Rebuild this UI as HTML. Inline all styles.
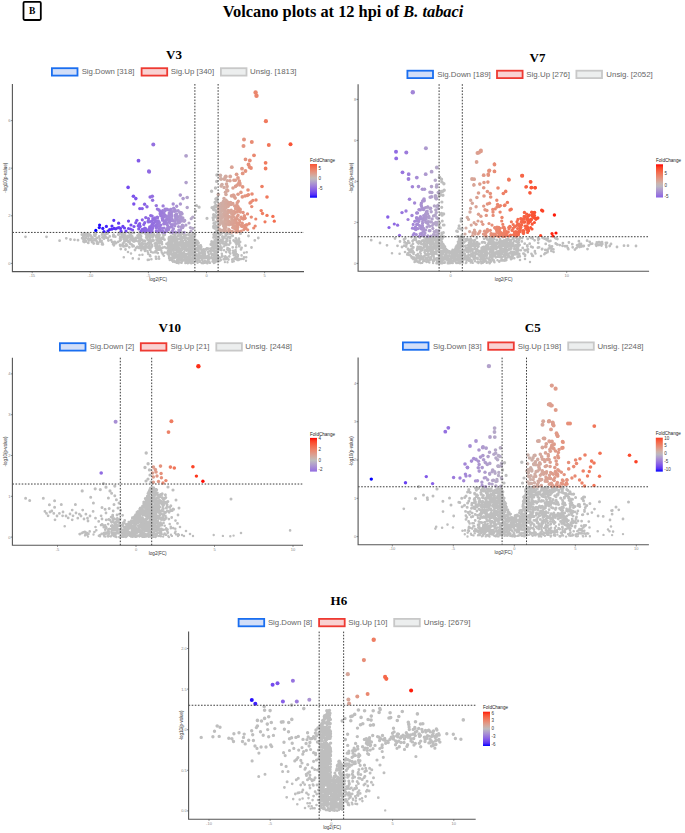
<!DOCTYPE html>
<html><head><meta charset="utf-8"><style>html,body{margin:0;padding:0;background:#fff;}svg{display:block;}.ss{font-family:'Liberation Sans',sans-serif;}.sf{font-family:'Liberation Serif',serif;}</style></head>
<body>
<svg width="685" height="833" viewBox="0 0 685 833">
<rect width="685" height="833" fill="#fff"/>
<rect x="23.5" y="1.9" width="17.3" height="18.1" rx="1.2" fill="none" stroke="#000" stroke-width="1.8"/>
<text x="32.2" y="13.8" class="sf" font-weight="bold" font-size="9.5" text-anchor="middle">B</text>
<text x="343" y="16.5" class="sf" font-weight="bold" font-size="16.4" text-anchor="middle">Volcano plots at 12 hpi of <tspan font-style="italic">B. tabaci</tspan></text>
<text x="174" y="58.6" class="sf" font-weight="bold" font-size="13" text-anchor="middle">V3</text>
<rect x="51.9" y="68.2" width="25.6" height="7.4" fill="#d2def8" stroke="#1a6ef0" stroke-width="1.8"/>
<text x="81.7" y="74.3" class="ss" font-size="8" fill="#666" textLength="52.7" lengthAdjust="spacingAndGlyphs">Sig.Down [318]</text>
<rect x="141.6" y="68.2" width="25.6" height="7.4" fill="#f9d2d2" stroke="#ee3a32" stroke-width="1.8"/>
<text x="170.7" y="74.3" class="ss" font-size="8" fill="#666" textLength="43.5" lengthAdjust="spacingAndGlyphs">Sig.Up [340]</text>
<rect x="220.9" y="68.2" width="25.6" height="7.4" fill="#eceeee" stroke="#c8c8c8" stroke-width="1.8"/>
<text x="250.1" y="74.3" class="ss" font-size="8" fill="#666" textLength="46.4" lengthAdjust="spacingAndGlyphs">Unsig. [1813]</text>
<path d="M25.5 236.8h0M46.5 236.8h0M59.6 240.7h0M66.3 238.3h0M70.5 239.5h0M74.5 239.8h0M78.0 240.2h0M83.0 239.0h0M83.5 236.3h0M86.0 241.5h0M88.5 238.5h0M91.0 236.0h0M92.0 242.0h0M95.0 239.5h0M97.0 243.5h0M102.4 237.4h0M84.2 239.4h0M83.4 238.4h0M98.1 243.7h0M103.9 237.9h0M114.6 236.4h0M93.7 243.5h0M88.9 240.4h0M106.3 237.5h0M107.9 238.3h0M93.9 240.4h0M99.2 236.5h0M112.2 241.9h0M91.3 240.3h0M102.0 244.3h0M109.7 236.4h0M97.9 242.7h0M87.8 239.1h0M83.5 241.5h0M111.1 240.2h0M115.3 236.7h0M108.4 240.5h0M104.0 238.7h0M113.9 245.3h0M100.0 241.5h0M84.3 242.0h0M113.2 236.3h0M96.7 241.5h0M82.9 238.7h0M86.9 235.8h0M85.1 238.6h0M102.9 244.4h0M113.1 244.2h0M92.6 238.1h0M90.9 239.0h0M104.4 236.0h0M82.2 238.2h0M96.0 240.1h0M118.2 241.8h0M101.6 240.8h0M116.2 243.0h0M115.2 243.3h0M96.9 237.9h0M85.9 241.1h0M85.9 237.4h0M91.6 237.2h0M99.7 239.0h0M95.0 236.1h0M114.8 241.9h0M91.9 237.5h0M88.3 242.9h0M102.2 243.0h0M114.4 243.4h0M113.1 242.5h0M90.6 239.5h0M121.1 237.1h0M130.4 243.9h0M158.3 239.9h0M158.2 238.5h0M128.8 236.2h0M127.9 235.9h0M145.0 247.4h0M153.6 240.4h0M146.1 245.7h0M123.4 243.4h0M156.4 245.4h0M150.0 240.4h0M127.1 245.5h0M133.3 245.7h0M158.9 239.0h0M136.1 248.1h0M156.2 245.8h0M125.8 246.1h0M159.2 243.3h0M134.0 241.6h0M158.8 243.2h0M141.1 247.9h0M137.4 246.9h0M153.0 236.0h0M130.1 237.3h0M129.6 242.2h0M130.4 239.4h0M134.2 240.1h0M143.3 247.4h0M136.8 247.6h0M140.1 241.3h0M120.2 245.7h0M126.9 240.3h0M149.0 241.7h0M133.0 241.1h0M142.2 245.4h0M124.2 241.7h0M129.9 237.1h0M150.9 240.9h0M142.5 245.0h0M156.5 239.8h0M144.5 240.8h0M140.5 243.9h0M138.1 241.3h0M139.1 248.0h0M148.0 247.0h0M157.7 236.8h0M142.4 248.1h0M124.9 239.8h0M122.9 236.5h0M122.9 243.5h0M151.4 247.3h0M126.2 244.3h0M135.9 240.5h0M159.6 246.2h0M126.5 239.6h0M140.6 238.1h0M127.8 237.8h0M142.2 239.8h0M120.7 238.0h0M145.0 241.0h0M124.2 236.9h0M121.6 245.4h0M136.9 247.5h0M152.8 236.8h0M142.8 244.1h0M147.5 239.5h0M145.4 245.7h0M138.2 238.1h0M142.1 247.8h0M141.1 236.4h0M122.0 235.8h0M132.5 237.5h0M150.4 237.3h0M149.3 241.6h0M127.6 240.3h0M152.8 239.6h0M139.8 246.3h0M135.7 240.9h0M133.7 246.2h0M148.3 243.0h0M136.2 238.2h0M122.8 244.7h0M123.4 246.4h0M154.8 243.6h0M131.3 236.5h0M131.7 240.1h0M126.3 239.9h0M158.9 241.5h0M132.4 238.4h0M120.0 238.8h0M139.0 240.8h0M128.0 240.8h0M120.2 236.9h0M123.6 239.1h0M132.2 236.3h0M143.4 241.2h0M150.0 243.3h0M148.6 247.0h0M135.6 237.9h0M149.0 243.1h0M155.7 242.9h0M149.4 245.9h0M125.6 241.1h0M140.2 246.3h0M152.2 246.1h0M143.4 247.2h0M147.3 243.9h0M125.3 238.5h0M124.2 246.3h0M142.3 242.9h0M145.0 243.7h0M151.9 244.8h0M140.1 241.3h0M149.5 236.7h0M123.0 236.9h0M149.2 235.9h0M139.8 238.8h0M139.2 243.8h0M150.7 242.7h0M125.9 236.7h0M149.7 237.5h0M122.4 236.9h0M146.9 243.9h0M147.0 237.3h0M140.7 240.2h0M155.7 235.8h0M159.1 247.9h0M120.7 240.1h0M138.0 236.9h0M128.4 242.1h0M125.7 241.1h0M152.8 240.9h0M155.5 244.1h0M129.3 247.3h0M120.1 240.6h0M138.0 237.5h0M125.6 238.2h0M132.6 246.4h0M120.1 244.9h0M157.1 244.3h0M156.1 237.3h0M134.9 239.0h0M160.0 242.2h0M134.4 239.6h0M124.1 246.3h0M130.0 236.9h0M155.4 245.9h0M145.2 247.6h0M157.6 241.6h0M149.3 239.9h0M150.1 243.1h0M138.9 238.2h0M131.9 244.7h0M159.1 236.8h0M146.2 237.5h0M120.8 249.0h0M125.5 249.5h0M135.0 250.0h0M143.3 248.4h0M149.9 249.3h0M149.0 248.1h0M146.8 247.4h0M144.8 249.9h0M159.4 247.9h0M157.3 249.2h0M145.4 249.7h0M157.5 246.3h0M159.4 249.7h0M142.2 248.3h0M185.4 245.7h0M171.5 244.4h0M171.0 239.8h0M178.5 243.7h0M184.2 238.3h0M176.1 249.7h0M174.3 244.3h0M176.3 238.6h0M179.3 244.5h0M174.1 238.9h0M177.1 248.7h0M186.4 243.0h0M181.6 243.2h0M194.2 245.9h0M190.1 243.9h0M181.4 242.8h0M174.0 248.6h0M172.0 248.0h0M171.8 239.3h0M169.6 248.0h0M193.2 246.4h0M188.2 238.8h0M185.9 247.6h0M178.1 246.4h0M172.6 238.1h0M175.6 246.9h0M193.8 241.1h0M194.0 243.3h0M190.2 249.0h0M169.3 250.0h0M173.2 247.3h0M192.2 238.8h0M188.7 239.0h0M168.9 239.6h0M192.8 244.5h0M177.2 244.9h0M176.5 245.0h0M193.5 238.6h0M178.4 244.4h0M193.1 242.6h0M184.4 246.3h0M176.6 247.2h0M189.1 240.0h0M174.7 239.6h0M175.2 240.1h0M187.2 249.4h0M174.3 248.6h0M185.9 241.1h0M190.7 245.5h0M183.3 247.5h0M187.9 243.1h0M174.7 244.2h0M183.6 246.3h0M181.7 243.9h0M194.8 240.6h0M169.1 245.5h0M171.2 242.8h0M193.1 247.5h0M191.4 249.4h0M193.5 240.7h0M173.9 247.4h0M171.8 243.2h0M185.6 243.2h0M168.3 246.3h0M186.3 242.7h0M176.4 243.2h0M169.7 240.6h0M185.3 240.3h0M179.1 245.2h0M177.6 248.6h0M177.8 243.0h0M187.7 243.2h0M180.4 242.1h0M171.9 245.2h0M173.3 241.2h0M181.0 239.4h0M193.0 247.9h0M190.3 242.1h0M189.2 243.6h0M190.4 242.6h0M173.9 248.2h0M182.0 247.7h0M171.3 244.3h0M188.5 239.0h0M190.6 241.0h0M184.9 245.8h0M180.1 249.1h0M181.2 244.0h0M180.4 242.6h0M180.8 240.7h0M171.5 248.9h0M170.5 249.2h0M181.8 239.0h0M185.2 240.1h0M181.8 239.4h0M181.6 247.6h0M193.7 241.5h0M192.7 242.2h0M169.8 246.9h0M188.4 242.0h0M192.2 245.0h0M190.0 241.6h0M173.6 244.7h0M181.7 246.1h0M169.0 242.6h0M185.2 247.1h0M185.0 248.0h0M189.5 244.7h0M179.9 242.5h0M188.1 239.2h0M190.1 244.4h0M176.4 238.0h0M168.9 241.8h0M184.6 249.0h0M171.6 243.8h0M185.6 238.6h0M168.1 247.0h0M170.9 247.1h0M183.9 243.2h0M174.6 241.8h0M178.9 244.7h0M183.2 246.9h0M185.4 249.3h0M179.0 244.0h0M193.4 241.6h0M190.0 242.4h0M176.4 245.6h0M188.1 249.8h0M188.0 249.5h0M174.1 240.7h0M174.3 239.0h0M187.2 244.8h0M183.0 249.1h0M194.1 243.5h0M191.8 238.4h0M175.0 244.0h0M188.1 246.3h0M191.8 246.3h0M183.4 245.8h0M171.9 238.7h0M177.3 241.6h0M168.8 239.1h0M170.9 243.2h0M171.0 238.9h0M185.1 245.3h0M170.7 240.5h0M188.4 243.2h0M176.6 248.8h0M168.6 244.5h0M177.9 246.1h0M168.8 248.5h0M182.5 243.5h0M191.3 240.3h0M190.1 242.3h0M168.0 243.1h0M175.7 243.5h0M185.0 247.0h0M178.8 248.0h0M192.0 240.2h0M192.0 238.6h0M173.6 244.7h0M174.3 249.7h0M177.4 246.3h0M172.6 249.1h0M171.4 249.7h0M191.9 244.0h0M173.2 245.7h0M172.2 242.0h0M174.7 246.3h0M182.1 242.1h0M176.9 242.8h0M170.7 247.8h0M187.8 249.0h0M170.9 243.2h0M178.5 238.9h0M185.1 249.8h0M192.5 248.9h0M179.4 243.8h0M185.3 249.5h0M170.6 248.7h0M185.0 244.4h0M179.4 249.6h0M184.8 248.4h0M189.0 247.9h0M177.6 239.4h0M175.4 248.2h0M168.4 248.6h0M177.5 244.7h0M178.6 243.4h0M180.6 245.5h0M182.8 241.2h0M190.5 247.0h0M191.0 244.8h0M178.2 244.4h0M179.5 242.7h0M175.6 244.2h0M185.8 247.2h0M185.1 238.4h0M185.7 244.4h0M170.7 241.6h0M177.4 241.9h0M183.0 244.7h0M174.3 241.5h0M181.3 239.5h0M180.6 241.7h0M178.1 248.6h0M193.9 239.9h0M192.2 238.9h0M177.9 250.1h0M173.7 249.1h0M190.3 245.4h0M190.3 248.3h0M181.6 244.9h0M176.9 246.1h0M169.3 245.6h0M168.2 242.8h0M166.4 248.1h0M161.1 248.5h0M162.5 247.7h0M162.3 237.9h0M162.0 244.2h0M161.8 241.9h0M160.1 239.1h0M155.4 243.3h0M155.7 243.5h0M151.0 247.0h0M164.6 247.2h0M166.5 243.9h0M150.3 242.4h0M167.7 244.6h0M161.6 237.9h0M150.1 249.9h0M162.9 238.7h0M163.2 237.3h0M150.3 249.1h0M156.6 247.2h0M157.9 249.8h0M156.5 248.9h0M161.3 243.2h0M160.2 240.0h0M156.0 247.9h0M160.8 240.4h0M156.8 250.0h0M164.5 239.7h0M150.0 239.2h0M157.6 247.5h0M190.0 237.8h0M169.1 237.5h0M189.9 237.7h0M191.0 237.3h0M186.5 238.0h0M182.9 237.3h0M173.4 237.0h0M184.4 236.6h0M174.9 237.0h0M170.4 237.3h0M183.6 237.9h0M180.9 236.0h0M172.9 236.7h0M177.8 235.9h0M170.9 236.3h0M168.9 238.4h0M193.6 237.1h0M190.1 238.3h0M183.0 237.7h0M180.4 238.2h0M171.2 238.3h0M174.9 235.9h0M185.3 238.2h0M194.1 238.5h0M197.4 242.5h0M198.2 246.3h0M213.9 247.3h0M211.4 249.6h0M214.3 242.8h0M198.9 247.7h0M197.2 241.4h0M211.7 241.6h0M213.6 243.0h0M214.1 248.8h0M199.3 245.9h0M216.0 239.2h0M211.9 245.1h0M213.6 242.9h0M215.9 247.2h0M215.1 240.7h0M195.1 248.6h0M216.9 247.8h0M206.8 248.9h0M217.3 239.4h0M208.3 248.7h0M214.3 248.7h0M212.9 243.0h0M196.2 248.5h0M200.7 245.5h0M216.9 241.4h0M217.0 248.4h0M201.2 246.9h0M197.0 249.4h0M205.6 249.4h0M200.1 248.3h0M195.3 243.4h0M214.8 239.9h0M215.0 246.1h0M196.4 244.5h0M198.6 242.9h0M213.9 248.5h0M212.5 247.2h0M216.0 236.4h0M211.6 241.6h0M204.0 249.7h0M216.2 242.5h0M217.1 238.8h0M206.9 248.5h0M210.8 244.5h0M210.6 248.7h0M197.3 244.1h0M204.2 249.8h0M217.2 247.5h0M217.9 243.1h0M215.4 245.5h0M195.1 241.9h0M206.5 249.6h0M212.7 242.5h0M211.5 243.4h0M213.8 241.9h0M217.3 241.5h0M197.1 240.8h0M214.2 236.4h0M213.5 237.4h0M215.1 236.3h0M206.8 249.3h0M197.5 249.9h0M214.5 243.4h0M195.9 242.1h0M196.1 240.1h0M211.0 244.7h0M216.8 245.6h0M216.3 236.4h0M201.0 249.4h0M196.4 243.6h0M216.5 243.4h0M198.3 249.9h0M197.6 241.4h0M196.4 241.2h0M217.5 249.9h0M197.5 247.6h0M214.3 241.7h0M214.0 242.4h0M203.5 249.5h0M213.1 245.6h0M215.8 237.6h0M216.9 247.4h0M226.8 240.4h0M220.5 246.3h0M220.4 249.6h0M223.0 237.0h0M229.4 249.1h0M222.5 237.2h0M226.8 244.6h0M224.2 237.4h0M229.0 244.7h0M219.0 242.7h0M220.2 243.7h0M223.0 243.4h0M218.6 237.0h0M226.7 240.9h0M221.6 248.0h0M222.7 241.2h0M227.6 248.2h0M226.3 243.3h0M225.2 245.0h0M218.8 242.9h0M224.3 243.8h0M221.2 239.8h0M222.5 236.7h0M223.9 246.3h0M225.4 241.8h0M221.9 242.0h0M227.4 249.5h0M230.2 243.0h0M219.0 238.0h0M218.9 247.5h0M229.7 241.0h0M220.1 240.8h0M227.2 239.2h0M223.2 238.7h0M226.4 238.6h0M222.4 236.7h0M220.4 249.1h0M226.4 245.0h0M237.5 242.8h0M232.7 247.3h0M236.4 240.5h0M241.0 249.4h0M230.2 237.1h0M239.4 245.3h0M236.4 242.6h0M238.4 240.5h0M238.9 242.0h0M234.3 241.1h0M238.8 243.5h0M228.4 236.9h0M235.8 238.3h0M230.1 238.1h0M238.9 240.0h0M236.9 243.0h0M239.2 246.3h0M235.6 242.6h0M236.2 247.3h0M235.7 241.3h0M236.5 244.6h0M241.6 247.8h0M233.6 240.4h0M240.1 242.0h0M238.9 238.7h0M254.8 240.4h0M245.5 245.7h0M251.5 247.5h0M258.3 238.0h0M248.5 236.0h0" stroke="#bebebe" stroke-width="2.8" stroke-linecap="round" fill="none"/>
<path d="M94.3 234.5h0M106.7 233.5h0M84.7 233.7h0M86.7 235.5h0M119.1 233.1h0M87.5 234.1h0M102.8 233.3h0M84.3 235.3h0M119.2 234.1h0M88.4 234.1h0M118.4 234.5h0M88.7 235.6h0M107.7 233.2h0M84.4 233.4h0M89.9 234.7h0M94.9 233.2h0M82.0 234.5h0M105.3 234.5h0M95.8 234.2h0M85.3 233.9h0M113.5 234.7h0M102.1 234.5h0M102.6 232.9h0M94.5 235.5h0M95.5 232.9h0M149.0 235.3h0M125.1 235.0h0M125.2 232.7h0M140.9 232.8h0M137.6 235.5h0M153.6 234.8h0M146.4 234.9h0M148.9 232.8h0M130.8 234.6h0M123.6 233.4h0M130.7 234.6h0M124.4 235.2h0M140.0 235.4h0M133.9 232.8h0M130.0 232.8h0M157.4 234.3h0M122.2 234.6h0M130.2 235.2h0M121.7 232.9h0M159.4 235.0h0M129.2 233.0h0M139.6 232.6h0M146.4 233.6h0M145.7 233.8h0M142.7 232.7h0M138.7 234.5h0M158.1 234.7h0M139.4 232.9h0M153.6 234.5h0M131.0 233.3h0M140.4 235.6h0M148.8 233.3h0M131.4 233.3h0M157.1 234.6h0M163.7 235.1h0M153.3 233.4h0M150.7 235.5h0M157.4 235.1h0M152.7 232.9h0M152.3 233.0h0M163.1 234.6h0M162.9 232.8h0M164.7 234.5h0M158.8 234.0h0M183.4 234.1h0M177.4 233.0h0M193.2 233.9h0M180.6 233.7h0M189.4 235.3h0M188.8 233.9h0M191.9 235.6h0M173.1 233.7h0M178.9 235.6h0M172.0 232.8h0M194.9 234.7h0M189.3 233.4h0M184.1 234.6h0M182.0 232.6h0M191.4 235.4h0M183.3 234.1h0M189.0 235.1h0M174.9 232.7h0M173.4 233.6h0M170.3 232.8h0M192.6 232.9h0M184.1 234.9h0M186.1 234.9h0M180.1 233.5h0M174.0 232.7h0M174.9 234.6h0M214.3 234.0h0M215.6 234.3h0M217.5 233.0h0M215.3 233.6h0M215.0 232.6h0M213.7 234.4h0M214.7 228.3h0M213.4 220.1h0M213.6 227.5h0M215.2 227.5h0M215.8 222.1h0M218.0 222.3h0M213.5 226.3h0M217.4 218.7h0M217.6 227.8h0M213.8 223.2h0M214.7 223.9h0M216.4 226.1h0M216.7 230.6h0M227.4 233.8h0M225.8 235.6h0M219.5 233.1h0M225.7 233.8h0M222.3 233.1h0M220.2 234.5h0M221.3 233.2h0M225.8 235.0h0M232.6 235.7h0M230.3 233.8h0M240.5 233.5h0" stroke="#bebebe" stroke-width="3.0" stroke-linecap="round" fill="none"/>
<path d="M123.8 257.3h0M131.0 253.5h0M132.8 258.4h0M139.5 255.0h0M138.8 258.9h0M142.4 254.8h0M148.9 259.7h0M153.0 252.5h0M155.5 251.6h0M155.8 256.8h0M156.0 258.8h0M128.0 252.0h0M145.0 251.0h0M150.0 256.0h0M151.1 251.9h0M151.4 259.3h0M155.0 252.2h0M148.3 253.9h0M147.5 251.1h0M141.2 250.2h0M150.1 255.4h0M148.0 252.7h0M159.1 258.7h0M157.9 253.1h0M147.8 259.9h0M156.5 258.8h0M150.4 256.2h0M158.8 256.8h0M185.5 257.4h0M180.3 252.0h0M169.1 257.9h0M185.2 255.7h0M182.2 252.8h0M193.9 254.4h0M191.9 250.1h0M193.9 255.9h0M181.5 255.1h0M189.5 256.8h0M174.0 257.3h0M192.3 260.4h0M177.6 258.9h0M179.1 258.6h0M193.9 253.7h0M175.1 256.2h0M192.7 254.1h0M174.3 250.1h0M179.6 250.5h0M189.7 256.8h0M190.2 257.6h0M173.3 257.1h0M168.9 252.0h0M170.6 250.7h0M184.7 255.1h0M188.2 259.5h0M172.1 260.5h0M189.8 254.6h0M180.8 258.8h0M194.3 252.8h0M175.0 257.8h0M184.1 253.7h0M174.9 253.2h0M189.5 251.9h0M178.7 252.0h0M172.4 255.7h0M176.4 252.4h0M179.4 258.8h0M179.0 260.4h0M168.4 252.0h0M170.4 253.8h0M178.0 250.8h0M170.9 250.5h0M192.4 253.8h0M178.9 259.5h0M169.1 252.3h0M184.2 252.0h0M179.3 252.8h0M179.5 254.7h0M168.6 253.7h0M188.6 257.8h0M187.8 257.8h0M187.8 258.7h0M172.6 257.9h0M171.1 251.5h0M191.6 252.1h0M183.7 260.4h0M194.7 252.7h0M177.7 257.4h0M183.8 254.9h0M174.1 252.8h0M184.8 250.1h0M170.6 254.2h0M191.5 257.9h0M168.3 254.4h0M193.3 256.6h0M169.2 251.5h0M169.6 257.8h0M168.3 252.0h0M173.4 253.4h0M181.7 254.3h0M189.1 256.2h0M177.1 257.0h0M186.8 259.5h0M189.3 251.3h0M175.2 254.3h0M185.0 255.6h0M180.7 259.3h0M186.8 259.8h0M179.8 256.4h0M173.7 253.8h0M186.7 254.1h0M186.8 256.7h0M169.8 253.0h0M177.8 258.8h0M169.8 260.0h0M190.9 258.6h0M185.1 259.0h0M175.6 256.2h0M194.0 250.8h0M191.0 253.7h0M179.8 257.6h0M177.4 255.9h0M168.1 250.5h0M181.3 258.2h0M173.0 250.6h0M177.4 259.1h0M186.9 250.7h0M171.0 254.2h0M170.2 258.0h0M186.8 258.0h0M192.3 250.7h0M178.2 260.5h0M182.4 257.2h0M188.3 254.4h0M172.2 259.4h0M185.9 256.8h0M188.9 252.7h0M187.0 259.4h0M194.3 256.5h0M194.6 258.2h0M173.3 254.2h0M178.8 258.1h0M186.7 250.7h0M171.8 253.3h0M178.9 256.8h0M183.5 257.0h0M187.5 260.4h0M188.9 255.8h0M191.0 255.3h0M176.5 254.0h0M189.1 256.1h0M172.9 254.6h0M169.0 251.8h0M172.3 257.9h0M193.4 251.2h0M170.7 252.6h0M182.6 256.2h0M181.8 254.2h0M190.4 251.3h0M173.7 255.4h0M178.6 257.4h0M179.4 255.7h0M174.1 256.8h0M193.4 251.4h0M173.9 258.4h0M171.5 257.7h0M189.9 254.1h0M180.7 252.3h0M177.5 254.2h0M190.1 258.7h0M176.1 250.2h0M179.6 254.2h0M193.1 259.7h0M169.5 259.0h0M192.5 257.9h0M171.8 259.1h0M174.3 257.7h0M192.4 258.1h0M184.4 257.8h0M189.3 259.3h0M173.3 255.6h0M182.3 256.8h0M179.8 260.4h0M181.3 250.7h0M182.6 259.9h0M180.6 252.3h0M186.0 259.4h0M185.2 254.2h0M168.8 253.5h0M181.8 250.3h0M187.4 253.9h0M177.1 259.9h0M182.2 257.6h0M179.4 252.1h0M185.7 258.1h0M176.1 252.9h0M185.1 257.9h0M169.1 256.4h0M191.9 251.9h0M192.9 253.5h0M161.8 252.6h0M163.9 255.8h0M164.8 252.6h0M162.8 254.3h0M161.3 250.6h0M155.6 251.1h0M156.9 252.5h0M167.0 252.5h0M162.7 253.6h0M167.6 253.7h0M215.8 260.5h0M213.1 254.4h0M208.6 255.9h0M214.9 260.0h0M214.4 251.9h0M198.3 259.4h0M202.3 260.4h0M196.3 260.2h0M199.1 256.3h0M209.1 254.4h0M213.7 250.5h0M214.4 259.2h0M199.3 258.2h0M203.5 250.9h0M197.8 254.6h0M213.8 259.2h0M202.4 254.5h0M203.8 255.7h0M196.4 259.5h0M200.8 257.8h0M195.4 251.0h0M215.0 254.7h0M208.6 259.1h0M198.4 250.2h0M213.7 258.7h0M217.3 256.5h0M216.5 252.1h0M213.6 259.8h0M202.0 252.5h0M197.8 250.9h0M214.3 251.3h0M208.1 252.6h0M199.6 254.5h0M203.8 250.6h0M201.8 256.4h0M205.1 255.2h0M217.1 255.3h0M203.1 253.4h0M209.2 258.8h0M212.0 255.5h0M213.1 254.4h0M212.6 250.6h0M213.0 259.5h0M213.1 258.8h0M198.3 250.3h0M214.4 258.4h0M216.2 256.4h0M203.2 250.9h0M208.2 259.7h0M205.1 251.8h0M207.2 257.7h0M217.5 258.0h0M215.6 253.8h0M209.5 251.1h0M204.5 256.8h0M202.1 253.8h0M214.4 250.6h0M201.1 252.5h0M207.0 257.9h0M209.1 257.4h0M197.3 260.4h0M196.3 260.0h0M205.1 251.7h0M216.4 258.9h0M202.2 260.3h0M202.1 259.5h0M206.1 257.0h0M197.8 258.0h0M198.6 254.3h0M205.2 258.3h0M203.1 254.8h0M215.7 250.7h0M201.2 256.3h0M203.9 252.8h0M199.1 258.8h0M202.4 253.0h0M197.9 254.6h0M215.9 256.4h0M215.3 259.1h0M195.7 253.5h0M204.5 252.9h0M211.9 254.5h0M214.3 250.1h0M205.0 253.6h0M214.2 256.5h0M214.6 251.3h0M197.6 257.0h0M212.2 258.1h0M216.4 253.9h0M212.0 258.1h0M196.2 254.1h0M211.2 257.4h0M217.3 252.2h0M211.3 253.2h0M201.9 259.8h0M202.7 257.7h0M207.6 256.0h0M198.9 253.1h0M212.6 258.2h0M199.5 254.2h0M217.8 255.7h0M196.9 254.7h0M216.1 252.4h0M195.6 256.4h0M199.3 252.2h0M198.9 256.7h0M214.1 255.4h0M203.5 258.2h0M208.0 251.9h0M213.9 254.3h0M214.3 258.9h0M201.5 252.9h0M210.3 258.0h0M217.3 260.6h0M217.1 251.7h0M210.6 251.3h0M201.8 250.1h0M225.1 257.3h0M228.9 250.5h0M219.4 257.2h0M221.8 253.7h0M227.0 257.5h0M224.5 259.5h0M220.4 257.8h0M229.3 251.4h0M220.8 260.1h0M224.1 250.3h0M218.1 250.4h0M221.4 250.1h0M225.3 256.3h0M229.3 256.4h0M226.2 252.1h0M228.3 259.5h0M230.2 253.6h0M222.0 256.1h0M218.1 259.4h0M230.0 250.5h0M222.6 256.4h0M223.6 259.3h0M225.8 259.2h0M228.5 259.6h0M229.4 252.3h0M222.2 255.7h0M236.6 254.0h0M235.5 250.1h0M235.8 252.1h0M238.0 255.1h0M234.7 252.0h0M232.5 259.2h0M233.7 255.1h0M233.0 252.8h0M238.4 258.5h0M233.0 250.7h0M238.6 259.9h0M244.1 252.7h0M235.5 250.8h0M234.5 258.4h0M244.0 257.4h0M239.8 259.2h0M234.6 253.8h0M241.3 259.0h0M235.4 259.0h0M237.8 256.3h0M232.2 259.7h0M234.4 255.1h0M237.4 259.9h0M243.5 258.9h0M235.8 256.6h0M237.1 258.8h0M246.7 252.2h0M246.2 257.3h0M241.6 255.4h0" stroke="#bebebe" stroke-width="2.6" stroke-linecap="round" fill="none"/>
<path d="M174.3 261.4h0M186.0 261.5h0M176.0 262.2h0M186.0 262.1h0M187.8 263.3h0M173.0 261.8h0M178.1 261.4h0M188.2 260.8h0M193.8 262.2h0M176.8 262.9h0M191.9 263.1h0M178.7 263.2h0M190.7 261.2h0M176.3 262.2h0M191.3 263.3h0M185.3 261.1h0M182.1 261.5h0M189.7 262.6h0M193.5 262.8h0M187.6 260.8h0M191.1 263.3h0M181.3 262.3h0M189.3 261.6h0M181.6 261.4h0M186.4 260.7h0M185.3 263.0h0M181.8 260.7h0M174.7 260.9h0M188.1 262.0h0M174.5 261.1h0M186.0 262.9h0M190.1 260.6h0M192.7 262.0h0M188.6 262.8h0M175.0 262.0h0M186.2 261.6h0M181.2 262.8h0M179.1 262.1h0M172.5 260.6h0M186.0 260.7h0M186.4 261.7h0M176.9 262.9h0M181.7 262.8h0M209.9 262.9h0M212.4 261.5h0M195.8 261.2h0M200.1 261.4h0M197.2 261.2h0M197.6 262.7h0M203.4 263.1h0M218.0 261.1h0M214.0 261.5h0M204.1 261.6h0M205.0 262.8h0M213.5 260.7h0M217.0 261.4h0M207.5 261.1h0M201.6 263.0h0M206.5 262.2h0M204.8 260.6h0M207.4 263.3h0M203.1 261.8h0M213.9 263.1h0M203.1 263.2h0M207.2 263.3h0M208.4 262.2h0M208.9 262.2h0M206.4 261.8h0M203.7 262.1h0M199.8 261.9h0M197.7 260.7h0M199.8 260.8h0M209.4 261.4h0M214.5 261.1h0M215.8 261.7h0M205.2 262.5h0M214.9 262.6h0M219.5 261.1h0M224.9 262.1h0M227.5 262.3h0M233.8 261.3h0M232.3 261.8h0M246.0 260.8h0" stroke="#bebebe" stroke-width="2.4" stroke-linecap="round" fill="none"/>
<path d="M216.2 206.9h0M216.4 212.3h0M214.9 217.2h0M215.1 215.3h0M215.8 210.5h0M217.4 216.0h0M215.7 205.2h0M215.4 216.2h0M214.1 216.9h0M213.6 214.7h0M216.8 200.2h0M215.0 202.3h0M217.8 216.6h0M216.9 201.0h0M214.2 209.6h0M213.1 217.7h0M214.1 206.9h0M216.5 211.5h0M217.4 216.5h0M213.6 209.6h0M207.0 218.3h0M212.0 207.6h0M215.0 217.0h0M199.1 207.2h0M195.5 211.0h0M196.5 205.5h0" stroke="#bebebe" stroke-width="3.2" stroke-linecap="round" fill="none"/>
<path d="M215.9 198.9h0M216.9 198.1h0M211.6 191.3h0M216.7 181.4h0M215.5 188.0h0" stroke="#bebebe" stroke-width="3.4" stroke-linecap="round" fill="none"/>
<path d="M217.0 175.0h0" stroke="#bebebe" stroke-width="3.6" stroke-linecap="round" fill="none"/>
<path d="M153.3 144.5h0" stroke="#9470e0" stroke-width="4.0" stroke-linecap="round" fill="none"/>
<path d="M138.5 160.7h0" stroke="#825ae8" stroke-width="3.8" stroke-linecap="round" fill="none"/>
<path d="M148.9 171.2h0" stroke="#8f69e2" stroke-width="3.8" stroke-linecap="round" fill="none"/>
<path d="M186.1 155.8h0" stroke="#b1a0cc" stroke-width="3.8" stroke-linecap="round" fill="none"/>
<path d="M186.1 182.6h0" stroke="#b1a0cc" stroke-width="3.6" stroke-linecap="round" fill="none"/>
<path d="M149.2 171.8h0" stroke="#906ae2" stroke-width="3.8" stroke-linecap="round" fill="none"/>
<path d="M95.8 230.4h0" stroke="#0000ff" stroke-width="3.2" stroke-linecap="round" fill="none"/>
<path d="M99.6 225.1h0" stroke="#230dfd" stroke-width="3.2" stroke-linecap="round" fill="none"/>
<path d="M99.3 227.6h0" stroke="#200cfe" stroke-width="3.2" stroke-linecap="round" fill="none"/>
<path d="M102.8 228.4h0" stroke="#3418fc" stroke-width="3.2" stroke-linecap="round" fill="none"/>
<path d="M106.4 226.4h0" stroke="#4221fa" stroke-width="3.2" stroke-linecap="round" fill="none"/>
<path d="M109.6 229.6h0" stroke="#4c28f8" stroke-width="3.2" stroke-linecap="round" fill="none"/>
<path d="M113.8 220.3h0M114.1 228.4h0" stroke="#5731f6" stroke-width="3.2" stroke-linecap="round" fill="none"/>
<path d="M111.7 229.2h0" stroke="#512df7" stroke-width="3.2" stroke-linecap="round" fill="none"/>
<path d="M115.7 228.8h0" stroke="#5b34f5" stroke-width="3.2" stroke-linecap="round" fill="none"/>
<path d="M117.5 228.0h0" stroke="#5f37f4" stroke-width="3.2" stroke-linecap="round" fill="none"/>
<path d="M119.0 227.6h0" stroke="#623af3" stroke-width="3.2" stroke-linecap="round" fill="none"/>
<path d="M120.5 228.4h0" stroke="#653df2" stroke-width="3.2" stroke-linecap="round" fill="none"/>
<path d="M118.6 223.2h0" stroke="#6139f3" stroke-width="3.2" stroke-linecap="round" fill="none"/>
<path d="M122.9 226.4h0" stroke="#6a41f1" stroke-width="3.2" stroke-linecap="round" fill="none"/>
<path d="M124.5 228.0h0" stroke="#6d43f0" stroke-width="3.2" stroke-linecap="round" fill="none"/>
<path d="M128.5 221.1h0M128.5 228.5h0" stroke="#734aee" stroke-width="3.2" stroke-linecap="round" fill="none"/>
<path d="M130.5 229.0h0" stroke="#774ded" stroke-width="3.2" stroke-linecap="round" fill="none"/>
<path d="M132.6 230.0h0" stroke="#7a50ec" stroke-width="3.2" stroke-linecap="round" fill="none"/>
<path d="M135.8 222.7h0" stroke="#7e55ea" stroke-width="3.2" stroke-linecap="round" fill="none"/>
<path d="M136.9 220.3h0" stroke="#8057e9" stroke-width="3.2" stroke-linecap="round" fill="none"/>
<path d="M138.2 226.0h0" stroke="#8259e8" stroke-width="3.2" stroke-linecap="round" fill="none"/>
<path d="M139.0 224.5h0" stroke="#835ae8" stroke-width="3.2" stroke-linecap="round" fill="none"/>
<path d="M126.0 231.0h0" stroke="#6f46ef" stroke-width="3.2" stroke-linecap="round" fill="none"/>
<path d="M121.0 231.2h0" stroke="#663ef2" stroke-width="3.2" stroke-linecap="round" fill="none"/>
<path d="M108.0 231.0h0" stroke="#4725f9" stroke-width="3.2" stroke-linecap="round" fill="none"/>
<path d="M104.0 231.5h0" stroke="#391bfb" stroke-width="3.2" stroke-linecap="round" fill="none"/>
<path d="M112.0 226.0h0" stroke="#522df7" stroke-width="3.2" stroke-linecap="round" fill="none"/>
<path d="M134.0 226.5h0" stroke="#7c53eb" stroke-width="3.2" stroke-linecap="round" fill="none"/>
<path d="M131.0 225.0h0" stroke="#774eed" stroke-width="3.2" stroke-linecap="round" fill="none"/>
<path d="M128.1 187.4h0" stroke="#7349ee" stroke-width="3.6" stroke-linecap="round" fill="none"/>
<path d="M133.4 196.2h0" stroke="#7b52eb" stroke-width="3.6" stroke-linecap="round" fill="none"/>
<path d="M135.8 198.6h0" stroke="#7e55ea" stroke-width="3.6" stroke-linecap="round" fill="none"/>
<path d="M133.8 204.0h0" stroke="#7c52eb" stroke-width="3.4" stroke-linecap="round" fill="none"/>
<path d="M139.8 208.6h0" stroke="#845ce8" stroke-width="3.4" stroke-linecap="round" fill="none"/>
<path d="M142.2 208.6h0" stroke="#875fe6" stroke-width="3.4" stroke-linecap="round" fill="none"/>
<path d="M144.6 204.3h0" stroke="#8a63e5" stroke-width="3.4" stroke-linecap="round" fill="none"/>
<path d="M147.0 206.7h0" stroke="#8d67e3" stroke-width="3.4" stroke-linecap="round" fill="none"/>
<path d="M150.2 197.0h0" stroke="#916be2" stroke-width="3.6" stroke-linecap="round" fill="none"/>
<path d="M152.3 196.2h0" stroke="#936ee0" stroke-width="3.6" stroke-linecap="round" fill="none"/>
<path d="M152.6 200.3h0" stroke="#936fe0" stroke-width="3.4" stroke-linecap="round" fill="none"/>
<path d="M156.3 205.6h0" stroke="#9774de" stroke-width="3.4" stroke-linecap="round" fill="none"/>
<path d="M163.1 205.9h0M163.1 216.5h0M162.7 210.6h0" stroke="#9e7eda" stroke-width="3.4" stroke-linecap="round" fill="none"/>
<path d="M157.4 209.1h0" stroke="#9876dd" stroke-width="3.4" stroke-linecap="round" fill="none"/>
<path d="M159.0 209.9h0" stroke="#9a78dd" stroke-width="3.4" stroke-linecap="round" fill="none"/>
<path d="M171.1 209.4h0M170.9 215.2h0M170.7 210.9h0M170.7 209.4h0" stroke="#a58ad5" stroke-width="3.4" stroke-linecap="round" fill="none"/>
<path d="M173.2 204.0h0" stroke="#a78dd4" stroke-width="3.4" stroke-linecap="round" fill="none"/>
<path d="M176.7 206.2h0M176.4 217.0h0M176.6 214.0h0M176.4 214.5h0" stroke="#aa92d2" stroke-width="3.4" stroke-linecap="round" fill="none"/>
<path d="M180.3 195.1h0" stroke="#ad98cf" stroke-width="3.6" stroke-linecap="round" fill="none"/>
<path d="M183.1 198.6h0" stroke="#af9cce" stroke-width="3.6" stroke-linecap="round" fill="none"/>
<path d="M187.2 197.5h0" stroke="#b2a2cb" stroke-width="3.6" stroke-linecap="round" fill="none"/>
<path d="M180.4 204.0h0" stroke="#ad98cf" stroke-width="3.4" stroke-linecap="round" fill="none"/>
<path d="M187.2 207.5h0" stroke="#b2a2cb" stroke-width="3.4" stroke-linecap="round" fill="none"/>
<path d="M181.9 213.9h0" stroke="#ae9ace" stroke-width="3.4" stroke-linecap="round" fill="none"/>
<path d="M182.8 217.9h0" stroke="#af9bce" stroke-width="3.4" stroke-linecap="round" fill="none"/>
<path d="M191.2 218.7h0" stroke="#b5a8c8" stroke-width="3.2" stroke-linecap="round" fill="none"/>
<path d="M192.8 217.1h0" stroke="#b6aac7" stroke-width="3.4" stroke-linecap="round" fill="none"/>
<path d="M190.4 227.6h0" stroke="#b4a6c9" stroke-width="3.2" stroke-linecap="round" fill="none"/>
<path d="M192.8 228.4h0" stroke="#b6aac7" stroke-width="3.2" stroke-linecap="round" fill="none"/>
<path d="M182.8 227.6h0M182.7 225.6h0" stroke="#af9bce" stroke-width="3.2" stroke-linecap="round" fill="none"/>
<path d="M189.0 223.0h0" stroke="#b3a4ca" stroke-width="3.2" stroke-linecap="round" fill="none"/>
<path d="M191.0 231.0h0" stroke="#b5a7c9" stroke-width="3.2" stroke-linecap="round" fill="none"/>
<path d="M154.5 219.4h0M154.4 218.9h0" stroke="#9572df" stroke-width="3.2" stroke-linecap="round" fill="none"/>
<path d="M155.0 217.9h0" stroke="#9673df" stroke-width="3.4" stroke-linecap="round" fill="none"/>
<path d="M156.6 224.4h0M156.6 227.0h0" stroke="#9875de" stroke-width="3.2" stroke-linecap="round" fill="none"/>
<path d="M155.5 225.8h0" stroke="#9673df" stroke-width="3.2" stroke-linecap="round" fill="none"/>
<path d="M168.5 209.9h0" stroke="#a386d7" stroke-width="3.4" stroke-linecap="round" fill="none"/>
<path d="M163.1 219.6h0M162.7 231.0h0" stroke="#9e7eda" stroke-width="3.2" stroke-linecap="round" fill="none"/>
<path d="M158.0 231.6h0M158.3 222.6h0M158.3 220.9h0" stroke="#9977dd" stroke-width="3.2" stroke-linecap="round" fill="none"/>
<path d="M160.1 211.5h0M160.2 213.7h0" stroke="#9b7adc" stroke-width="3.4" stroke-linecap="round" fill="none"/>
<path d="M165.1 221.1h0M164.6 232.3h0M165.1 223.5h0" stroke="#a081d9" stroke-width="3.2" stroke-linecap="round" fill="none"/>
<path d="M175.5 223.6h0" stroke="#a991d3" stroke-width="3.2" stroke-linecap="round" fill="none"/>
<path d="M170.1 220.9h0" stroke="#a489d6" stroke-width="3.2" stroke-linecap="round" fill="none"/>
<path d="M175.5 232.0h0" stroke="#a991d2" stroke-width="3.2" stroke-linecap="round" fill="none"/>
<path d="M182.3 225.2h0M182.3 219.2h0" stroke="#ae9bce" stroke-width="3.2" stroke-linecap="round" fill="none"/>
<path d="M164.8 215.1h0M165.1 209.2h0" stroke="#a081d9" stroke-width="3.4" stroke-linecap="round" fill="none"/>
<path d="M165.5 231.7h0M165.5 221.8h0M165.3 223.7h0" stroke="#a082d9" stroke-width="3.2" stroke-linecap="round" fill="none"/>
<path d="M164.3 216.8h0" stroke="#9f80d9" stroke-width="3.4" stroke-linecap="round" fill="none"/>
<path d="M165.2 210.6h0" stroke="#a082d9" stroke-width="3.4" stroke-linecap="round" fill="none"/>
<path d="M172.5 230.5h0" stroke="#a78cd4" stroke-width="3.2" stroke-linecap="round" fill="none"/>
<path d="M159.4 222.5h0M159.2 225.9h0M159.1 222.2h0" stroke="#9a79dc" stroke-width="3.2" stroke-linecap="round" fill="none"/>
<path d="M163.9 213.1h0" stroke="#9f80da" stroke-width="3.4" stroke-linecap="round" fill="none"/>
<path d="M181.2 226.9h0M181.3 227.0h0" stroke="#ae99cf" stroke-width="3.2" stroke-linecap="round" fill="none"/>
<path d="M175.7 215.2h0M175.7 218.4h0" stroke="#a991d2" stroke-width="3.4" stroke-linecap="round" fill="none"/>
<path d="M173.9 220.9h0" stroke="#a88ed3" stroke-width="3.2" stroke-linecap="round" fill="none"/>
<path d="M161.7 231.7h0" stroke="#9d7cdb" stroke-width="3.2" stroke-linecap="round" fill="none"/>
<path d="M181.6 220.0h0M181.8 221.1h0" stroke="#ae9acf" stroke-width="3.2" stroke-linecap="round" fill="none"/>
<path d="M171.9 232.3h0" stroke="#a68bd5" stroke-width="3.2" stroke-linecap="round" fill="none"/>
<path d="M158.7 223.0h0M158.9 229.1h0M158.5 226.1h0" stroke="#9a78dd" stroke-width="3.2" stroke-linecap="round" fill="none"/>
<path d="M177.5 216.6h0M178.1 210.8h0M178.0 216.6h0" stroke="#ab94d1" stroke-width="3.4" stroke-linecap="round" fill="none"/>
<path d="M169.5 222.6h0M169.3 219.1h0M169.4 220.4h0M169.5 219.6h0" stroke="#a488d6" stroke-width="3.2" stroke-linecap="round" fill="none"/>
<path d="M175.1 215.2h0M175.2 216.3h0M175.4 210.9h0M175.1 209.9h0M175.1 210.8h0" stroke="#a990d3" stroke-width="3.4" stroke-linecap="round" fill="none"/>
<path d="M173.3 220.8h0M172.9 224.6h0" stroke="#a78dd4" stroke-width="3.2" stroke-linecap="round" fill="none"/>
<path d="M159.8 230.1h0M160.1 227.2h0M160.0 229.7h0" stroke="#9b7adc" stroke-width="3.2" stroke-linecap="round" fill="none"/>
<path d="M167.5 225.3h0M167.7 227.3h0M167.5 229.6h0M167.7 219.6h0" stroke="#a285d7" stroke-width="3.2" stroke-linecap="round" fill="none"/>
<path d="M184.3 220.4h0M184.8 220.4h0" stroke="#b09ecd" stroke-width="3.2" stroke-linecap="round" fill="none"/>
<path d="M180.1 213.1h0M180.0 215.9h0M180.1 215.7h0" stroke="#ad97d0" stroke-width="3.4" stroke-linecap="round" fill="none"/>
<path d="M156.4 227.9h0" stroke="#9775de" stroke-width="3.2" stroke-linecap="round" fill="none"/>
<path d="M167.0 223.3h0M167.1 218.7h0M167.2 219.4h0M166.8 230.7h0" stroke="#a284d8" stroke-width="3.2" stroke-linecap="round" fill="none"/>
<path d="M180.6 229.7h0" stroke="#ad98cf" stroke-width="3.2" stroke-linecap="round" fill="none"/>
<path d="M164.1 228.1h0M164.3 221.7h0M164.1 223.3h0" stroke="#9f80d9" stroke-width="3.2" stroke-linecap="round" fill="none"/>
<path d="M179.7 220.2h0M179.7 222.0h0M179.6 219.7h0M179.6 231.9h0" stroke="#ac97d0" stroke-width="3.2" stroke-linecap="round" fill="none"/>
<path d="M166.8 209.2h0" stroke="#a184d8" stroke-width="3.4" stroke-linecap="round" fill="none"/>
<path d="M169.3 213.0h0M169.9 216.5h0M169.7 217.4h0" stroke="#a488d6" stroke-width="3.4" stroke-linecap="round" fill="none"/>
<path d="M163.7 215.6h0" stroke="#9f7fda" stroke-width="3.4" stroke-linecap="round" fill="none"/>
<path d="M157.4 221.5h0M157.4 222.9h0" stroke="#9876dd" stroke-width="3.2" stroke-linecap="round" fill="none"/>
<path d="M162.0 213.1h0M162.3 218.4h0" stroke="#9d7ddb" stroke-width="3.4" stroke-linecap="round" fill="none"/>
<path d="M173.5 228.8h0" stroke="#a78ed4" stroke-width="3.2" stroke-linecap="round" fill="none"/>
<path d="M157.5 217.7h0" stroke="#9976dd" stroke-width="3.4" stroke-linecap="round" fill="none"/>
<path d="M179.3 222.7h0M179.0 231.2h0M178.8 230.1h0" stroke="#ac96d0" stroke-width="3.2" stroke-linecap="round" fill="none"/>
<path d="M166.4 216.3h0" stroke="#a183d8" stroke-width="3.4" stroke-linecap="round" fill="none"/>
<path d="M185.9 225.1h0" stroke="#b1a0cc" stroke-width="3.2" stroke-linecap="round" fill="none"/>
<path d="M163.8 223.9h0" stroke="#9f7fda" stroke-width="3.2" stroke-linecap="round" fill="none"/>
<path d="M183.3 226.2h0" stroke="#af9cce" stroke-width="3.2" stroke-linecap="round" fill="none"/>
<path d="M181.1 217.5h0" stroke="#ad99cf" stroke-width="3.4" stroke-linecap="round" fill="none"/>
<path d="M166.3 219.5h0M166.5 229.3h0" stroke="#a183d8" stroke-width="3.2" stroke-linecap="round" fill="none"/>
<path d="M168.9 227.9h0" stroke="#a387d7" stroke-width="3.2" stroke-linecap="round" fill="none"/>
<path d="M174.8 225.8h0" stroke="#a890d3" stroke-width="3.2" stroke-linecap="round" fill="none"/>
<path d="M175.2 221.1h0M174.9 224.1h0" stroke="#a990d3" stroke-width="3.2" stroke-linecap="round" fill="none"/>
<path d="M178.5 226.6h0" stroke="#ab95d1" stroke-width="3.2" stroke-linecap="round" fill="none"/>
<path d="M152.9 227.8h0M152.8 218.8h0" stroke="#946fe0" stroke-width="3.2" stroke-linecap="round" fill="none"/>
<path d="M177.9 221.3h0M177.8 219.6h0M177.8 223.2h0" stroke="#ab94d1" stroke-width="3.2" stroke-linecap="round" fill="none"/>
<path d="M152.0 224.3h0M152.0 224.6h0M152.1 224.7h0M152.1 231.2h0M152.2 228.6h0M152.0 228.2h0" stroke="#936ee1" stroke-width="3.2" stroke-linecap="round" fill="none"/>
<path d="M176.3 219.3h0" stroke="#aa92d2" stroke-width="3.2" stroke-linecap="round" fill="none"/>
<path d="M162.4 220.2h0M162.3 228.4h0M162.2 231.8h0" stroke="#9d7ddb" stroke-width="3.2" stroke-linecap="round" fill="none"/>
<path d="M150.2 232.1h0" stroke="#916be2" stroke-width="3.2" stroke-linecap="round" fill="none"/>
<path d="M161.6 213.5h0" stroke="#9d7cdb" stroke-width="3.4" stroke-linecap="round" fill="none"/>
<path d="M168.9 217.7h0M168.8 216.3h0" stroke="#a387d7" stroke-width="3.4" stroke-linecap="round" fill="none"/>
<path d="M182.1 227.4h0" stroke="#ae9ace" stroke-width="3.2" stroke-linecap="round" fill="none"/>
<path d="M181.7 213.5h0" stroke="#ae9acf" stroke-width="3.4" stroke-linecap="round" fill="none"/>
<path d="M171.6 216.3h0M171.5 215.1h0M171.4 212.9h0" stroke="#a68bd5" stroke-width="3.4" stroke-linecap="round" fill="none"/>
<path d="M179.7 212.1h0" stroke="#ac97d0" stroke-width="3.4" stroke-linecap="round" fill="none"/>
<path d="M184.0 221.1h0M184.1 221.3h0M184.2 232.3h0" stroke="#b09dcd" stroke-width="3.2" stroke-linecap="round" fill="none"/>
<path d="M160.8 225.0h0" stroke="#9c7bdb" stroke-width="3.2" stroke-linecap="round" fill="none"/>
<path d="M173.7 208.2h0" stroke="#a78ed4" stroke-width="3.4" stroke-linecap="round" fill="none"/>
<path d="M172.1 211.6h0" stroke="#a68cd5" stroke-width="3.4" stroke-linecap="round" fill="none"/>
<path d="M160.9 212.4h0M160.9 212.9h0M160.8 215.8h0" stroke="#9c7bdb" stroke-width="3.4" stroke-linecap="round" fill="none"/>
<path d="M159.5 230.0h0" stroke="#9b79dc" stroke-width="3.2" stroke-linecap="round" fill="none"/>
<path d="M151.5 228.2h0M151.5 226.2h0" stroke="#926de1" stroke-width="3.2" stroke-linecap="round" fill="none"/>
<path d="M153.5 218.8h0M153.6 223.4h0M153.2 225.9h0" stroke="#9470e0" stroke-width="3.2" stroke-linecap="round" fill="none"/>
<path d="M176.9 217.9h0" stroke="#aa93d2" stroke-width="3.4" stroke-linecap="round" fill="none"/>
<path d="M167.9 228.9h0M168.4 220.6h0M168.6 229.6h0M168.1 227.1h0" stroke="#a386d7" stroke-width="3.2" stroke-linecap="round" fill="none"/>
<path d="M172.1 220.7h0M172.2 231.6h0M172.0 218.7h0M172.0 226.9h0" stroke="#a68cd5" stroke-width="3.2" stroke-linecap="round" fill="none"/>
<path d="M181.3 212.8h0" stroke="#ae99cf" stroke-width="3.4" stroke-linecap="round" fill="none"/>
<path d="M170.4 227.0h0" stroke="#a589d6" stroke-width="3.2" stroke-linecap="round" fill="none"/>
<path d="M154.9 221.7h0" stroke="#9672df" stroke-width="3.2" stroke-linecap="round" fill="none"/>
<path d="M174.5 211.2h0" stroke="#a88fd3" stroke-width="3.4" stroke-linecap="round" fill="none"/>
<path d="M156.3 230.9h0M156.1 220.6h0" stroke="#9774de" stroke-width="3.2" stroke-linecap="round" fill="none"/>
<path d="M157.3 217.3h0" stroke="#9876de" stroke-width="3.4" stroke-linecap="round" fill="none"/>
<path d="M150.6 231.0h0" stroke="#916ce1" stroke-width="3.2" stroke-linecap="round" fill="none"/>
<path d="M171.1 224.5h0" stroke="#a58ad5" stroke-width="3.2" stroke-linecap="round" fill="none"/>
<path d="M169.2 214.4h0" stroke="#a487d6" stroke-width="3.4" stroke-linecap="round" fill="none"/>
<path d="M180.0 218.7h0" stroke="#ad97d0" stroke-width="3.2" stroke-linecap="round" fill="none"/>
<path d="M159.1 225.6h0" stroke="#9a78dc" stroke-width="3.2" stroke-linecap="round" fill="none"/>
<path d="M139.6 226.9h0M139.7 223.7h0" stroke="#845be8" stroke-width="3.2" stroke-linecap="round" fill="none"/>
<path d="M150.7 215.6h0" stroke="#916ce1" stroke-width="3.4" stroke-linecap="round" fill="none"/>
<path d="M148.0 221.4h0M148.3 221.9h0" stroke="#8e68e3" stroke-width="3.2" stroke-linecap="round" fill="none"/>
<path d="M142.3 229.3h0M141.8 230.3h0M142.3 219.8h0" stroke="#875fe6" stroke-width="3.2" stroke-linecap="round" fill="none"/>
<path d="M145.8 217.6h0" stroke="#8c65e4" stroke-width="3.4" stroke-linecap="round" fill="none"/>
<path d="M146.4 230.6h0" stroke="#8c66e4" stroke-width="3.2" stroke-linecap="round" fill="none"/>
<path d="M149.7 226.8h0M149.9 221.6h0" stroke="#906be2" stroke-width="3.2" stroke-linecap="round" fill="none"/>
<path d="M144.7 228.2h0M144.7 222.7h0M144.4 231.0h0" stroke="#8a63e5" stroke-width="3.2" stroke-linecap="round" fill="none"/>
<path d="M149.1 229.2h0" stroke="#8f6ae2" stroke-width="3.2" stroke-linecap="round" fill="none"/>
<path d="M143.8 224.5h0M144.0 229.4h0" stroke="#8962e5" stroke-width="3.2" stroke-linecap="round" fill="none"/>
<path d="M152.2 228.4h0" stroke="#936ee0" stroke-width="3.2" stroke-linecap="round" fill="none"/>
<path d="M151.8 221.1h0" stroke="#926ee1" stroke-width="3.2" stroke-linecap="round" fill="none"/>
<path d="M148.5 218.7h0M148.4 230.3h0" stroke="#8f69e3" stroke-width="3.2" stroke-linecap="round" fill="none"/>
<path d="M149.2 228.7h0" stroke="#906ae2" stroke-width="3.2" stroke-linecap="round" fill="none"/>
<path d="M140.1 226.2h0" stroke="#845ce7" stroke-width="3.2" stroke-linecap="round" fill="none"/>
<path d="M138.7 229.0h0" stroke="#825ae8" stroke-width="3.2" stroke-linecap="round" fill="none"/>
<path d="M154.3 220.0h0" stroke="#9571df" stroke-width="3.2" stroke-linecap="round" fill="none"/>
<path d="M152.1 216.1h0" stroke="#936ee1" stroke-width="3.4" stroke-linecap="round" fill="none"/>
<path d="M141.0 231.3h0" stroke="#855de7" stroke-width="3.2" stroke-linecap="round" fill="none"/>
<path d="M145.7 228.7h0" stroke="#8b65e4" stroke-width="3.2" stroke-linecap="round" fill="none"/>
<path d="M152.7 223.0h0" stroke="#936fe0" stroke-width="3.2" stroke-linecap="round" fill="none"/>
<path d="M139.3 225.1h0" stroke="#835be8" stroke-width="3.2" stroke-linecap="round" fill="none"/>
<path d="M145.5 231.6h0" stroke="#8b64e4" stroke-width="3.2" stroke-linecap="round" fill="none"/>
<path d="M255.6 92.4h0" stroke="#ea866d" stroke-width="4.4" stroke-linecap="round" fill="none"/>
<path d="M256.5 95.8h0" stroke="#eb856c" stroke-width="4.4" stroke-linecap="round" fill="none"/>
<path d="M265.9 121.2h0" stroke="#f0795d" stroke-width="4.2" stroke-linecap="round" fill="none"/>
<path d="M244.0 139.4h0" stroke="#e39480" stroke-width="4.0" stroke-linecap="round" fill="none"/>
<path d="M251.8 142.0h0" stroke="#e88b73" stroke-width="4.0" stroke-linecap="round" fill="none"/>
<path d="M243.5 146.1h0" stroke="#e39581" stroke-width="4.0" stroke-linecap="round" fill="none"/>
<path d="M268.8 144.9h0" stroke="#f17558" stroke-width="4.0" stroke-linecap="round" fill="none"/>
<path d="M290.5 144.3h0" stroke="#f95436" stroke-width="4.0" stroke-linecap="round" fill="none"/>
<path d="M254.0 155.3h0" stroke="#e98870" stroke-width="3.8" stroke-linecap="round" fill="none"/>
<path d="M265.6 162.8h0M265.6 168.5h0" stroke="#f07a5d" stroke-width="3.8" stroke-linecap="round" fill="none"/>
<path d="M262.0 186.5h0" stroke="#ee7e63" stroke-width="3.6" stroke-linecap="round" fill="none"/>
<path d="M267.0 197.0h0" stroke="#f0785b" stroke-width="3.6" stroke-linecap="round" fill="none"/>
<path d="M261.2 210.6h0" stroke="#ed7f64" stroke-width="3.4" stroke-linecap="round" fill="none"/>
<path d="M262.5 213.5h0" stroke="#ee7e62" stroke-width="3.4" stroke-linecap="round" fill="none"/>
<path d="M267.0 215.4h0" stroke="#f0785b" stroke-width="3.4" stroke-linecap="round" fill="none"/>
<path d="M272.9 216.4h0" stroke="#f37052" stroke-width="3.4" stroke-linecap="round" fill="none"/>
<path d="M265.0 221.8h0" stroke="#ef7a5e" stroke-width="3.2" stroke-linecap="round" fill="none"/>
<path d="M274.3 221.2h0" stroke="#f36e50" stroke-width="3.2" stroke-linecap="round" fill="none"/>
<path d="M255.8 219.0h0" stroke="#ea866d" stroke-width="3.2" stroke-linecap="round" fill="none"/>
<path d="M253.7 228.0h0" stroke="#e98970" stroke-width="3.2" stroke-linecap="round" fill="none"/>
<path d="M255.2 226.0h0" stroke="#ea876e" stroke-width="3.2" stroke-linecap="round" fill="none"/>
<path d="M245.5 159.3h0M245.5 171.0h0" stroke="#e4937e" stroke-width="3.8" stroke-linecap="round" fill="none"/>
<path d="M249.8 160.5h0" stroke="#e78d77" stroke-width="3.8" stroke-linecap="round" fill="none"/>
<path d="M248.5 164.5h0" stroke="#e68f79" stroke-width="3.8" stroke-linecap="round" fill="none"/>
<path d="M249.5 167.0h0" stroke="#e78e77" stroke-width="3.8" stroke-linecap="round" fill="none"/>
<path d="M251.0 168.0h0" stroke="#e88c75" stroke-width="3.8" stroke-linecap="round" fill="none"/>
<path d="M242.0 168.7h0" stroke="#e29783" stroke-width="3.8" stroke-linecap="round" fill="none"/>
<path d="M242.7 173.4h0" stroke="#e29682" stroke-width="3.8" stroke-linecap="round" fill="none"/>
<path d="M231.8 167.2h0" stroke="#daa294" stroke-width="3.8" stroke-linecap="round" fill="none"/>
<path d="M236.6 174.3h0" stroke="#dd9d8c" stroke-width="3.8" stroke-linecap="round" fill="none"/>
<path d="M238.0 178.0h0" stroke="#df9b8a" stroke-width="3.8" stroke-linecap="round" fill="none"/>
<path d="M220.3 175.4h0" stroke="#cfafa7" stroke-width="3.8" stroke-linecap="round" fill="none"/>
<path d="M225.3 177.3h0" stroke="#d4aa9f" stroke-width="3.8" stroke-linecap="round" fill="none"/>
<path d="M230.0 180.8h0" stroke="#d8a497" stroke-width="3.6" stroke-linecap="round" fill="none"/>
<path d="M222.0 184.5h0" stroke="#d0ada4" stroke-width="3.6" stroke-linecap="round" fill="none"/>
<path d="M226.5 184.0h0" stroke="#d5a89d" stroke-width="3.6" stroke-linecap="round" fill="none"/>
<path d="M248.0 190.0h0" stroke="#e6907a" stroke-width="3.6" stroke-linecap="round" fill="none"/>
<path d="M252.0 194.0h0" stroke="#e88b73" stroke-width="3.6" stroke-linecap="round" fill="none"/>
<path d="M245.0 196.0h0" stroke="#e4937e" stroke-width="3.6" stroke-linecap="round" fill="none"/>
<path d="M250.0 203.0h0" stroke="#e78d76" stroke-width="3.4" stroke-linecap="round" fill="none"/>
<path d="M256.0 200.0h0" stroke="#eb866d" stroke-width="3.4" stroke-linecap="round" fill="none"/>
<path d="M240.0 185.0h0M239.9 183.3h0" stroke="#e09987" stroke-width="3.6" stroke-linecap="round" fill="none"/>
<path d="M233.0 188.0h0M233.0 195.3h0" stroke="#dba192" stroke-width="3.6" stroke-linecap="round" fill="none"/>
<path d="M228.6 221.4h0M228.6 231.6h0M228.5 222.7h0M228.7 220.8h0M228.7 229.2h0M228.8 231.2h0" stroke="#d7a699" stroke-width="3.2" stroke-linecap="round" fill="none"/>
<path d="M229.0 216.9h0M228.5 204.6h0M228.7 216.9h0M228.7 212.1h0" stroke="#d7a699" stroke-width="3.4" stroke-linecap="round" fill="none"/>
<path d="M231.0 224.3h0M230.9 231.8h0M231.4 223.1h0" stroke="#d9a395" stroke-width="3.2" stroke-linecap="round" fill="none"/>
<path d="M239.2 224.3h0" stroke="#df9a88" stroke-width="3.2" stroke-linecap="round" fill="none"/>
<path d="M227.5 204.4h0M227.7 218.4h0M227.4 213.5h0" stroke="#d6a79b" stroke-width="3.4" stroke-linecap="round" fill="none"/>
<path d="M235.1 218.7h0M234.7 226.8h0M234.9 228.7h0" stroke="#dc9f8f" stroke-width="3.2" stroke-linecap="round" fill="none"/>
<path d="M229.4 224.2h0M229.1 231.2h0M229.2 231.3h0M229.2 231.2h0M229.1 224.8h0M229.2 223.2h0" stroke="#d7a598" stroke-width="3.2" stroke-linecap="round" fill="none"/>
<path d="M226.2 224.7h0M226.0 227.4h0M226.0 224.9h0" stroke="#d4a99d" stroke-width="3.2" stroke-linecap="round" fill="none"/>
<path d="M233.8 213.6h0M233.5 216.9h0M233.9 211.4h0" stroke="#dba091" stroke-width="3.4" stroke-linecap="round" fill="none"/>
<path d="M236.9 226.1h0" stroke="#de9d8c" stroke-width="3.2" stroke-linecap="round" fill="none"/>
<path d="M238.1 209.0h0M238.1 215.3h0M238.1 206.8h0" stroke="#df9b8a" stroke-width="3.4" stroke-linecap="round" fill="none"/>
<path d="M228.1 204.5h0M228.2 206.0h0M228.2 210.5h0" stroke="#d6a69a" stroke-width="3.4" stroke-linecap="round" fill="none"/>
<path d="M227.1 201.7h0" stroke="#d5a89c" stroke-width="3.4" stroke-linecap="round" fill="none"/>
<path d="M223.5 210.0h0M223.2 214.2h0M223.3 204.7h0M223.2 215.6h0M223.5 213.6h0M223.3 201.4h0" stroke="#d2aca2" stroke-width="3.4" stroke-linecap="round" fill="none"/>
<path d="M223.8 210.4h0M224.1 208.2h0M223.9 214.8h0M223.7 207.1h0M223.7 202.5h0M223.8 203.9h0" stroke="#d2aba1" stroke-width="3.4" stroke-linecap="round" fill="none"/>
<path d="M221.2 208.4h0M221.2 218.3h0M221.5 215.5h0" stroke="#d0aea5" stroke-width="3.4" stroke-linecap="round" fill="none"/>
<path d="M224.0 229.4h0M223.7 231.0h0" stroke="#d2aba1" stroke-width="3.2" stroke-linecap="round" fill="none"/>
<path d="M227.2 204.9h0" stroke="#d5a89b" stroke-width="3.4" stroke-linecap="round" fill="none"/>
<path d="M231.7 218.1h0M231.7 213.0h0" stroke="#d9a294" stroke-width="3.4" stroke-linecap="round" fill="none"/>
<path d="M239.9 208.9h0" stroke="#e09987" stroke-width="3.4" stroke-linecap="round" fill="none"/>
<path d="M226.4 220.4h0M226.5 220.7h0M226.4 224.9h0" stroke="#d5a89d" stroke-width="3.2" stroke-linecap="round" fill="none"/>
<path d="M242.0 218.4h0" stroke="#e29783" stroke-width="3.4" stroke-linecap="round" fill="none"/>
<path d="M225.1 202.3h0M224.8 214.3h0M225.0 205.5h0M224.9 216.2h0M225.0 203.9h0M224.9 205.4h0" stroke="#d3aa9f" stroke-width="3.4" stroke-linecap="round" fill="none"/>
<path d="M239.9 222.0h0" stroke="#e09987" stroke-width="3.2" stroke-linecap="round" fill="none"/>
<path d="M227.0 220.9h0M227.1 221.5h0" stroke="#d5a89c" stroke-width="3.2" stroke-linecap="round" fill="none"/>
<path d="M236.4 222.4h0M236.4 232.1h0M236.5 222.9h0M236.5 228.7h0" stroke="#dd9d8c" stroke-width="3.2" stroke-linecap="round" fill="none"/>
<path d="M229.5 230.5h0" stroke="#d8a598" stroke-width="3.2" stroke-linecap="round" fill="none"/>
<path d="M228.0 212.7h0M227.9 202.1h0M228.0 206.2h0" stroke="#d6a79a" stroke-width="3.4" stroke-linecap="round" fill="none"/>
<path d="M232.6 227.6h0M232.6 220.1h0" stroke="#daa193" stroke-width="3.2" stroke-linecap="round" fill="none"/>
<path d="M234.8 213.1h0M234.6 205.9h0M235.0 206.2h0" stroke="#dc9f8f" stroke-width="3.4" stroke-linecap="round" fill="none"/>
<path d="M237.5 224.4h0M237.5 230.1h0M237.2 219.0h0M237.3 227.1h0M237.2 227.9h0M237.5 225.9h0M237.3 224.8h0" stroke="#de9c8b" stroke-width="3.2" stroke-linecap="round" fill="none"/>
<path d="M221.9 222.8h0" stroke="#d0ada4" stroke-width="3.2" stroke-linecap="round" fill="none"/>
<path d="M235.8 208.9h0" stroke="#dd9e8d" stroke-width="3.4" stroke-linecap="round" fill="none"/>
<path d="M235.5 226.7h0M235.6 231.7h0" stroke="#dd9e8e" stroke-width="3.2" stroke-linecap="round" fill="none"/>
<path d="M224.3 207.3h0M224.2 202.7h0" stroke="#d3aba0" stroke-width="3.4" stroke-linecap="round" fill="none"/>
<path d="M237.6 231.6h0M237.8 227.5h0" stroke="#de9c8a" stroke-width="3.2" stroke-linecap="round" fill="none"/>
<path d="M218.2 220.4h0" stroke="#ccb1aa" stroke-width="3.2" stroke-linecap="round" fill="none"/>
<path d="M226.0 201.9h0M226.0 208.1h0M226.1 200.3h0M226.0 202.3h0M226.2 201.2h0" stroke="#d4a99d" stroke-width="3.4" stroke-linecap="round" fill="none"/>
<path d="M234.1 226.2h0" stroke="#dba090" stroke-width="3.2" stroke-linecap="round" fill="none"/>
<path d="M224.6 220.4h0M224.6 228.1h0M224.7 219.4h0M224.6 231.1h0" stroke="#d3aaa0" stroke-width="3.2" stroke-linecap="round" fill="none"/>
<path d="M219.0 225.2h0" stroke="#cdb1a9" stroke-width="3.2" stroke-linecap="round" fill="none"/>
<path d="M232.7 213.7h0M232.9 203.4h0" stroke="#daa192" stroke-width="3.4" stroke-linecap="round" fill="none"/>
<path d="M236.3 223.5h0" stroke="#dd9d8d" stroke-width="3.2" stroke-linecap="round" fill="none"/>
<path d="M229.7 216.6h0M229.9 211.1h0" stroke="#d8a597" stroke-width="3.4" stroke-linecap="round" fill="none"/>
<path d="M241.3 231.1h0M241.3 225.6h0" stroke="#e19784" stroke-width="3.2" stroke-linecap="round" fill="none"/>
<path d="M231.9 204.3h0M231.9 216.6h0" stroke="#daa294" stroke-width="3.4" stroke-linecap="round" fill="none"/>
<path d="M237.8 223.0h0" stroke="#de9b8a" stroke-width="3.2" stroke-linecap="round" fill="none"/>
<path d="M226.3 206.3h0" stroke="#d5a99d" stroke-width="3.4" stroke-linecap="round" fill="none"/>
<path d="M233.0 214.2h0M233.1 214.8h0M233.2 211.8h0" stroke="#dba192" stroke-width="3.4" stroke-linecap="round" fill="none"/>
<path d="M225.8 218.2h0M225.7 211.5h0M225.5 207.7h0M225.6 201.8h0M225.6 213.7h0" stroke="#d4a99e" stroke-width="3.4" stroke-linecap="round" fill="none"/>
<path d="M219.4 205.7h0M219.9 207.7h0M219.7 217.7h0M219.6 205.0h0M219.5 216.6h0" stroke="#ceb0a8" stroke-width="3.4" stroke-linecap="round" fill="none"/>
<path d="M244.1 226.1h0" stroke="#e39480" stroke-width="3.2" stroke-linecap="round" fill="none"/>
<path d="M221.1 203.5h0M221.0 211.9h0M221.0 209.8h0M221.1 214.8h0" stroke="#cfaea6" stroke-width="3.4" stroke-linecap="round" fill="none"/>
<path d="M244.4 225.7h0" stroke="#e3947f" stroke-width="3.2" stroke-linecap="round" fill="none"/>
<path d="M218.5 206.9h0M218.7 207.5h0M218.6 209.4h0M218.5 217.3h0" stroke="#cdb1aa" stroke-width="3.4" stroke-linecap="round" fill="none"/>
<path d="M242.1 225.5h0M242.1 226.3h0" stroke="#e29783" stroke-width="3.2" stroke-linecap="round" fill="none"/>
<path d="M219.3 228.8h0M219.6 229.6h0" stroke="#ceb0a8" stroke-width="3.2" stroke-linecap="round" fill="none"/>
<path d="M220.2 210.5h0M220.1 211.7h0M220.2 207.2h0M220.1 212.5h0" stroke="#ceafa7" stroke-width="3.4" stroke-linecap="round" fill="none"/>
<path d="M236.6 206.7h0" stroke="#dd9d8c" stroke-width="3.4" stroke-linecap="round" fill="none"/>
<path d="M221.1 219.2h0" stroke="#cfaea6" stroke-width="3.2" stroke-linecap="round" fill="none"/>
<path d="M220.1 223.5h0M220.1 224.3h0" stroke="#ceafa7" stroke-width="3.2" stroke-linecap="round" fill="none"/>
<path d="M224.7 212.7h0M224.5 207.0h0M224.7 208.6h0" stroke="#d3aaa0" stroke-width="3.4" stroke-linecap="round" fill="none"/>
<path d="M225.0 230.2h0M225.1 221.3h0M224.8 223.8h0M225.1 231.5h0" stroke="#d3aa9f" stroke-width="3.2" stroke-linecap="round" fill="none"/>
<path d="M223.5 226.1h0M223.5 230.1h0" stroke="#d2aca2" stroke-width="3.2" stroke-linecap="round" fill="none"/>
<path d="M243.8 229.7h0" stroke="#e39580" stroke-width="3.2" stroke-linecap="round" fill="none"/>
<path d="M221.6 221.1h0M221.4 222.4h0M221.4 230.3h0M221.2 220.5h0" stroke="#d0aea5" stroke-width="3.2" stroke-linecap="round" fill="none"/>
<path d="M230.5 203.6h0M230.3 202.5h0M230.4 211.0h0" stroke="#d8a496" stroke-width="3.4" stroke-linecap="round" fill="none"/>
<path d="M235.8 221.0h0M235.9 229.2h0" stroke="#dd9e8d" stroke-width="3.2" stroke-linecap="round" fill="none"/>
<path d="M242.3 223.2h0" stroke="#e29683" stroke-width="3.2" stroke-linecap="round" fill="none"/>
<path d="M238.5 208.2h0M238.2 209.8h0M238.3 201.2h0" stroke="#df9b89" stroke-width="3.4" stroke-linecap="round" fill="none"/>
<path d="M241.1 217.2h0" stroke="#e19885" stroke-width="3.4" stroke-linecap="round" fill="none"/>
<path d="M236.2 211.9h0" stroke="#dd9d8d" stroke-width="3.4" stroke-linecap="round" fill="none"/>
<path d="M233.4 221.1h0" stroke="#dba091" stroke-width="3.2" stroke-linecap="round" fill="none"/>
<path d="M220.7 206.9h0" stroke="#cfafa6" stroke-width="3.4" stroke-linecap="round" fill="none"/>
<path d="M225.6 223.2h0M225.9 230.5h0M225.6 224.0h0" stroke="#d4a99e" stroke-width="3.2" stroke-linecap="round" fill="none"/>
<path d="M225.3 208.3h0M225.3 208.3h0" stroke="#d4aa9f" stroke-width="3.4" stroke-linecap="round" fill="none"/>
<path d="M235.2 221.3h0" stroke="#dc9f8e" stroke-width="3.2" stroke-linecap="round" fill="none"/>
<path d="M232.4 231.4h0M232.3 232.1h0" stroke="#daa293" stroke-width="3.2" stroke-linecap="round" fill="none"/>
<path d="M220.8 230.2h0M220.8 221.5h0M220.8 231.2h0" stroke="#cfafa6" stroke-width="3.2" stroke-linecap="round" fill="none"/>
<path d="M236.9 218.5h0M237.3 211.7h0M237.0 216.7h0M237.0 216.6h0M237.2 202.8h0" stroke="#de9c8b" stroke-width="3.4" stroke-linecap="round" fill="none"/>
<path d="M225.3 225.8h0" stroke="#d4aa9f" stroke-width="3.2" stroke-linecap="round" fill="none"/>
<path d="M218.9 214.2h0M218.8 212.1h0" stroke="#cdb1a9" stroke-width="3.4" stroke-linecap="round" fill="none"/>
<path d="M234.4 228.2h0M234.3 223.1h0" stroke="#dc9f90" stroke-width="3.2" stroke-linecap="round" fill="none"/>
<path d="M231.2 210.3h0M231.2 213.2h0" stroke="#d9a395" stroke-width="3.4" stroke-linecap="round" fill="none"/>
<path d="M231.7 224.0h0" stroke="#d9a294" stroke-width="3.2" stroke-linecap="round" fill="none"/>
<path d="M236.9 204.7h0M236.8 205.8h0" stroke="#de9d8c" stroke-width="3.4" stroke-linecap="round" fill="none"/>
<path d="M220.5 207.0h0" stroke="#cfafa7" stroke-width="3.4" stroke-linecap="round" fill="none"/>
<path d="M230.8 204.6h0" stroke="#d9a396" stroke-width="3.4" stroke-linecap="round" fill="none"/>
<path d="M229.7 222.0h0" stroke="#d8a597" stroke-width="3.2" stroke-linecap="round" fill="none"/>
<path d="M224.4 227.0h0" stroke="#d3aba0" stroke-width="3.2" stroke-linecap="round" fill="none"/>
<path d="M235.7 208.4h0" stroke="#dd9e8e" stroke-width="3.4" stroke-linecap="round" fill="none"/>
<path d="M222.4 204.4h0M222.4 210.9h0M222.6 207.3h0" stroke="#d1ada3" stroke-width="3.4" stroke-linecap="round" fill="none"/>
<path d="M246.0 228.2h0M246.1 224.9h0" stroke="#e4927d" stroke-width="3.2" stroke-linecap="round" fill="none"/>
<path d="M233.4 227.5h0M233.4 225.1h0" stroke="#dba191" stroke-width="3.2" stroke-linecap="round" fill="none"/>
<path d="M233.2 221.9h0" stroke="#dba192" stroke-width="3.2" stroke-linecap="round" fill="none"/>
<path d="M239.5 220.2h0" stroke="#e09a87" stroke-width="3.2" stroke-linecap="round" fill="none"/>
<path d="M231.8 222.0h0" stroke="#daa294" stroke-width="3.2" stroke-linecap="round" fill="none"/>
<path d="M230.5 231.0h0" stroke="#d8a496" stroke-width="3.2" stroke-linecap="round" fill="none"/>
<path d="M229.9 231.2h0" stroke="#d8a497" stroke-width="3.2" stroke-linecap="round" fill="none"/>
<path d="M219.1 204.4h0" stroke="#cdb0a9" stroke-width="3.4" stroke-linecap="round" fill="none"/>
<path d="M228.4 222.8h0" stroke="#d6a69a" stroke-width="3.2" stroke-linecap="round" fill="none"/>
<path d="M238.5 231.3h0" stroke="#df9b89" stroke-width="3.2" stroke-linecap="round" fill="none"/>
<path d="M240.2 209.7h0M240.4 212.0h0" stroke="#e09986" stroke-width="3.4" stroke-linecap="round" fill="none"/>
<path d="M243.4 219.1h0" stroke="#e39581" stroke-width="3.2" stroke-linecap="round" fill="none"/>
<path d="M223.1 222.5h0M223.1 224.1h0" stroke="#d1aca2" stroke-width="3.2" stroke-linecap="round" fill="none"/>
<path d="M222.8 203.0h0M222.8 217.2h0" stroke="#d1aca3" stroke-width="3.4" stroke-linecap="round" fill="none"/>
<path d="M239.2 211.1h0" stroke="#df9a88" stroke-width="3.4" stroke-linecap="round" fill="none"/>
<path d="M241.1 226.0h0" stroke="#e19885" stroke-width="3.2" stroke-linecap="round" fill="none"/>
<path d="M222.1 206.2h0" stroke="#d0ada4" stroke-width="3.4" stroke-linecap="round" fill="none"/>
<path d="M227.2 223.4h0" stroke="#d5a79b" stroke-width="3.2" stroke-linecap="round" fill="none"/>
<path d="M245.0 228.4h0" stroke="#e4937e" stroke-width="3.2" stroke-linecap="round" fill="none"/>
<path d="M225.4 221.7h0" stroke="#d4aa9e" stroke-width="3.2" stroke-linecap="round" fill="none"/>
<path d="M227.3 215.5h0" stroke="#d5a79b" stroke-width="3.4" stroke-linecap="round" fill="none"/>
<path d="M231.6 220.1h0" stroke="#d9a394" stroke-width="3.2" stroke-linecap="round" fill="none"/>
<path d="M230.7 202.8h0" stroke="#d9a496" stroke-width="3.4" stroke-linecap="round" fill="none"/>
<path d="M223.0 205.6h0" stroke="#d1aca2" stroke-width="3.4" stroke-linecap="round" fill="none"/>
<path d="M226.4 215.1h0" stroke="#d5a89d" stroke-width="3.4" stroke-linecap="round" fill="none"/>
<path d="M243.0 218.6h0M243.1 212.5h0" stroke="#e29582" stroke-width="3.4" stroke-linecap="round" fill="none"/>
<path d="M242.6 226.5h0" stroke="#e29682" stroke-width="3.2" stroke-linecap="round" fill="none"/>
<path d="M229.0 203.6h0" stroke="#d7a598" stroke-width="3.4" stroke-linecap="round" fill="none"/>
<path d="M245.0 218.3h0" stroke="#e4937e" stroke-width="3.4" stroke-linecap="round" fill="none"/>
<path d="M242.3 196.9h0" stroke="#e29683" stroke-width="3.6" stroke-linecap="round" fill="none"/>
<path d="M238.0 194.3h0" stroke="#df9b8a" stroke-width="3.6" stroke-linecap="round" fill="none"/>
<path d="M248.4 194.8h0" stroke="#e68f79" stroke-width="3.6" stroke-linecap="round" fill="none"/>
<path d="M249.2 223.7h0" stroke="#e68e78" stroke-width="3.2" stroke-linecap="round" fill="none"/>
<path d="M247.0 224.9h0" stroke="#e5917b" stroke-width="3.2" stroke-linecap="round" fill="none"/>
<path d="M226.0 194.5h0" stroke="#d4a99d" stroke-width="3.6" stroke-linecap="round" fill="none"/>
<path d="M227.3 180.8h0" stroke="#d5a79b" stroke-width="3.6" stroke-linecap="round" fill="none"/>
<path d="M230.2 176.5h0" stroke="#d8a497" stroke-width="3.8" stroke-linecap="round" fill="none"/>
<path d="M220.7 178.9h0" stroke="#cfafa6" stroke-width="3.6" stroke-linecap="round" fill="none"/>
<path d="M235.2 198.1h0" stroke="#dc9f8e" stroke-width="3.6" stroke-linecap="round" fill="none"/>
<path d="M247.7 229.8h0" stroke="#e6907a" stroke-width="3.2" stroke-linecap="round" fill="none"/>
<path d="M251.1 202.0h0" stroke="#e88c75" stroke-width="3.4" stroke-linecap="round" fill="none"/>
<path d="M251.3 217.1h0" stroke="#e88c74" stroke-width="3.4" stroke-linecap="round" fill="none"/>
<path d="M239.3 181.1h0" stroke="#e09a88" stroke-width="3.6" stroke-linecap="round" fill="none"/>
<path d="M242.7 186.9h0" stroke="#e29682" stroke-width="3.6" stroke-linecap="round" fill="none"/>
<path d="M231.5 195.9h0" stroke="#d9a394" stroke-width="3.6" stroke-linecap="round" fill="none"/>
<path d="M233.9 180.3h0M234.1 196.8h0" stroke="#dba090" stroke-width="3.6" stroke-linecap="round" fill="none"/>
<path d="M247.2 195.5h0" stroke="#e5917b" stroke-width="3.6" stroke-linecap="round" fill="none"/>
<path d="M225.5 192.3h0" stroke="#d4a99e" stroke-width="3.6" stroke-linecap="round" fill="none"/>
<path d="M251.7 206.6h0" stroke="#e88b74" stroke-width="3.4" stroke-linecap="round" fill="none"/>
<path d="M225.8 176.3h0" stroke="#d4a99e" stroke-width="3.8" stroke-linecap="round" fill="none"/>
<path d="M238.8 183.2h0" stroke="#df9a89" stroke-width="3.6" stroke-linecap="round" fill="none"/>
<path d="M227.7 190.8h0" stroke="#d6a79b" stroke-width="3.6" stroke-linecap="round" fill="none"/>
<path d="M235.4 180.3h0M235.5 186.4h0" stroke="#dd9e8e" stroke-width="3.6" stroke-linecap="round" fill="none"/>
<path d="M218.3 194.5h0" stroke="#ccb1aa" stroke-width="3.6" stroke-linecap="round" fill="none"/>
<path d="M244.6 218.0h0M244.4 215.8h0" stroke="#e3947f" stroke-width="3.4" stroke-linecap="round" fill="none"/>
<path d="M226.8 189.7h0M227.1 186.4h0" stroke="#d5a89c" stroke-width="3.6" stroke-linecap="round" fill="none"/>
<path d="M237.2 185.1h0" stroke="#de9c8b" stroke-width="3.6" stroke-linecap="round" fill="none"/>
<path d="M244.7 218.0h0" stroke="#e3937f" stroke-width="3.4" stroke-linecap="round" fill="none"/>
<path d="M252.9 200.4h0" stroke="#e98a72" stroke-width="3.4" stroke-linecap="round" fill="none"/>
<path d="M221.3 179.0h0M221.2 186.1h0" stroke="#d0aea5" stroke-width="3.6" stroke-linecap="round" fill="none"/>
<path d="M247.5 213.9h0" stroke="#e5907a" stroke-width="3.4" stroke-linecap="round" fill="none"/>
<path d="M224.0 198.5h0M224.1 187.5h0" stroke="#d2aba1" stroke-width="3.6" stroke-linecap="round" fill="none"/>
<path d="M240.9 192.4h0" stroke="#e19885" stroke-width="3.6" stroke-linecap="round" fill="none"/>
<path d="M224.3 179.2h0" stroke="#d3aba0" stroke-width="3.6" stroke-linecap="round" fill="none"/>
<path d="M233.8 195.2h0" stroke="#dba091" stroke-width="3.6" stroke-linecap="round" fill="none"/>
<g stroke="#333" stroke-width="0.95" stroke-dasharray="1.6 1.5">
<line x1="194.88" y1="84" x2="194.88" y2="271.6"/><line x1="218.12" y1="84" x2="218.12" y2="271.6"/>
<line x1="12.4" y1="232.43619999999999" x2="304" y2="232.43619999999999"/>
</g>
<path d="M12.4 84V271.6H304" fill="none" stroke="#555" stroke-width="1.1"/>
<line x1="32.20000000000002" y1="271.6" x2="32.20000000000002" y2="273.20000000000005" stroke="#444" stroke-width="0.6"/>
<text x="32.20000000000002" y="276.90000000000003" class="ss" font-size="4" fill="#888" text-anchor="middle">-15</text>
<line x1="90.30000000000001" y1="271.6" x2="90.30000000000001" y2="273.20000000000005" stroke="#444" stroke-width="0.6"/>
<text x="90.30000000000001" y="276.90000000000003" class="ss" font-size="4" fill="#888" text-anchor="middle">-10</text>
<line x1="148.4" y1="271.6" x2="148.4" y2="273.20000000000005" stroke="#444" stroke-width="0.6"/>
<text x="148.4" y="276.90000000000003" class="ss" font-size="4" fill="#888" text-anchor="middle">-5</text>
<line x1="206.5" y1="271.6" x2="206.5" y2="273.20000000000005" stroke="#444" stroke-width="0.6"/>
<text x="206.5" y="276.90000000000003" class="ss" font-size="4" fill="#888" text-anchor="middle">0</text>
<line x1="264.6" y1="271.6" x2="264.6" y2="273.20000000000005" stroke="#444" stroke-width="0.6"/>
<text x="264.6" y="276.90000000000003" class="ss" font-size="4" fill="#888" text-anchor="middle">5</text>
<line x1="10.8" y1="263.4" x2="12.4" y2="263.4" stroke="#444" stroke-width="0.6"/>
<text x="10.5" y="264.79999999999995" class="ss" font-size="4" fill="#888" text-anchor="end">0</text>
<line x1="10.8" y1="215.79999999999998" x2="12.4" y2="215.79999999999998" stroke="#444" stroke-width="0.6"/>
<text x="10.5" y="217.2" class="ss" font-size="4" fill="#888" text-anchor="end">2</text>
<line x1="10.8" y1="168.2" x2="12.4" y2="168.2" stroke="#444" stroke-width="0.6"/>
<text x="10.5" y="169.6" class="ss" font-size="4" fill="#888" text-anchor="end">4</text>
<line x1="10.8" y1="120.59999999999997" x2="12.4" y2="120.59999999999997" stroke="#444" stroke-width="0.6"/>
<text x="10.5" y="121.99999999999997" class="ss" font-size="4" fill="#888" text-anchor="end">6</text>
<text x="158.2" y="281.20000000000005" class="ss" font-size="4.6" fill="#333" text-anchor="middle">log2(FC)</text>
<text transform="translate(6.800000000000001,177.8) rotate(-90)" class="ss" font-size="4.45" fill="#333" text-anchor="middle">-log10(p-value)</text>
<defs><linearGradient id="gV3" x1="0" y1="0" x2="0" y2="1"><stop offset="0.000" stop-color="#f95334"/><stop offset="0.083" stop-color="#f46c4e"/><stop offset="0.167" stop-color="#ec8268"/><stop offset="0.250" stop-color="#e29682"/><stop offset="0.333" stop-color="#d5a89d"/><stop offset="0.417" stop-color="#c3bab8"/><stop offset="0.500" stop-color="#b7acc7"/><stop offset="0.583" stop-color="#ab94d1"/><stop offset="0.667" stop-color="#9d7cdb"/><stop offset="0.750" stop-color="#8b64e4"/><stop offset="0.833" stop-color="#744bee"/><stop offset="0.917" stop-color="#542ff6"/><stop offset="1.000" stop-color="#0000ff"/></linearGradient></defs>
<rect x="310" y="164" width="7" height="33.7" fill="url(#gV3)"/>
<text x="310" y="162.0" class="ss" font-size="4.6" fill="#222">FoldChange</text>
<text x="318.5" y="170.20000000000002" class="ss" font-size="4.5" fill="#333">5</text>
<text x="318.5" y="180.1" class="ss" font-size="4.5" fill="#333">0</text>
<text x="318.5" y="190.3" class="ss" font-size="4.5" fill="#333">-5</text>
<text x="537.5" y="61.8" class="sf" font-weight="bold" font-size="13" text-anchor="middle">V7</text>
<rect x="407.4" y="70.7" width="25.6" height="7.4" fill="#d2def8" stroke="#1a6ef0" stroke-width="1.8"/>
<text x="437.2" y="76.8" class="ss" font-size="8" fill="#666" textLength="53.6" lengthAdjust="spacingAndGlyphs">Sig.Down [189]</text>
<rect x="497.0" y="70.7" width="25.6" height="7.4" fill="#f9d2d2" stroke="#ee3a32" stroke-width="1.8"/>
<text x="526.3000000000001" y="76.8" class="ss" font-size="8" fill="#666" textLength="43.7" lengthAdjust="spacingAndGlyphs">Sig.Up [276]</text>
<rect x="576.4" y="70.7" width="25.6" height="7.4" fill="#eceeee" stroke="#c8c8c8" stroke-width="1.8"/>
<text x="606.3000000000001" y="76.8" class="ss" font-size="8" fill="#666" textLength="46.5" lengthAdjust="spacingAndGlyphs">Unsig. [2052]</text>
<path d="M371.2 240.2h0M387.0 245.3h0M397.5 245.8h0M400.0 241.5h0M402.0 247.0h0M404.0 239.5h0M406.5 243.5h0M408.0 249.0h0M395.0 238.5h0M380.0 243.0h0M428.2 247.3h0M423.2 247.6h0M432.0 237.7h0M420.8 250.1h0M435.3 246.2h0M431.5 243.9h0M422.9 244.3h0M432.8 241.2h0M404.8 242.1h0M432.2 240.9h0M436.4 248.5h0M405.3 238.5h0M426.1 240.0h0M419.2 247.3h0M429.8 238.6h0M427.8 237.9h0M431.9 247.9h0M425.5 245.4h0M430.5 243.9h0M430.5 240.9h0M431.2 239.7h0M426.9 244.3h0M435.3 237.9h0M435.9 242.8h0M421.3 244.1h0M438.4 240.7h0M437.8 247.2h0M415.0 237.8h0M427.4 246.5h0M429.0 237.0h0M423.9 237.2h0M404.5 242.4h0M430.1 244.1h0M412.9 240.7h0M423.6 247.9h0M432.8 243.4h0M420.7 247.2h0M430.8 242.9h0M433.2 248.9h0M412.6 241.1h0M419.0 241.4h0M426.7 241.1h0M427.4 248.4h0M438.8 245.8h0M427.5 242.9h0M428.1 248.4h0M436.2 239.6h0M408.9 249.8h0M438.2 238.2h0M432.0 240.0h0M419.3 237.1h0M429.1 240.0h0M427.5 237.1h0M424.6 242.9h0M427.2 241.9h0M432.6 249.7h0M411.5 248.9h0M429.7 242.5h0M406.1 246.5h0M429.8 249.9h0M419.4 248.1h0M438.1 241.8h0M433.8 245.8h0M435.2 248.3h0M431.0 246.9h0M435.6 248.6h0M424.8 243.7h0M417.7 247.0h0M425.4 244.8h0M438.5 243.3h0M432.4 244.1h0M438.8 239.4h0M411.4 237.1h0M421.9 250.0h0M423.7 244.5h0M437.4 246.8h0M427.3 248.8h0M433.1 246.9h0M420.5 242.2h0M426.6 240.6h0M423.3 240.5h0M425.6 240.6h0M430.4 246.6h0M435.2 248.6h0M415.9 237.7h0M408.2 241.2h0M431.5 249.0h0M437.5 244.4h0M433.1 243.5h0M417.9 242.9h0M437.4 246.7h0M427.0 247.7h0M432.4 239.5h0M426.2 249.7h0M424.3 242.7h0M421.8 240.9h0M434.3 247.2h0M436.5 242.3h0M429.4 243.0h0M426.7 246.8h0M428.2 241.0h0M434.5 238.3h0M406.9 243.7h0M421.1 243.6h0M429.3 240.0h0M404.3 245.7h0M421.9 248.6h0M429.5 242.4h0M416.9 241.7h0M421.5 248.0h0M417.4 248.5h0M437.9 245.5h0M433.1 247.4h0M413.8 239.9h0M423.6 248.0h0M436.3 239.9h0M429.1 237.5h0M408.4 249.5h0M409.3 242.9h0M418.6 243.6h0M433.4 238.2h0M421.4 241.9h0M432.0 250.1h0M429.2 246.9h0M417.7 248.2h0M431.6 249.5h0M415.8 239.7h0M413.4 247.4h0M419.2 247.0h0M434.2 246.9h0M437.6 243.0h0M435.0 240.3h0M432.4 241.1h0M413.3 247.5h0M436.5 246.8h0M431.2 248.8h0M430.6 245.4h0M438.0 241.6h0M419.8 237.5h0M411.1 245.9h0M425.7 238.7h0M417.1 250.0h0M424.2 247.0h0M431.7 237.8h0M432.0 243.3h0M425.2 245.6h0M436.8 241.3h0M406.2 245.7h0M432.4 243.0h0M423.8 244.3h0M435.1 243.4h0M430.8 245.1h0M432.5 241.2h0M418.3 248.9h0M428.5 240.4h0M411.5 245.6h0M413.0 243.8h0M445.7 248.8h0M458.1 246.9h0M458.3 242.6h0M456.5 249.4h0M444.2 246.9h0M441.5 238.8h0M442.7 246.1h0M445.5 248.8h0M456.6 249.9h0M444.1 249.5h0M439.0 243.8h0M443.6 245.2h0M441.2 243.6h0M461.3 237.3h0M443.6 248.4h0M459.9 237.6h0M458.5 245.2h0M441.7 246.7h0M441.8 241.7h0M459.7 237.9h0M447.2 250.2h0M461.9 242.0h0M459.1 240.3h0M461.3 246.1h0M460.9 240.1h0M460.7 247.1h0M457.7 249.4h0M457.9 245.0h0M458.0 244.3h0M442.1 247.9h0M461.1 237.1h0M462.2 239.8h0M455.2 250.0h0M444.6 249.1h0M441.9 248.0h0M441.8 242.5h0M452.7 250.0h0M442.0 248.2h0M441.1 237.4h0M455.8 247.4h0M460.9 244.5h0M458.5 243.4h0M457.6 249.4h0M459.0 240.0h0M455.7 249.1h0M442.4 238.6h0M441.8 243.0h0M458.0 241.8h0M441.6 247.8h0M443.0 245.1h0M445.1 248.6h0M460.2 241.4h0M444.0 245.8h0M460.0 248.2h0M460.5 243.6h0M459.6 246.5h0M455.3 249.2h0M443.1 245.9h0M441.6 238.2h0M442.8 243.8h0M456.6 246.0h0M461.9 238.1h0M443.4 248.5h0M460.7 243.5h0M441.6 241.6h0M442.0 244.8h0M457.5 247.8h0M442.8 247.6h0M442.0 247.2h0M441.0 245.7h0M459.4 245.5h0M459.5 245.4h0M458.4 249.2h0M457.9 246.0h0M460.4 239.7h0M440.2 237.3h0M456.4 247.5h0M456.1 249.9h0M457.6 246.6h0M461.4 237.2h0M442.5 245.9h0M441.9 239.0h0M445.1 248.8h0M440.8 240.3h0M439.5 244.2h0M458.0 249.9h0M443.1 244.2h0M441.6 237.2h0M458.7 245.9h0M460.2 245.7h0M441.4 246.9h0M461.3 243.7h0M459.4 243.8h0M444.9 246.7h0M457.6 249.1h0M458.8 242.3h0M459.0 237.6h0M442.1 243.7h0M459.5 241.6h0M439.4 248.4h0M461.8 242.5h0M441.5 242.9h0M460.4 239.8h0M443.8 236.7h0M458.2 236.3h0M456.8 236.6h0M481.7 247.9h0M467.9 245.2h0M494.9 247.4h0M516.1 241.5h0M491.7 238.6h0M493.5 249.7h0M507.6 246.7h0M469.6 240.0h0M500.3 240.5h0M490.8 237.2h0M484.4 242.4h0M477.3 243.4h0M486.2 246.5h0M490.7 237.1h0M514.3 249.1h0M469.4 250.2h0M469.1 245.4h0M484.1 238.8h0M472.2 246.1h0M472.9 240.6h0M493.2 241.5h0M470.8 239.0h0M506.2 242.7h0M508.5 244.0h0M493.0 245.1h0M490.2 238.9h0M487.9 246.2h0M492.9 247.3h0M478.5 246.3h0M505.1 250.0h0M462.6 240.5h0M483.6 247.5h0M518.0 248.6h0M510.1 245.8h0M475.1 244.2h0M518.9 240.1h0M508.2 239.0h0M509.3 249.5h0M489.9 243.8h0M490.9 238.3h0M471.0 249.7h0M471.8 243.3h0M493.3 245.2h0M519.1 238.8h0M488.3 243.8h0M514.5 240.7h0M488.3 239.8h0M512.9 243.0h0M467.3 239.0h0M518.4 246.4h0M469.2 239.8h0M469.1 242.7h0M492.1 240.0h0M500.0 239.1h0M483.6 248.5h0M495.9 245.5h0M481.7 248.7h0M471.5 246.6h0M474.8 243.8h0M492.2 244.4h0M516.4 249.9h0M482.7 242.2h0M491.7 249.6h0M506.3 239.3h0M467.4 249.2h0M503.0 237.2h0M472.8 245.8h0M516.3 250.0h0M488.8 244.3h0M503.5 243.0h0M506.8 245.1h0M511.6 244.5h0M486.0 246.5h0M491.0 243.8h0M484.7 248.2h0M472.6 245.9h0M519.6 238.6h0M483.0 247.2h0M492.6 249.6h0M499.8 240.9h0M486.4 247.6h0M487.3 245.4h0M503.2 244.7h0M487.1 239.3h0M470.8 241.9h0M500.5 246.0h0M475.8 243.5h0M487.7 239.4h0M516.9 246.9h0M483.8 246.8h0M476.9 242.5h0M487.5 248.2h0M493.9 244.3h0M510.2 242.5h0M494.3 245.6h0M474.0 241.9h0M508.6 243.1h0M491.0 240.0h0M516.6 247.3h0M510.8 247.0h0M494.2 242.3h0M504.7 241.3h0M463.3 237.6h0M517.6 249.9h0M474.8 247.7h0M495.8 242.8h0M517.1 245.9h0M488.5 247.4h0M513.2 242.9h0M484.9 248.1h0M500.5 250.0h0M517.8 244.6h0M517.6 242.5h0M492.1 238.1h0M491.8 241.6h0M514.5 248.7h0M496.8 240.0h0M465.9 248.0h0M498.0 246.9h0M510.7 241.3h0M517.4 242.3h0M462.7 240.3h0M467.2 249.4h0M504.9 250.0h0M472.1 245.5h0M498.8 243.3h0M470.4 244.9h0M503.5 245.7h0M491.7 243.9h0M477.3 242.4h0M513.9 246.6h0M504.7 244.1h0M513.3 245.0h0M501.0 247.6h0M491.6 242.7h0M518.3 242.4h0M483.7 248.9h0M462.6 244.0h0M502.2 246.0h0M470.1 243.4h0M497.9 247.2h0M486.6 245.3h0M465.9 249.6h0M497.4 247.5h0M478.6 244.3h0M469.6 246.5h0M519.6 245.0h0M476.9 249.5h0M471.2 240.3h0M467.5 240.2h0M499.9 244.9h0M475.7 249.6h0M503.8 242.5h0M469.2 243.8h0M482.7 250.0h0M486.3 246.2h0M506.5 241.6h0M462.7 242.3h0M472.5 249.6h0M500.0 247.9h0M501.9 245.7h0M479.3 244.0h0M493.9 238.4h0M472.7 243.4h0M494.1 239.1h0M470.4 247.1h0M508.4 245.9h0M506.4 242.2h0M489.2 243.8h0M506.7 249.9h0M493.9 247.9h0M485.0 242.8h0M511.1 240.3h0M500.0 246.1h0M495.2 247.7h0M500.8 243.7h0M482.1 242.5h0M475.0 248.1h0M486.5 237.6h0M509.0 240.0h0M467.6 249.6h0M520.0 238.3h0M497.2 243.8h0M492.7 247.0h0M467.5 248.1h0M503.4 242.3h0M463.2 242.1h0M516.6 248.8h0M507.1 240.9h0M501.1 248.6h0M489.3 240.3h0M503.3 248.8h0M494.9 245.2h0M469.9 249.1h0M470.1 248.5h0M497.3 243.0h0M486.6 237.3h0M508.1 250.0h0M511.0 240.1h0M463.0 250.0h0M485.7 250.1h0M512.9 238.1h0M515.9 237.5h0M474.9 240.2h0M505.8 249.5h0M518.7 242.5h0M465.2 249.8h0M505.4 248.4h0M508.6 245.9h0M487.5 248.9h0M478.1 247.0h0M492.7 244.8h0M492.5 243.0h0M510.7 244.1h0M486.1 237.7h0M496.2 249.1h0M476.5 245.9h0M472.3 249.8h0M500.2 249.8h0M516.4 246.3h0M509.9 248.8h0M491.0 246.8h0M469.7 242.9h0M488.0 244.5h0M513.4 238.9h0M468.8 245.2h0M487.2 246.6h0M508.2 245.5h0M498.1 246.7h0M487.0 248.7h0M493.0 247.2h0M492.7 246.4h0M463.2 246.5h0M490.8 249.6h0M507.1 246.9h0M507.2 247.1h0M490.5 249.1h0M505.0 244.9h0M483.2 248.1h0M482.0 247.9h0M491.1 242.8h0M499.2 241.9h0M493.6 245.6h0M505.0 246.5h0M505.5 246.9h0M476.8 238.0h0M472.2 244.6h0M499.2 246.3h0M504.1 240.5h0M502.1 241.2h0M465.5 239.3h0M482.2 248.4h0M474.4 246.4h0M473.1 249.6h0M490.4 242.0h0M501.4 242.8h0M488.7 242.3h0M517.2 239.4h0M505.2 243.9h0M503.9 250.0h0M509.5 243.7h0M509.2 248.8h0M465.5 245.8h0M499.0 242.8h0M470.2 241.6h0M488.6 249.3h0M492.8 243.7h0M465.6 241.0h0M471.9 249.2h0M511.3 248.5h0M511.3 247.0h0M464.1 242.4h0M515.9 245.2h0M468.4 246.6h0M517.0 248.1h0M530.8 237.9h0M556.0 238.5h0M551.5 248.9h0M557.2 244.5h0M527.7 238.9h0M522.7 247.9h0M549.4 245.6h0M527.3 245.5h0M555.7 243.5h0M547.5 249.9h0M546.7 238.9h0M526.7 249.8h0M531.2 246.7h0M548.9 248.4h0M550.0 247.9h0M521.8 241.4h0M546.0 239.3h0M545.7 243.9h0M537.9 247.7h0M544.3 238.6h0M556.1 237.9h0M524.7 250.2h0M547.5 240.3h0M552.0 246.5h0M547.8 238.7h0M534.6 240.3h0M538.2 239.8h0M539.0 239.0h0M549.1 241.3h0M557.4 239.1h0M545.3 249.9h0M528.0 249.5h0M542.0 249.3h0M527.4 246.5h0M553.4 249.4h0M529.7 243.7h0M555.2 238.1h0M539.1 247.3h0M538.2 242.8h0M538.1 238.0h0M550.4 240.9h0M532.7 238.5h0M532.7 247.4h0M550.1 247.1h0M542.7 237.9h0M522.2 238.1h0M559.8 245.1h0M542.2 248.9h0M524.7 243.7h0M527.2 246.2h0M578.1 246.4h0M595.9 244.5h0M587.5 249.1h0M565.0 246.2h0M576.5 248.1h0M597.2 244.0h0M567.9 248.2h0M596.4 245.8h0M572.7 247.3h0M602.0 242.2h0M607.0 242.8h0M609.7 246.0h0M600.7 243.4h0M583.8 246.0h0M601.9 244.0h0M587.1 240.7h0M568.9 242.5h0M562.5 245.8h0M592.2 243.7h0M601.5 245.5h0M568.3 249.2h0M567.0 246.2h0M579.6 247.1h0M599.7 242.3h0M577.1 245.3h0M606.3 247.0h0M590.8 243.9h0M579.8 243.9h0M597.2 244.3h0M602.3 243.9h0M582.3 246.2h0M574.9 249.6h0M599.0 242.1h0M581.0 244.0h0M596.8 242.4h0M578.5 245.0h0M572.3 244.2h0M598.9 245.1h0M562.9 243.2h0M589.7 241.8h0M580.2 245.7h0M578.9 241.2h0M588.8 245.5h0M581.3 246.5h0M605.9 242.8h0M624.0 245.7h0M628.0 245.7h0M636.0 246.0h0M617.0 247.0h0M611.0 244.0h0M606.0 245.0h0" stroke="#bebebe" stroke-width="2.8" stroke-linecap="round" fill="none"/>
<path d="M392.0 253.3h0M399.6 253.7h0M405.0 252.0h0M410.0 255.0h0M414.0 257.5h0M434.3 252.1h0M433.7 256.2h0M431.7 252.6h0M436.5 253.9h0M430.2 259.7h0M438.8 255.6h0M431.7 252.2h0M434.8 252.9h0M436.0 251.8h0M431.5 250.6h0M423.9 256.2h0M438.7 255.2h0M419.5 256.2h0M429.6 254.1h0M421.3 256.1h0M409.1 254.9h0M438.6 251.3h0M412.7 258.5h0M420.6 257.7h0M432.2 255.0h0M427.9 251.6h0M423.4 257.1h0M411.2 250.4h0M433.3 254.7h0M435.6 252.6h0M418.2 255.4h0M412.3 257.0h0M436.3 252.9h0M429.1 250.5h0M421.3 258.4h0M436.7 258.5h0M428.0 255.4h0M416.2 255.4h0M429.4 259.8h0M421.6 250.3h0M431.3 250.7h0M436.4 250.5h0M431.5 254.3h0M426.2 255.3h0M437.7 250.9h0M437.8 258.2h0M435.3 259.4h0M417.0 257.1h0M427.8 253.5h0M424.5 252.2h0M425.1 250.5h0M412.5 252.5h0M431.2 259.2h0M417.6 258.1h0M427.0 251.0h0M415.5 259.3h0M427.9 254.8h0M426.6 255.3h0M410.0 250.5h0M427.8 251.4h0M431.3 252.1h0M437.9 258.7h0M407.7 253.2h0M413.4 259.3h0M433.0 250.7h0M419.4 258.0h0M436.4 258.4h0M430.1 260.1h0M410.9 256.1h0M425.1 253.5h0M410.4 252.2h0M420.6 251.2h0M421.6 259.1h0M430.9 252.0h0M411.6 257.6h0M430.9 258.9h0M420.1 252.2h0M423.5 259.8h0M426.1 259.3h0M427.0 254.4h0M414.0 257.9h0M423.1 258.3h0M419.7 260.1h0M419.4 257.1h0M424.5 255.8h0M424.6 256.0h0M413.9 252.5h0M413.6 254.0h0M426.7 258.4h0M407.4 254.4h0M428.4 256.5h0M420.3 259.2h0M433.2 260.2h0M433.6 254.7h0M409.4 252.0h0M415.5 259.4h0M424.4 250.3h0M432.3 255.4h0M432.4 252.0h0M425.7 258.4h0M427.9 260.6h0M431.8 253.7h0M433.7 257.6h0M417.8 254.0h0M433.3 252.5h0M432.0 252.8h0M432.9 260.6h0M430.6 253.3h0M420.7 253.7h0M415.2 260.1h0M412.7 250.6h0M416.1 258.2h0M434.4 258.8h0M430.8 257.4h0M416.2 260.2h0M407.2 254.6h0M429.0 257.7h0M434.2 253.9h0M421.6 257.3h0M458.6 260.6h0M453.8 256.5h0M460.5 254.4h0M446.2 250.6h0M453.9 260.0h0M439.6 259.4h0M457.6 256.3h0M448.7 252.2h0M451.1 252.4h0M460.9 252.6h0M461.8 251.9h0M457.2 260.5h0M444.5 257.6h0M449.3 251.2h0M440.5 254.6h0M460.4 258.6h0M451.9 254.3h0M456.2 253.5h0M443.2 258.5h0M449.6 255.9h0M447.1 258.3h0M452.9 254.3h0M448.2 251.8h0M454.7 251.1h0M449.4 259.9h0M457.2 256.0h0M456.7 252.1h0M439.2 260.2h0M439.7 251.4h0M448.0 257.3h0M457.3 251.5h0M439.9 257.4h0M454.5 257.2h0M456.1 254.7h0M443.8 251.1h0M452.9 256.2h0M447.1 256.3h0M445.6 256.8h0M455.2 251.8h0M444.8 252.3h0M451.3 257.4h0M460.4 257.9h0M459.6 253.1h0M451.5 259.0h0M442.5 250.9h0M443.1 258.0h0M441.2 253.4h0M444.1 257.2h0M461.5 260.5h0M443.7 251.4h0M458.8 257.4h0M456.5 252.9h0M441.4 257.7h0M459.0 254.9h0M440.9 255.6h0M456.0 253.0h0M449.2 252.7h0M454.5 252.4h0M461.2 259.2h0M450.9 258.2h0M442.1 260.1h0M454.1 252.0h0M459.7 250.5h0M450.3 260.2h0M455.3 256.3h0M451.9 252.7h0M447.0 258.8h0M441.5 256.1h0M456.4 254.1h0M457.2 250.6h0M454.1 254.3h0M456.6 252.1h0M449.5 252.6h0M439.4 260.1h0M440.4 260.6h0M444.9 255.4h0M457.6 259.8h0M457.8 254.6h0M450.0 260.5h0M460.7 253.3h0M441.3 252.5h0M460.6 256.3h0M447.0 252.1h0M446.6 253.0h0M453.5 253.8h0M441.9 251.8h0M448.2 257.1h0M448.2 257.4h0M461.8 250.9h0M454.9 251.3h0M439.1 255.8h0M458.2 251.5h0M447.1 257.9h0M457.4 255.4h0M459.6 254.3h0M451.3 258.7h0M445.0 259.4h0M441.7 254.2h0M447.3 260.5h0M443.6 258.3h0M461.8 254.0h0M442.8 253.6h0M454.3 250.5h0M443.2 260.1h0M444.6 250.6h0M450.1 251.6h0M455.9 260.6h0M453.0 257.6h0M458.8 255.2h0M441.5 255.1h0M442.6 254.4h0M451.8 251.6h0M448.4 258.1h0M460.7 259.8h0M460.5 257.2h0M451.5 257.8h0M448.5 251.2h0M441.4 255.6h0M457.5 258.0h0M442.4 257.1h0M446.5 250.5h0M456.4 260.3h0M447.2 255.3h0M448.4 259.7h0M456.7 251.7h0M459.6 258.1h0M439.9 258.4h0M451.3 251.6h0M442.2 254.8h0M453.9 258.3h0M444.5 257.6h0M442.6 251.0h0M461.4 257.7h0M459.5 255.1h0M449.5 251.9h0M457.8 251.0h0M459.9 255.9h0M450.4 259.4h0M455.6 258.7h0M458.5 251.7h0M455.9 258.8h0M440.3 250.9h0M446.0 254.8h0M452.1 252.8h0M446.0 256.4h0M455.1 255.9h0M449.9 253.3h0M443.3 259.7h0M459.5 259.5h0M461.5 252.6h0M451.6 256.4h0M462.3 251.1h0M445.1 251.8h0M447.4 252.2h0M455.5 254.2h0M440.7 255.4h0M460.6 251.1h0M445.4 250.7h0M461.9 256.3h0M454.6 259.3h0M448.5 251.8h0M451.5 252.2h0M448.6 252.6h0M441.2 255.8h0M457.8 259.7h0M439.1 256.9h0M444.5 252.5h0M440.7 255.3h0M448.4 255.5h0M446.5 258.0h0M456.4 254.7h0M453.3 257.0h0M455.0 253.1h0M449.8 251.5h0M502.8 260.4h0M511.2 256.5h0M485.8 252.0h0M465.1 255.9h0M510.0 253.3h0M470.9 259.8h0M495.6 253.8h0M463.4 259.1h0M501.2 253.6h0M511.9 258.6h0M495.4 254.8h0M499.2 253.8h0M511.5 256.9h0M513.4 254.3h0M474.9 252.6h0M476.2 252.6h0M486.7 251.3h0M493.4 255.9h0M475.1 255.7h0M486.9 255.7h0M463.4 251.8h0M517.9 253.9h0M517.6 251.1h0M466.1 256.7h0M507.5 255.8h0M469.1 260.5h0M512.8 252.1h0M504.0 250.4h0M491.9 252.4h0M492.2 257.7h0M464.3 250.6h0M468.0 252.3h0M481.2 258.9h0M477.5 253.8h0M469.5 257.9h0M497.5 253.5h0M468.7 257.9h0M494.7 253.1h0M497.3 253.2h0M476.8 258.0h0M476.1 251.9h0M519.3 253.9h0M480.4 252.8h0M489.3 253.6h0M477.1 250.5h0M475.2 257.2h0M463.7 259.6h0M501.6 252.5h0M499.2 252.1h0M502.7 252.8h0M510.5 252.9h0M471.8 255.7h0M512.2 254.0h0M466.7 259.9h0M481.1 254.5h0M490.2 254.4h0M490.4 260.0h0M465.1 255.6h0M490.1 254.5h0M472.9 255.4h0M480.2 259.5h0M491.8 255.7h0M484.5 251.6h0M514.7 254.3h0M499.9 253.0h0M477.7 259.0h0M506.0 259.2h0M512.8 255.1h0M493.8 260.2h0M482.9 255.1h0M478.3 250.6h0M517.5 257.1h0M492.7 259.9h0M499.7 254.3h0M503.7 251.5h0M508.8 253.6h0M511.9 257.6h0M493.0 253.6h0M470.7 250.4h0M470.2 260.3h0M486.6 256.9h0M469.9 251.5h0M478.5 254.7h0M494.4 256.0h0M470.6 255.0h0M476.8 258.4h0M487.0 253.0h0M467.4 257.4h0M501.9 250.4h0M512.7 253.3h0M512.5 252.2h0M479.3 252.2h0M490.4 250.8h0M486.6 250.3h0M513.2 252.3h0M500.0 253.2h0M500.4 250.8h0M464.7 259.0h0M472.3 255.2h0M479.3 255.0h0M506.4 252.8h0M501.5 259.2h0M500.1 251.2h0M467.9 259.2h0M505.8 254.9h0M496.7 251.6h0M491.6 251.2h0M486.1 255.2h0M506.2 251.3h0M472.9 256.8h0M490.0 259.7h0M481.7 250.6h0M490.2 255.6h0M480.2 256.7h0M514.8 253.0h0M473.0 255.6h0M489.3 260.0h0M505.2 257.2h0M492.9 254.6h0M513.9 251.9h0M473.6 253.2h0M506.6 252.1h0M467.3 259.4h0M485.7 256.0h0M463.2 253.7h0M489.8 256.8h0M468.8 250.7h0M466.4 259.1h0M508.6 255.1h0M514.3 258.2h0M517.6 252.1h0M511.0 259.3h0M502.0 250.5h0M464.2 258.1h0M493.7 255.0h0M480.6 250.9h0M510.4 257.8h0M481.1 256.5h0M470.0 260.5h0M505.5 258.0h0M513.2 255.2h0M519.4 256.1h0M507.6 257.5h0M493.3 252.5h0M468.8 259.4h0M476.7 250.3h0M464.8 258.2h0M470.7 254.6h0M512.6 253.6h0M507.3 250.6h0M490.7 256.9h0M478.3 250.6h0M462.6 250.7h0M496.0 252.3h0M491.7 255.2h0M492.1 257.7h0M519.9 256.4h0M471.5 253.6h0M484.0 260.2h0M504.3 260.6h0M510.7 256.9h0M505.4 258.4h0M468.0 257.8h0M468.0 256.1h0M474.5 259.5h0M471.2 256.2h0M503.8 255.1h0M464.8 253.9h0M462.8 259.1h0M483.1 250.7h0M515.7 254.2h0M505.4 260.4h0M505.3 257.6h0M500.6 256.9h0M495.8 252.8h0M467.6 255.6h0M506.6 253.9h0M467.5 257.5h0M498.4 251.1h0M486.5 254.6h0M466.8 250.5h0M469.0 260.6h0M516.4 251.7h0M486.9 254.4h0M492.6 250.9h0M468.7 254.9h0M466.6 251.6h0M485.3 250.4h0M509.2 256.4h0M482.6 256.5h0M517.1 253.2h0M464.3 257.6h0M492.5 253.0h0M472.6 252.0h0M476.9 258.6h0M483.2 260.1h0M464.8 253.8h0M486.5 251.3h0M517.4 250.9h0M473.7 257.8h0M498.3 255.3h0M503.6 252.4h0M481.9 259.3h0M505.8 250.7h0M477.7 257.9h0M480.2 259.4h0M501.2 260.4h0M504.7 252.2h0M473.3 253.6h0M492.2 257.4h0M480.5 254.7h0M495.7 252.7h0M516.2 254.5h0M497.3 256.7h0M498.0 256.8h0M482.9 257.6h0M479.5 255.8h0M462.8 255.1h0M480.8 257.1h0M498.7 255.9h0M485.2 259.6h0M491.6 251.2h0M518.1 256.9h0M492.5 257.7h0M493.4 252.0h0M482.0 253.0h0M484.3 255.0h0M483.6 250.9h0M484.9 254.2h0M518.8 250.3h0M494.9 255.2h0M505.6 253.4h0M475.6 254.2h0M502.2 253.6h0M479.2 252.3h0M486.6 254.0h0M497.5 260.3h0M502.5 257.1h0M489.4 259.6h0M486.7 258.2h0M505.9 255.6h0M501.1 254.8h0M467.6 258.9h0M489.9 251.8h0M504.8 256.4h0M487.3 253.0h0M513.7 252.1h0M504.0 256.0h0M512.9 256.0h0M491.1 250.6h0M484.3 252.8h0M483.6 257.7h0M492.6 254.1h0M484.8 256.2h0M494.6 254.0h0M506.4 260.1h0M511.5 254.0h0M482.9 252.2h0M510.9 251.6h0M501.9 251.5h0M486.1 252.1h0M469.9 259.3h0M477.8 251.0h0M505.8 253.8h0M491.8 254.3h0M485.2 259.1h0M485.7 254.9h0M495.7 257.4h0M512.7 257.9h0M473.6 259.3h0M492.0 258.1h0M466.8 251.6h0M489.4 257.9h0M480.8 251.2h0M488.3 258.6h0M493.7 252.4h0M511.6 251.7h0M505.0 253.4h0M504.7 260.1h0M499.8 257.0h0M518.5 255.2h0M531.4 253.7h0M547.7 251.6h0M547.5 252.2h0M524.2 254.0h0M544.3 254.2h0M520.9 250.3h0M545.0 253.4h0M525.0 255.9h0M532.2 255.7h0M532.2 254.8h0M535.5 253.5h0M553.6 252.0h0M527.9 252.1h0M534.9 251.1h0M524.3 253.8h0M523.3 253.6h0M525.4 250.5h0M525.2 255.0h0M534.8 251.8h0M551.3 250.9h0M520.0 260.0h0M525.0 259.0h0M533.0 256.0h0M541.0 256.0h0M546.0 253.0h0" stroke="#bebebe" stroke-width="2.6" stroke-linecap="round" fill="none"/>
<path d="M414.5 262.0h0M426.0 261.3h0M423.3 261.3h0M437.6 262.2h0M424.1 261.0h0M419.0 261.6h0M418.0 262.1h0M416.0 261.6h0M437.7 261.4h0M436.4 263.2h0M418.9 262.6h0M433.1 262.9h0M438.8 263.2h0M426.5 262.0h0M433.9 261.0h0M416.7 260.8h0M420.8 263.1h0M422.1 262.9h0M418.6 262.3h0M436.7 262.7h0M418.4 261.6h0M436.8 260.7h0M419.6 261.2h0M437.2 263.3h0M418.4 262.2h0M423.0 261.5h0M429.4 262.6h0M428.7 262.0h0M433.1 263.0h0M433.2 261.3h0M449.1 263.2h0M449.9 261.1h0M460.1 261.5h0M450.1 262.5h0M442.2 261.3h0M448.6 263.2h0M441.1 262.8h0M459.7 262.0h0M449.4 262.9h0M443.4 262.7h0M458.0 263.0h0M447.8 263.0h0M459.6 261.8h0M444.9 262.1h0M439.3 260.8h0M441.3 261.4h0M450.0 261.6h0M441.3 262.3h0M448.9 262.7h0M461.1 262.3h0M439.4 261.4h0M439.7 261.4h0M442.2 263.3h0M442.4 260.7h0M450.9 263.1h0M439.8 261.3h0M457.7 262.8h0M452.1 261.3h0M447.7 262.7h0M452.8 263.0h0M461.0 262.1h0M453.4 260.8h0M444.6 262.9h0M440.1 262.9h0M443.5 262.5h0M455.1 261.6h0M451.3 260.8h0M447.7 263.2h0M440.8 261.0h0M461.7 262.2h0M448.8 263.0h0M458.4 262.3h0M456.2 263.0h0M461.9 261.7h0M439.6 262.0h0M460.8 262.0h0M448.7 261.9h0M441.2 261.3h0M440.8 263.3h0M457.5 262.6h0M442.4 261.3h0M449.2 263.0h0M459.9 263.3h0M484.3 261.7h0M481.9 262.0h0M490.9 261.8h0M478.4 263.0h0M486.7 261.4h0M489.6 263.3h0M482.9 262.4h0M494.3 261.2h0M469.5 260.9h0M494.5 262.2h0M499.6 260.9h0M493.4 260.8h0M478.0 262.6h0M478.2 261.6h0M466.3 262.1h0M466.7 260.7h0M489.6 262.7h0M488.9 262.3h0M478.5 262.2h0M483.3 261.5h0M483.5 262.1h0M462.8 261.6h0M477.3 262.2h0M475.1 261.2h0M470.7 262.5h0M486.7 262.9h0M472.3 261.3h0M478.8 262.6h0M472.0 262.4h0M483.0 262.8h0M472.7 262.9h0M499.1 261.4h0M489.8 263.3h0M481.3 263.3h0M470.4 261.1h0M499.3 261.8h0M480.7 261.3h0M477.9 261.6h0M484.1 260.7h0M493.8 261.5h0M465.8 263.1h0M462.8 262.6h0M485.8 261.0h0M466.4 262.5h0M530.0 262.0h0" stroke="#bebebe" stroke-width="2.4" stroke-linecap="round" fill="none"/>
<path d="M442.9 195.3h0M444.2 190.3h0M439.5 193.9h0M442.8 191.2h0M440.7 194.8h0M439.3 193.5h0M443.9 183.7h0M441.2 191.5h0M439.1 196.0h0M441.9 181.9h0" stroke="#bebebe" stroke-width="3.4" stroke-linecap="round" fill="none"/>
<path d="M440.6 213.9h0M442.1 215.2h0M442.7 214.0h0M441.5 213.3h0M441.7 207.3h0M441.9 202.0h0M443.7 213.9h0M461.2 218.9h0" stroke="#bebebe" stroke-width="3.2" stroke-linecap="round" fill="none"/>
<path d="M441.7 232.9h0M441.4 235.7h0M442.3 221.0h0M443.4 232.4h0M440.4 227.8h0M441.9 234.2h0M443.3 224.9h0M439.8 223.1h0M439.2 226.3h0M444.1 224.9h0M461.0 229.1h0M456.6 230.9h0M457.5 231.5h0M458.6 228.3h0M461.0 221.3h0M462.2 228.4h0M461.8 235.4h0M459.1 225.8h0M459.3 228.2h0" stroke="#bebebe" stroke-width="3.0" stroke-linecap="round" fill="none"/>
<path d="M439.5 177.3h0M441.4 179.2h0" stroke="#bebebe" stroke-width="3.6" stroke-linecap="round" fill="none"/>
<path d="M412.8 92.3h0" stroke="#a285d7" stroke-width="4.4" stroke-linecap="round" fill="none"/>
<path d="M425.9 148.3h0" stroke="#ad99cf" stroke-width="4.0" stroke-linecap="round" fill="none"/>
<path d="M396.0 151.8h0" stroke="#916be2" stroke-width="4.0" stroke-linecap="round" fill="none"/>
<path d="M406.3 152.5h0" stroke="#9c7bdb" stroke-width="4.0" stroke-linecap="round" fill="none"/>
<path d="M396.2 158.4h0" stroke="#916ce1" stroke-width="3.8" stroke-linecap="round" fill="none"/>
<path d="M402.5 172.3h0" stroke="#9875de" stroke-width="3.8" stroke-linecap="round" fill="none"/>
<path d="M408.7 174.2h0M408.5 179.0h0" stroke="#9e7fda" stroke-width="3.8" stroke-linecap="round" fill="none"/>
<path d="M416.8 177.6h0" stroke="#a68bd5" stroke-width="3.8" stroke-linecap="round" fill="none"/>
<path d="M425.7 174.2h0" stroke="#ad98cf" stroke-width="3.8" stroke-linecap="round" fill="none"/>
<path d="M431.6 171.7h0" stroke="#b2a1cb" stroke-width="3.8" stroke-linecap="round" fill="none"/>
<path d="M436.8 167.5h0" stroke="#b5a9c8" stroke-width="3.8" stroke-linecap="round" fill="none"/>
<path d="M435.3 180.3h0M435.4 195.8h0" stroke="#b4a7c9" stroke-width="3.6" stroke-linecap="round" fill="none"/>
<path d="M412.4 186.7h0" stroke="#a284d8" stroke-width="3.6" stroke-linecap="round" fill="none"/>
<path d="M422.4 189.3h0" stroke="#ab93d1" stroke-width="3.6" stroke-linecap="round" fill="none"/>
<path d="M431.5 186.6h0M431.7 196.8h0" stroke="#b2a1cb" stroke-width="3.6" stroke-linecap="round" fill="none"/>
<path d="M387.8 217.0h0" stroke="#875fe6" stroke-width="3.4" stroke-linecap="round" fill="none"/>
<path d="M389.0 227.5h0" stroke="#8861e6" stroke-width="3.2" stroke-linecap="round" fill="none"/>
<path d="M394.3 224.0h0" stroke="#8f69e3" stroke-width="3.2" stroke-linecap="round" fill="none"/>
<path d="M397.6 225.2h0" stroke="#936ee1" stroke-width="3.2" stroke-linecap="round" fill="none"/>
<path d="M399.5 235.3h0" stroke="#9571e0" stroke-width="3.2" stroke-linecap="round" fill="none"/>
<path d="M402.0 212.6h0" stroke="#9775de" stroke-width="3.4" stroke-linecap="round" fill="none"/>
<path d="M406.0 211.0h0" stroke="#9c7bdc" stroke-width="3.4" stroke-linecap="round" fill="none"/>
<path d="M408.0 219.5h0" stroke="#9e7eda" stroke-width="3.2" stroke-linecap="round" fill="none"/>
<path d="M412.0 215.5h0" stroke="#a184d8" stroke-width="3.4" stroke-linecap="round" fill="none"/>
<path d="M409.5 199.2h0" stroke="#9f80d9" stroke-width="3.6" stroke-linecap="round" fill="none"/>
<path d="M414.6 203.0h0" stroke="#a488d6" stroke-width="3.4" stroke-linecap="round" fill="none"/>
<path d="M418.5 186.6h0" stroke="#a78ed4" stroke-width="3.6" stroke-linecap="round" fill="none"/>
<path d="M424.5 189.3h0" stroke="#ac97d0" stroke-width="3.6" stroke-linecap="round" fill="none"/>
<path d="M424.0 199.0h0" stroke="#ac96d0" stroke-width="3.6" stroke-linecap="round" fill="none"/>
<path d="M430.0 230.7h0" stroke="#b19fcc" stroke-width="3.2" stroke-linecap="round" fill="none"/>
<path d="M436.5 198.8h0M436.5 186.9h0M436.8 185.0h0" stroke="#b5a9c8" stroke-width="3.6" stroke-linecap="round" fill="none"/>
<path d="M424.2 200.7h0" stroke="#ac96d0" stroke-width="3.4" stroke-linecap="round" fill="none"/>
<path d="M416.6 220.4h0M416.6 224.5h0M416.9 228.6h0M416.9 223.9h0" stroke="#a68bd5" stroke-width="3.2" stroke-linecap="round" fill="none"/>
<path d="M435.6 224.2h0M435.3 232.2h0" stroke="#b4a7c9" stroke-width="3.2" stroke-linecap="round" fill="none"/>
<path d="M421.6 206.5h0M421.4 203.1h0" stroke="#aa92d2" stroke-width="3.4" stroke-linecap="round" fill="none"/>
<path d="M424.2 230.4h0M424.3 235.1h0" stroke="#ac96d0" stroke-width="3.2" stroke-linecap="round" fill="none"/>
<path d="M426.7 212.4h0M426.5 217.0h0" stroke="#ae9acf" stroke-width="3.4" stroke-linecap="round" fill="none"/>
<path d="M435.7 222.3h0" stroke="#b5a7c9" stroke-width="3.2" stroke-linecap="round" fill="none"/>
<path d="M428.8 216.4h0" stroke="#b09dcd" stroke-width="3.4" stroke-linecap="round" fill="none"/>
<path d="M422.1 227.4h0M422.3 225.9h0" stroke="#aa93d1" stroke-width="3.2" stroke-linecap="round" fill="none"/>
<path d="M420.6 228.1h0" stroke="#a991d2" stroke-width="3.2" stroke-linecap="round" fill="none"/>
<path d="M426.4 212.0h0M426.1 219.0h0" stroke="#ae99cf" stroke-width="3.4" stroke-linecap="round" fill="none"/>
<path d="M418.8 221.4h0" stroke="#a88ed4" stroke-width="3.2" stroke-linecap="round" fill="none"/>
<path d="M419.3 236.2h0" stroke="#a88fd3" stroke-width="3.0" stroke-linecap="round" fill="none"/>
<path d="M429.7 226.3h0M429.5 226.0h0M429.2 230.7h0" stroke="#b09ecd" stroke-width="3.2" stroke-linecap="round" fill="none"/>
<path d="M421.2 233.8h0M421.5 229.1h0M421.2 228.7h0" stroke="#aa92d2" stroke-width="3.2" stroke-linecap="round" fill="none"/>
<path d="M436.0 198.6h0" stroke="#b5a8c8" stroke-width="3.6" stroke-linecap="round" fill="none"/>
<path d="M423.6 200.6h0" stroke="#ac95d1" stroke-width="3.4" stroke-linecap="round" fill="none"/>
<path d="M423.7 209.1h0M423.7 215.7h0" stroke="#ac95d0" stroke-width="3.4" stroke-linecap="round" fill="none"/>
<path d="M433.6 223.5h0M433.4 234.5h0" stroke="#b3a4ca" stroke-width="3.2" stroke-linecap="round" fill="none"/>
<path d="M427.0 227.1h0" stroke="#ae9ace" stroke-width="3.2" stroke-linecap="round" fill="none"/>
<path d="M424.7 216.2h0" stroke="#ac97d0" stroke-width="3.4" stroke-linecap="round" fill="none"/>
<path d="M413.2 235.0h0M413.2 224.4h0" stroke="#a386d7" stroke-width="3.2" stroke-linecap="round" fill="none"/>
<path d="M421.9 233.3h0M422.1 235.1h0" stroke="#aa93d2" stroke-width="3.2" stroke-linecap="round" fill="none"/>
<path d="M423.5 218.3h0M423.5 209.6h0" stroke="#ab95d1" stroke-width="3.4" stroke-linecap="round" fill="none"/>
<path d="M423.2 231.5h0" stroke="#ab95d1" stroke-width="3.2" stroke-linecap="round" fill="none"/>
<path d="M414.1 233.5h0" stroke="#a387d7" stroke-width="3.2" stroke-linecap="round" fill="none"/>
<path d="M436.0 235.8h0M436.0 223.9h0M436.4 225.0h0M436.4 230.4h0" stroke="#b5a8c8" stroke-width="3.2" stroke-linecap="round" fill="none"/>
<path d="M422.8 219.9h0M422.9 228.8h0M423.0 235.4h0M422.6 221.8h0M422.5 223.4h0M423.1 234.9h0" stroke="#ab94d1" stroke-width="3.2" stroke-linecap="round" fill="none"/>
<path d="M437.9 235.9h0M438.3 231.2h0" stroke="#b6abc7" stroke-width="3.2" stroke-linecap="round" fill="none"/>
<path d="M431.8 192.5h0" stroke="#b2a2cb" stroke-width="3.6" stroke-linecap="round" fill="none"/>
<path d="M425.6 230.0h0M425.7 222.0h0" stroke="#ad98cf" stroke-width="3.2" stroke-linecap="round" fill="none"/>
<path d="M425.6 214.0h0M425.5 207.6h0M425.6 215.5h0" stroke="#ad98cf" stroke-width="3.4" stroke-linecap="round" fill="none"/>
<path d="M430.2 197.2h0M430.0 192.2h0" stroke="#b19fcc" stroke-width="3.6" stroke-linecap="round" fill="none"/>
<path d="M430.9 236.1h0" stroke="#b1a0cc" stroke-width="3.0" stroke-linecap="round" fill="none"/>
<path d="M424.9 220.0h0M425.0 233.1h0" stroke="#ad97d0" stroke-width="3.2" stroke-linecap="round" fill="none"/>
<path d="M417.4 218.2h0" stroke="#a68cd5" stroke-width="3.4" stroke-linecap="round" fill="none"/>
<path d="M427.3 222.2h0" stroke="#ae9bce" stroke-width="3.2" stroke-linecap="round" fill="none"/>
<path d="M434.4 205.9h0" stroke="#b4a5c9" stroke-width="3.4" stroke-linecap="round" fill="none"/>
<path d="M416.7 213.0h0M416.5 217.7h0" stroke="#a68bd5" stroke-width="3.4" stroke-linecap="round" fill="none"/>
<path d="M432.1 219.0h0" stroke="#b2a2cb" stroke-width="3.4" stroke-linecap="round" fill="none"/>
<path d="M427.7 213.9h0M427.5 207.1h0" stroke="#af9bce" stroke-width="3.4" stroke-linecap="round" fill="none"/>
<path d="M431.2 211.8h0" stroke="#b1a1cc" stroke-width="3.4" stroke-linecap="round" fill="none"/>
<path d="M416.3 234.5h0M415.9 229.6h0" stroke="#a58ad5" stroke-width="3.2" stroke-linecap="round" fill="none"/>
<path d="M414.7 221.3h0" stroke="#a488d6" stroke-width="3.2" stroke-linecap="round" fill="none"/>
<path d="M414.4 228.5h0" stroke="#a487d6" stroke-width="3.2" stroke-linecap="round" fill="none"/>
<path d="M426.2 222.3h0" stroke="#ae99cf" stroke-width="3.2" stroke-linecap="round" fill="none"/>
<path d="M434.2 231.6h0" stroke="#b4a5ca" stroke-width="3.2" stroke-linecap="round" fill="none"/>
<path d="M417.5 212.9h0" stroke="#a68cd4" stroke-width="3.4" stroke-linecap="round" fill="none"/>
<path d="M432.8 228.4h0" stroke="#b3a3ca" stroke-width="3.2" stroke-linecap="round" fill="none"/>
<path d="M430.6 208.2h0" stroke="#b1a0cc" stroke-width="3.4" stroke-linecap="round" fill="none"/>
<path d="M420.2 209.9h0M420.4 216.7h0" stroke="#a990d3" stroke-width="3.4" stroke-linecap="round" fill="none"/>
<path d="M427.6 221.9h0" stroke="#af9bce" stroke-width="3.2" stroke-linecap="round" fill="none"/>
<path d="M415.5 227.1h0M415.5 229.2h0" stroke="#a589d6" stroke-width="3.2" stroke-linecap="round" fill="none"/>
<path d="M430.1 208.7h0" stroke="#b19fcc" stroke-width="3.4" stroke-linecap="round" fill="none"/>
<path d="M422.4 225.9h0" stroke="#ab93d1" stroke-width="3.2" stroke-linecap="round" fill="none"/>
<path d="M420.2 233.8h0" stroke="#a990d3" stroke-width="3.2" stroke-linecap="round" fill="none"/>
<path d="M422.6 201.0h0M422.7 208.4h0" stroke="#ab94d1" stroke-width="3.4" stroke-linecap="round" fill="none"/>
<path d="M418.0 228.6h0M417.9 224.4h0" stroke="#a78dd4" stroke-width="3.2" stroke-linecap="round" fill="none"/>
<path d="M427.9 206.9h0" stroke="#af9cce" stroke-width="3.4" stroke-linecap="round" fill="none"/>
<path d="M434.3 234.9h0" stroke="#b4a5c9" stroke-width="3.2" stroke-linecap="round" fill="none"/>
<path d="M437.0 234.9h0M436.6 223.6h0" stroke="#b5a9c8" stroke-width="3.2" stroke-linecap="round" fill="none"/>
<path d="M438.2 208.6h0M438.0 205.3h0M438.2 218.7h0" stroke="#b6abc7" stroke-width="3.4" stroke-linecap="round" fill="none"/>
<path d="M422.1 209.1h0" stroke="#aa93d2" stroke-width="3.4" stroke-linecap="round" fill="none"/>
<path d="M417.7 220.3h0" stroke="#a78cd4" stroke-width="3.2" stroke-linecap="round" fill="none"/>
<path d="M438.3 192.6h0" stroke="#b6abc7" stroke-width="3.6" stroke-linecap="round" fill="none"/>
<path d="M435.8 210.0h0M436.3 212.4h0" stroke="#b5a8c8" stroke-width="3.4" stroke-linecap="round" fill="none"/>
<path d="M427.4 236.6h0" stroke="#af9bce" stroke-width="3.0" stroke-linecap="round" fill="none"/>
<path d="M429.1 217.9h0" stroke="#b09ecd" stroke-width="3.4" stroke-linecap="round" fill="none"/>
<path d="M427.1 211.1h0" stroke="#ae9ace" stroke-width="3.4" stroke-linecap="round" fill="none"/>
<path d="M436.8 217.7h0M436.7 206.4h0" stroke="#b5a9c8" stroke-width="3.4" stroke-linecap="round" fill="none"/>
<path d="M428.7 221.5h0" stroke="#b09dcd" stroke-width="3.2" stroke-linecap="round" fill="none"/>
<path d="M430.5 221.9h0" stroke="#b1a0cc" stroke-width="3.2" stroke-linecap="round" fill="none"/>
<path d="M435.7 197.2h0" stroke="#b5a7c9" stroke-width="3.6" stroke-linecap="round" fill="none"/>
<path d="M435.3 215.0h0M435.1 215.2h0" stroke="#b4a7c9" stroke-width="3.4" stroke-linecap="round" fill="none"/>
<path d="M419.0 209.6h0" stroke="#a88ed3" stroke-width="3.4" stroke-linecap="round" fill="none"/>
<path d="M423.6 228.4h0" stroke="#ac95d1" stroke-width="3.2" stroke-linecap="round" fill="none"/>
<path d="M421.1 204.8h0M420.6 218.7h0" stroke="#a991d2" stroke-width="3.4" stroke-linecap="round" fill="none"/>
<path d="M438.8 230.8h0" stroke="#b7acc6" stroke-width="3.2" stroke-linecap="round" fill="none"/>
<path d="M437.0 222.4h0" stroke="#b6a9c8" stroke-width="3.2" stroke-linecap="round" fill="none"/>
<path d="M431.5 222.0h0" stroke="#b2a1cb" stroke-width="3.2" stroke-linecap="round" fill="none"/>
<path d="M432.3 225.5h0" stroke="#b2a2cb" stroke-width="3.2" stroke-linecap="round" fill="none"/>
<path d="M418.7 219.9h0" stroke="#a78ed4" stroke-width="3.2" stroke-linecap="round" fill="none"/>
<path d="M427.9 235.8h0M428.0 224.2h0" stroke="#af9cce" stroke-width="3.2" stroke-linecap="round" fill="none"/>
<path d="M412.5 228.2h0" stroke="#a285d8" stroke-width="3.2" stroke-linecap="round" fill="none"/>
<path d="M433.5 215.9h0" stroke="#b3a4ca" stroke-width="3.4" stroke-linecap="round" fill="none"/>
<path d="M437.6 232.3h0" stroke="#b6aac7" stroke-width="3.2" stroke-linecap="round" fill="none"/>
<path d="M419.6 225.7h0" stroke="#a88fd3" stroke-width="3.2" stroke-linecap="round" fill="none"/>
<path d="M480.9 151.3h0M480.9 150.5h0" stroke="#de9c8b" stroke-width="4.0" stroke-linecap="round" fill="none"/>
<path d="M477.5 153.0h0" stroke="#dba090" stroke-width="4.0" stroke-linecap="round" fill="none"/>
<path d="M476.6 162.0h0M476.6 161.9h0" stroke="#dba192" stroke-width="3.8" stroke-linecap="round" fill="none"/>
<path d="M494.5 164.5h0M494.5 171.4h0M494.4 164.3h0M494.4 171.3h0" stroke="#e88b74" stroke-width="3.8" stroke-linecap="round" fill="none"/>
<path d="M489.0 171.0h0" stroke="#e4927d" stroke-width="3.8" stroke-linecap="round" fill="none"/>
<path d="M488.3 175.0h0M488.2 174.4h0" stroke="#e4937e" stroke-width="3.8" stroke-linecap="round" fill="none"/>
<path d="M472.0 179.0h0" stroke="#d7a69a" stroke-width="3.8" stroke-linecap="round" fill="none"/>
<path d="M474.0 185.0h0M473.8 185.1h0" stroke="#d8a496" stroke-width="3.6" stroke-linecap="round" fill="none"/>
<path d="M484.0 182.5h0M484.0 196.0h0" stroke="#e19885" stroke-width="3.6" stroke-linecap="round" fill="none"/>
<path d="M509.0 180.0h0" stroke="#f0785c" stroke-width="3.6" stroke-linecap="round" fill="none"/>
<path d="M522.0 175.7h0" stroke="#f66647" stroke-width="3.8" stroke-linecap="round" fill="none"/>
<path d="M530.7 182.0h0" stroke="#f95739" stroke-width="3.6" stroke-linecap="round" fill="none"/>
<path d="M526.0 187.0h0M526.3 186.7h0" stroke="#f75f40" stroke-width="3.6" stroke-linecap="round" fill="none"/>
<path d="M531.5 187.5h0" stroke="#f95637" stroke-width="3.6" stroke-linecap="round" fill="none"/>
<path d="M535.0 187.7h0" stroke="#fa5031" stroke-width="3.6" stroke-linecap="round" fill="none"/>
<path d="M530.0 193.0h0M529.9 192.7h0" stroke="#f8593a" stroke-width="3.6" stroke-linecap="round" fill="none"/>
<path d="M541.7 210.2h0" stroke="#fc4225" stroke-width="3.4" stroke-linecap="round" fill="none"/>
<path d="M542.7 211.0h0" stroke="#fc4024" stroke-width="3.4" stroke-linecap="round" fill="none"/>
<path d="M554.4 215.0h0" stroke="#fe1a09" stroke-width="3.4" stroke-linecap="round" fill="none"/>
<path d="M552.0 233.6h0" stroke="#fe2510" stroke-width="3.2" stroke-linecap="round" fill="none"/>
<path d="M556.0 233.0h0" stroke="#ff1004" stroke-width="3.2" stroke-linecap="round" fill="none"/>
<path d="M553.0 236.0h0" stroke="#fe210d" stroke-width="3.2" stroke-linecap="round" fill="none"/>
<path d="M540.6 235.5h0" stroke="#fb4427" stroke-width="3.2" stroke-linecap="round" fill="none"/>
<path d="M528.0 221.0h0M527.9 229.2h0M528.3 229.4h0M528.3 220.0h0M527.9 223.0h0" stroke="#f85c3d" stroke-width="3.2" stroke-linecap="round" fill="none"/>
<path d="M525.0 226.0h0M524.9 221.8h0" stroke="#f76142" stroke-width="3.2" stroke-linecap="round" fill="none"/>
<path d="M532.0 229.0h0M532.2 224.2h0" stroke="#f95536" stroke-width="3.2" stroke-linecap="round" fill="none"/>
<path d="M510.0 210.0h0" stroke="#f0775b" stroke-width="3.4" stroke-linecap="round" fill="none"/>
<path d="M505.0 205.0h0" stroke="#ee7e63" stroke-width="3.4" stroke-linecap="round" fill="none"/>
<path d="M497.0 207.0h0M496.8 200.3h0" stroke="#e98870" stroke-width="3.4" stroke-linecap="round" fill="none"/>
<path d="M493.0 212.0h0M493.1 215.4h0" stroke="#e78d76" stroke-width="3.4" stroke-linecap="round" fill="none"/>
<path d="M517.5 224.5h0M517.5 232.4h0M517.6 224.2h0M517.6 228.6h0M517.5 232.9h0M517.9 219.4h0" stroke="#f46c4e" stroke-width="3.2" stroke-linecap="round" fill="none"/>
<path d="M523.8 232.3h0M523.7 230.8h0" stroke="#f66344" stroke-width="3.2" stroke-linecap="round" fill="none"/>
<path d="M493.3 234.2h0M493.1 236.0h0M493.2 235.3h0" stroke="#e78d76" stroke-width="3.2" stroke-linecap="round" fill="none"/>
<path d="M534.2 217.4h0" stroke="#fa5133" stroke-width="3.4" stroke-linecap="round" fill="none"/>
<path d="M500.7 233.7h0" stroke="#ec836a" stroke-width="3.2" stroke-linecap="round" fill="none"/>
<path d="M496.2 227.8h0M496.3 229.2h0M496.3 235.7h0M496.6 230.3h0" stroke="#e98971" stroke-width="3.2" stroke-linecap="round" fill="none"/>
<path d="M472.9 232.8h0" stroke="#d7a598" stroke-width="3.2" stroke-linecap="round" fill="none"/>
<path d="M509.4 227.5h0M509.2 235.9h0M509.0 229.0h0" stroke="#f0785c" stroke-width="3.2" stroke-linecap="round" fill="none"/>
<path d="M532.7 215.6h0M532.6 216.2h0" stroke="#f95435" stroke-width="3.4" stroke-linecap="round" fill="none"/>
<path d="M523.0 232.5h0M523.3 222.1h0M523.1 230.7h0" stroke="#f66445" stroke-width="3.2" stroke-linecap="round" fill="none"/>
<path d="M504.6 236.0h0M504.8 229.1h0M504.7 228.5h0M504.9 234.9h0" stroke="#ee7e63" stroke-width="3.2" stroke-linecap="round" fill="none"/>
<path d="M520.8 218.6h0" stroke="#f56749" stroke-width="3.4" stroke-linecap="round" fill="none"/>
<path d="M531.7 212.2h0" stroke="#f95637" stroke-width="3.4" stroke-linecap="round" fill="none"/>
<path d="M504.4 230.0h0" stroke="#ee7f64" stroke-width="3.2" stroke-linecap="round" fill="none"/>
<path d="M520.0 228.2h0M520.1 226.0h0M520.0 227.2h0" stroke="#f5694a" stroke-width="3.2" stroke-linecap="round" fill="none"/>
<path d="M519.8 226.2h0" stroke="#f5694b" stroke-width="3.2" stroke-linecap="round" fill="none"/>
<path d="M499.0 228.2h0" stroke="#eb866c" stroke-width="3.2" stroke-linecap="round" fill="none"/>
<path d="M534.6 212.5h0" stroke="#fa5032" stroke-width="3.4" stroke-linecap="round" fill="none"/>
<path d="M502.9 236.3h0" stroke="#ed8166" stroke-width="3.0" stroke-linecap="round" fill="none"/>
<path d="M495.0 234.0h0M495.0 228.1h0" stroke="#e88b73" stroke-width="3.2" stroke-linecap="round" fill="none"/>
<path d="M475.1 234.1h0M475.2 232.2h0" stroke="#d9a394" stroke-width="3.2" stroke-linecap="round" fill="none"/>
<path d="M521.6 224.9h0M521.6 224.4h0M521.5 219.4h0" stroke="#f56648" stroke-width="3.2" stroke-linecap="round" fill="none"/>
<path d="M506.3 234.1h0" stroke="#ef7c61" stroke-width="3.2" stroke-linecap="round" fill="none"/>
<path d="M525.3 216.8h0" stroke="#f76142" stroke-width="3.4" stroke-linecap="round" fill="none"/>
<path d="M527.6 227.3h0M527.6 232.5h0" stroke="#f85d3e" stroke-width="3.2" stroke-linecap="round" fill="none"/>
<path d="M498.7 236.6h0" stroke="#ea866d" stroke-width="3.0" stroke-linecap="round" fill="none"/>
<path d="M529.0 221.5h0" stroke="#f85a3b" stroke-width="3.2" stroke-linecap="round" fill="none"/>
<path d="M504.1 232.4h0M504.1 232.2h0" stroke="#ed7f64" stroke-width="3.2" stroke-linecap="round" fill="none"/>
<path d="M478.2 233.9h0M478.0 221.0h0" stroke="#dc9f8f" stroke-width="3.2" stroke-linecap="round" fill="none"/>
<path d="M515.9 231.5h0" stroke="#f36f51" stroke-width="3.2" stroke-linecap="round" fill="none"/>
<path d="M525.7 228.3h0" stroke="#f76041" stroke-width="3.2" stroke-linecap="round" fill="none"/>
<path d="M502.9 227.5h0M502.8 224.3h0" stroke="#ed8166" stroke-width="3.2" stroke-linecap="round" fill="none"/>
<path d="M500.6 234.4h0M500.6 232.4h0" stroke="#ec846a" stroke-width="3.2" stroke-linecap="round" fill="none"/>
<path d="M512.1 230.4h0" stroke="#f17457" stroke-width="3.2" stroke-linecap="round" fill="none"/>
<path d="M520.2 231.6h0M520.4 230.8h0M520.3 229.0h0" stroke="#f5684a" stroke-width="3.2" stroke-linecap="round" fill="none"/>
<path d="M528.6 230.7h0M528.5 223.2h0" stroke="#f85b3c" stroke-width="3.2" stroke-linecap="round" fill="none"/>
<path d="M514.5 226.9h0M514.4 232.0h0M514.5 235.5h0" stroke="#f27153" stroke-width="3.2" stroke-linecap="round" fill="none"/>
<path d="M518.7 232.6h0M518.8 231.6h0" stroke="#f46b4c" stroke-width="3.2" stroke-linecap="round" fill="none"/>
<path d="M527.2 230.2h0" stroke="#f75d3e" stroke-width="3.2" stroke-linecap="round" fill="none"/>
<path d="M530.4 221.0h0M530.6 227.7h0M530.6 219.4h0M530.4 221.6h0" stroke="#f95839" stroke-width="3.2" stroke-linecap="round" fill="none"/>
<path d="M498.6 233.3h0M498.7 229.3h0M498.7 227.4h0" stroke="#ea866d" stroke-width="3.2" stroke-linecap="round" fill="none"/>
<path d="M521.3 221.8h0" stroke="#f56748" stroke-width="3.2" stroke-linecap="round" fill="none"/>
<path d="M505.3 236.1h0" stroke="#ee7d62" stroke-width="3.2" stroke-linecap="round" fill="none"/>
<path d="M486.3 232.5h0" stroke="#e29582" stroke-width="3.2" stroke-linecap="round" fill="none"/>
<path d="M536.1 218.5h0" stroke="#fa4e2f" stroke-width="3.4" stroke-linecap="round" fill="none"/>
<path d="M484.5 231.2h0" stroke="#e19885" stroke-width="3.2" stroke-linecap="round" fill="none"/>
<path d="M524.0 218.9h0" stroke="#f66344" stroke-width="3.4" stroke-linecap="round" fill="none"/>
<path d="M487.4 229.3h0" stroke="#e39480" stroke-width="3.2" stroke-linecap="round" fill="none"/>
<path d="M487.7 231.2h0" stroke="#e3947f" stroke-width="3.2" stroke-linecap="round" fill="none"/>
<path d="M500.1 228.3h0" stroke="#eb846b" stroke-width="3.2" stroke-linecap="round" fill="none"/>
<path d="M527.0 225.9h0" stroke="#f75e3f" stroke-width="3.2" stroke-linecap="round" fill="none"/>
<path d="M508.3 232.1h0" stroke="#f0795d" stroke-width="3.2" stroke-linecap="round" fill="none"/>
<path d="M518.4 234.2h0M518.4 234.8h0M518.5 224.7h0" stroke="#f46b4d" stroke-width="3.2" stroke-linecap="round" fill="none"/>
<path d="M506.6 231.6h0" stroke="#ef7c60" stroke-width="3.2" stroke-linecap="round" fill="none"/>
<path d="M493.6 234.8h0" stroke="#e78c75" stroke-width="3.2" stroke-linecap="round" fill="none"/>
<path d="M537.8 218.0h0" stroke="#fb4a2c" stroke-width="3.4" stroke-linecap="round" fill="none"/>
<path d="M524.3 222.1h0" stroke="#f66243" stroke-width="3.2" stroke-linecap="round" fill="none"/>
<path d="M497.6 229.8h0" stroke="#ea876f" stroke-width="3.2" stroke-linecap="round" fill="none"/>
<path d="M498.8 232.1h0M498.9 235.6h0" stroke="#eb866d" stroke-width="3.2" stroke-linecap="round" fill="none"/>
<path d="M522.5 219.3h0" stroke="#f66546" stroke-width="3.2" stroke-linecap="round" fill="none"/>
<path d="M510.2 226.9h0" stroke="#f1775a" stroke-width="3.2" stroke-linecap="round" fill="none"/>
<path d="M473.8 232.6h0" stroke="#d8a497" stroke-width="3.2" stroke-linecap="round" fill="none"/>
<path d="M533.2 217.3h0M533.4 212.6h0" stroke="#f95334" stroke-width="3.4" stroke-linecap="round" fill="none"/>
<path d="M513.1 228.4h0M513.2 224.5h0" stroke="#f27355" stroke-width="3.2" stroke-linecap="round" fill="none"/>
<path d="M497.0 227.2h0M497.0 231.0h0" stroke="#e98870" stroke-width="3.2" stroke-linecap="round" fill="none"/>
<path d="M499.7 231.2h0" stroke="#eb856b" stroke-width="3.2" stroke-linecap="round" fill="none"/>
<path d="M519.1 224.0h0M519.2 231.3h0" stroke="#f46a4c" stroke-width="3.2" stroke-linecap="round" fill="none"/>
<path d="M535.9 219.3h0" stroke="#fa4e30" stroke-width="3.2" stroke-linecap="round" fill="none"/>
<path d="M534.4 215.4h0" stroke="#fa5132" stroke-width="3.4" stroke-linecap="round" fill="none"/>
<path d="M527.3 218.9h0" stroke="#f75d3e" stroke-width="3.4" stroke-linecap="round" fill="none"/>
<path d="M506.9 235.5h0M506.9 232.6h0" stroke="#ef7b60" stroke-width="3.2" stroke-linecap="round" fill="none"/>
<path d="M513.5 234.8h0" stroke="#f27255" stroke-width="3.2" stroke-linecap="round" fill="none"/>
<path d="M502.6 233.7h0" stroke="#ed8167" stroke-width="3.2" stroke-linecap="round" fill="none"/>
<path d="M485.4 233.7h0" stroke="#e29683" stroke-width="3.2" stroke-linecap="round" fill="none"/>
<path d="M510.7 235.0h0" stroke="#f17659" stroke-width="3.2" stroke-linecap="round" fill="none"/>
<path d="M486.1 235.9h0" stroke="#e29682" stroke-width="3.2" stroke-linecap="round" fill="none"/>
<path d="M529.3 215.2h0" stroke="#f85a3b" stroke-width="3.4" stroke-linecap="round" fill="none"/>
<path d="M517.0 221.7h0M516.9 232.4h0" stroke="#f46d4f" stroke-width="3.2" stroke-linecap="round" fill="none"/>
<path d="M527.9 216.4h0" stroke="#f85c3d" stroke-width="3.4" stroke-linecap="round" fill="none"/>
<path d="M522.7 219.2h0" stroke="#f66546" stroke-width="3.4" stroke-linecap="round" fill="none"/>
<path d="M509.8 226.4h0" stroke="#f0775b" stroke-width="3.2" stroke-linecap="round" fill="none"/>
<path d="M490.3 230.3h0" stroke="#e5907b" stroke-width="3.2" stroke-linecap="round" fill="none"/>
<path d="M516.6 233.3h0M516.6 235.9h0" stroke="#f36e50" stroke-width="3.2" stroke-linecap="round" fill="none"/>
<path d="M491.0 234.7h0M491.1 235.4h0M491.0 233.5h0" stroke="#e6907a" stroke-width="3.2" stroke-linecap="round" fill="none"/>
<path d="M500.9 235.4h0" stroke="#ec8369" stroke-width="3.2" stroke-linecap="round" fill="none"/>
<path d="M526.7 214.1h0M527.0 219.2h0" stroke="#f75e3f" stroke-width="3.4" stroke-linecap="round" fill="none"/>
<path d="M492.5 235.9h0" stroke="#e78e77" stroke-width="3.2" stroke-linecap="round" fill="none"/>
<path d="M515.5 226.2h0" stroke="#f36f52" stroke-width="3.2" stroke-linecap="round" fill="none"/>
<path d="M514.6 232.7h0" stroke="#f37153" stroke-width="3.2" stroke-linecap="round" fill="none"/>
<path d="M534.4 222.5h0" stroke="#fa5132" stroke-width="3.2" stroke-linecap="round" fill="none"/>
<path d="M480.0 231.1h0" stroke="#dd9d8c" stroke-width="3.2" stroke-linecap="round" fill="none"/>
<path d="M514.7 235.0h0" stroke="#f37053" stroke-width="3.2" stroke-linecap="round" fill="none"/>
<path d="M485.1 235.4h0" stroke="#e19784" stroke-width="3.2" stroke-linecap="round" fill="none"/>
<path d="M503.9 227.0h0" stroke="#ed7f65" stroke-width="3.2" stroke-linecap="round" fill="none"/>
<path d="M503.1 234.7h0" stroke="#ed8066" stroke-width="3.2" stroke-linecap="round" fill="none"/>
<path d="M531.7 219.5h0" stroke="#f95637" stroke-width="3.2" stroke-linecap="round" fill="none"/>
<path d="M472.5 235.5h0" stroke="#d7a699" stroke-width="3.2" stroke-linecap="round" fill="none"/>
<path d="M518.1 225.3h0" stroke="#f46c4d" stroke-width="3.2" stroke-linecap="round" fill="none"/>
<path d="M508.8 227.3h0" stroke="#f0795c" stroke-width="3.2" stroke-linecap="round" fill="none"/>
<path d="M491.5 233.8h0" stroke="#e68f79" stroke-width="3.2" stroke-linecap="round" fill="none"/>
<path d="M520.8 227.3h0" stroke="#f56849" stroke-width="3.2" stroke-linecap="round" fill="none"/>
<path d="M524.2 216.4h0M524.4 212.4h0" stroke="#f66243" stroke-width="3.4" stroke-linecap="round" fill="none"/>
<path d="M523.5 233.6h0" stroke="#f66345" stroke-width="3.2" stroke-linecap="round" fill="none"/>
<path d="M497.2 232.4h0" stroke="#ea8870" stroke-width="3.2" stroke-linecap="round" fill="none"/>
<path d="M497.9 229.8h0" stroke="#ea876e" stroke-width="3.2" stroke-linecap="round" fill="none"/>
<path d="M479.0 152.6h0" stroke="#dd9e8e" stroke-width="4.0" stroke-linecap="round" fill="none"/>
<path d="M489.4 170.3h0" stroke="#e5927c" stroke-width="3.8" stroke-linecap="round" fill="none"/>
<path d="M483.7 175.2h0" stroke="#e09886" stroke-width="3.8" stroke-linecap="round" fill="none"/>
<path d="M474.1 179.2h0" stroke="#d8a496" stroke-width="3.8" stroke-linecap="round" fill="none"/>
<path d="M508.8 179.4h0" stroke="#f0795d" stroke-width="3.6" stroke-linecap="round" fill="none"/>
<path d="M487.9 182.1h0" stroke="#e4937f" stroke-width="3.6" stroke-linecap="round" fill="none"/>
<path d="M479.8 184.1h0" stroke="#dd9d8c" stroke-width="3.6" stroke-linecap="round" fill="none"/>
<path d="M483.7 187.8h0" stroke="#e09886" stroke-width="3.6" stroke-linecap="round" fill="none"/>
<path d="M522.3 175.7h0" stroke="#f66546" stroke-width="3.8" stroke-linecap="round" fill="none"/>
<path d="M530.5 181.8h0" stroke="#f95839" stroke-width="3.6" stroke-linecap="round" fill="none"/>
<path d="M531.2 187.8h0" stroke="#f95738" stroke-width="3.6" stroke-linecap="round" fill="none"/>
<path d="M535.2 187.8h0" stroke="#fa4f31" stroke-width="3.6" stroke-linecap="round" fill="none"/>
<path d="M503.3 193.5h0" stroke="#ed8066" stroke-width="3.6" stroke-linecap="round" fill="none"/>
<path d="M505.7 191.4h0" stroke="#ee7d62" stroke-width="3.6" stroke-linecap="round" fill="none"/>
<path d="M478.5 193.0h0" stroke="#dc9f8f" stroke-width="3.6" stroke-linecap="round" fill="none"/>
<path d="M487.4 191.5h0" stroke="#e39480" stroke-width="3.6" stroke-linecap="round" fill="none"/>
<path d="M490.3 193.5h0" stroke="#e5917b" stroke-width="3.6" stroke-linecap="round" fill="none"/>
<path d="M490.7 197.0h0" stroke="#e5907a" stroke-width="3.6" stroke-linecap="round" fill="none"/>
<path d="M476.9 197.5h0" stroke="#dba191" stroke-width="3.6" stroke-linecap="round" fill="none"/>
<path d="M470.7 200.3h0M470.6 208.4h0" stroke="#d5a89c" stroke-width="3.4" stroke-linecap="round" fill="none"/>
<path d="M472.3 203.2h0" stroke="#d7a699" stroke-width="3.4" stroke-linecap="round" fill="none"/>
<path d="M507.4 202.4h0" stroke="#ef7b5f" stroke-width="3.4" stroke-linecap="round" fill="none"/>
<path d="M504.4 205.6h0" stroke="#ee7f64" stroke-width="3.4" stroke-linecap="round" fill="none"/>
<path d="M511.2 209.2h0" stroke="#f17559" stroke-width="3.4" stroke-linecap="round" fill="none"/>
<path d="M487.4 204.0h0" stroke="#e39480" stroke-width="3.4" stroke-linecap="round" fill="none"/>
<path d="M489.5 203.2h0" stroke="#e5917c" stroke-width="3.4" stroke-linecap="round" fill="none"/>
<path d="M483.7 206.1h0" stroke="#e09886" stroke-width="3.4" stroke-linecap="round" fill="none"/>
<path d="M476.1 206.8h0" stroke="#daa193" stroke-width="3.4" stroke-linecap="round" fill="none"/>
<path d="M485.0 209.7h0" stroke="#e19784" stroke-width="3.4" stroke-linecap="round" fill="none"/>
<path d="M486.9 210.5h0" stroke="#e39581" stroke-width="3.4" stroke-linecap="round" fill="none"/>
<path d="M492.8 209.4h0" stroke="#e78d77" stroke-width="3.4" stroke-linecap="round" fill="none"/>
<path d="M495.2 208.9h0" stroke="#e88a73" stroke-width="3.4" stroke-linecap="round" fill="none"/>
<path d="M497.6 204.5h0" stroke="#ea876f" stroke-width="3.4" stroke-linecap="round" fill="none"/>
<path d="M500.4 205.6h0" stroke="#eb846a" stroke-width="3.4" stroke-linecap="round" fill="none"/>
<path d="M499.2 206.5h0" stroke="#eb856c" stroke-width="3.4" stroke-linecap="round" fill="none"/>
<path d="M500.1 212.1h0" stroke="#eb846b" stroke-width="3.4" stroke-linecap="round" fill="none"/>
<path d="M486.3 215.4h0" stroke="#e29582" stroke-width="3.4" stroke-linecap="round" fill="none"/>
<path d="M478.5 214.2h0" stroke="#dc9f8f" stroke-width="3.4" stroke-linecap="round" fill="none"/>
<path d="M480.9 216.2h0" stroke="#de9c8b" stroke-width="3.4" stroke-linecap="round" fill="none"/>
<path d="M467.3 217.5h0" stroke="#d2aca1" stroke-width="3.4" stroke-linecap="round" fill="none"/>
<path d="M468.5 219.4h0" stroke="#d3aa9f" stroke-width="3.2" stroke-linecap="round" fill="none"/>
<path d="M474.1 222.7h0" stroke="#d8a496" stroke-width="3.2" stroke-linecap="round" fill="none"/>
<path d="M476.1 224.3h0" stroke="#daa193" stroke-width="3.2" stroke-linecap="round" fill="none"/>
<path d="M471.2 225.1h0" stroke="#d6a79b" stroke-width="3.2" stroke-linecap="round" fill="none"/>
<path d="M481.7 221.8h0" stroke="#df9b89" stroke-width="3.2" stroke-linecap="round" fill="none"/>
<path d="M482.9 224.3h0" stroke="#e09987" stroke-width="3.2" stroke-linecap="round" fill="none"/>
<path d="M489.0 223.5h0" stroke="#e4927d" stroke-width="3.2" stroke-linecap="round" fill="none"/>
<path d="M492.0 225.1h0" stroke="#e68e78" stroke-width="3.2" stroke-linecap="round" fill="none"/>
<path d="M494.7 227.5h0" stroke="#e88b74" stroke-width="3.2" stroke-linecap="round" fill="none"/>
<path d="M502.0 217.5h0" stroke="#ec8268" stroke-width="3.4" stroke-linecap="round" fill="none"/>
<path d="M501.7 221.0h0" stroke="#ec8268" stroke-width="3.2" stroke-linecap="round" fill="none"/>
<path d="M511.4 221.8h0" stroke="#f17558" stroke-width="3.2" stroke-linecap="round" fill="none"/>
<path d="M532.5 214.6h0" stroke="#f95436" stroke-width="3.4" stroke-linecap="round" fill="none"/>
<path d="M469.6 231.6h0" stroke="#d4a99e" stroke-width="3.2" stroke-linecap="round" fill="none"/>
<path d="M474.4 230.0h0" stroke="#d9a395" stroke-width="3.2" stroke-linecap="round" fill="none"/>
<path d="M479.3 232.4h0" stroke="#dd9e8d" stroke-width="3.2" stroke-linecap="round" fill="none"/>
<path d="M483.4 234.0h0" stroke="#e09986" stroke-width="3.2" stroke-linecap="round" fill="none"/>
<path d="M466.0 228.0h0" stroke="#d1ada4" stroke-width="3.2" stroke-linecap="round" fill="none"/>
<path d="M465.0 234.0h0" stroke="#cfaea5" stroke-width="3.2" stroke-linecap="round" fill="none"/>
<path d="M487.0 231.0h0" stroke="#e39580" stroke-width="3.2" stroke-linecap="round" fill="none"/>
<path d="M470.0 212.0h0" stroke="#d5a89d" stroke-width="3.4" stroke-linecap="round" fill="none"/>
<path d="M498.0 188.0h0" stroke="#ea876e" stroke-width="3.6" stroke-linecap="round" fill="none"/>
<g stroke="#333" stroke-width="0.95" stroke-dasharray="1.6 1.5">
<line x1="439.09999999999997" y1="84.2" x2="439.09999999999997" y2="271.3"/><line x1="462.3" y1="84.2" x2="462.3" y2="271.3"/>
<line x1="358.1" y1="236.72949999999997" x2="649.1" y2="236.72949999999997"/>
</g>
<path d="M358.1 84.2V271.3H649.1" fill="none" stroke="#555" stroke-width="1.1"/>
<line x1="450.7" y1="271.3" x2="450.7" y2="272.90000000000003" stroke="#444" stroke-width="0.6"/>
<text x="450.7" y="276.6" class="ss" font-size="4" fill="#888" text-anchor="middle">0</text>
<line x1="566.7" y1="271.3" x2="566.7" y2="272.90000000000003" stroke="#444" stroke-width="0.6"/>
<text x="566.7" y="276.6" class="ss" font-size="4" fill="#888" text-anchor="middle">10</text>
<line x1="356.5" y1="263.4" x2="358.1" y2="263.4" stroke="#444" stroke-width="0.6"/>
<text x="356.20000000000005" y="264.79999999999995" class="ss" font-size="4" fill="#888" text-anchor="end">0</text>
<line x1="356.5" y1="222.39999999999998" x2="358.1" y2="222.39999999999998" stroke="#444" stroke-width="0.6"/>
<text x="356.20000000000005" y="223.79999999999998" class="ss" font-size="4" fill="#888" text-anchor="end">2</text>
<line x1="356.5" y1="181.39999999999998" x2="358.1" y2="181.39999999999998" stroke="#444" stroke-width="0.6"/>
<text x="356.20000000000005" y="182.79999999999998" class="ss" font-size="4" fill="#888" text-anchor="end">4</text>
<line x1="356.5" y1="140.39999999999998" x2="358.1" y2="140.39999999999998" stroke="#444" stroke-width="0.6"/>
<text x="356.20000000000005" y="141.79999999999998" class="ss" font-size="4" fill="#888" text-anchor="end">6</text>
<line x1="356.5" y1="99.39999999999998" x2="358.1" y2="99.39999999999998" stroke="#444" stroke-width="0.6"/>
<text x="356.20000000000005" y="100.79999999999998" class="ss" font-size="4" fill="#888" text-anchor="end">8</text>
<text x="503.6" y="280.90000000000003" class="ss" font-size="4.6" fill="#333" text-anchor="middle">log2(FC)</text>
<text transform="translate(352.5,177.75) rotate(-90)" class="ss" font-size="4.45" fill="#333" text-anchor="middle">-log10(p-value)</text>
<defs><linearGradient id="gV7" x1="0" y1="0" x2="0" y2="1"><stop offset="0.000" stop-color="#ff0000"/><stop offset="0.083" stop-color="#fc3e22"/><stop offset="0.167" stop-color="#f8593a"/><stop offset="0.250" stop-color="#f36f52"/><stop offset="0.333" stop-color="#ec8268"/><stop offset="0.417" stop-color="#e39480"/><stop offset="0.500" stop-color="#d8a497"/><stop offset="0.583" stop-color="#c9b4af"/><stop offset="0.667" stop-color="#bbb6c2"/><stop offset="0.750" stop-color="#b2a1cb"/><stop offset="0.833" stop-color="#a68cd4"/><stop offset="0.917" stop-color="#9977dd"/><stop offset="1.000" stop-color="#8961e5"/></linearGradient></defs>
<rect x="656" y="164.3" width="7" height="33.2" fill="url(#gV7)"/>
<text x="656" y="161.9" class="ss" font-size="4.6" fill="#222">FoldChange</text>
<text x="664.5" y="175.20000000000002" class="ss" font-size="4.5" fill="#333">5</text>
<text x="664.5" y="186.8" class="ss" font-size="4.5" fill="#333">0</text>
<text x="664.5" y="198.1" class="ss" font-size="4.5" fill="#333">-5</text>
<text x="169.8" y="332" class="sf" font-weight="bold" font-size="13" text-anchor="middle">V10</text>
<rect x="59.9" y="343.2" width="25.6" height="7.4" fill="#d2def8" stroke="#1a6ef0" stroke-width="1.8"/>
<text x="89.7" y="349.3" class="ss" font-size="8" fill="#666" textLength="44.5" lengthAdjust="spacingAndGlyphs">Sig.Down [2]</text>
<rect x="140.8" y="343.2" width="25.6" height="7.4" fill="#f9d2d2" stroke="#ee3a32" stroke-width="1.8"/>
<text x="170.39999999999998" y="349.3" class="ss" font-size="8" fill="#666" textLength="39.1" lengthAdjust="spacingAndGlyphs">Sig.Up [21]</text>
<rect x="216.3" y="343.2" width="25.6" height="7.4" fill="#eceeee" stroke="#c8c8c8" stroke-width="1.8"/>
<text x="245.29999999999998" y="349.3" class="ss" font-size="8" fill="#666" textLength="46.7" lengthAdjust="spacingAndGlyphs">Unsig. [2448]</text>
<path d="M25.6 498.3h0M29.7 500.5h0M43.3 498.3h0M54.6 500.8h0M49.4 504.8h0M54.6 507.3h0M61.3 504.4h0M75.4 504.5h0M90.7 497.3h0M93.4 502.9h0M111.6 493.3h0M108.4 498.1h0M114.8 495.7h0M116.4 499.7h0M114.0 504.5h0M102.0 507.4h0M105.1 509.3h0M109.2 508.5h0M118.0 508.0h0M119.0 503.0h0M148.9 505.0h0M155.0 498.2h0M155.1 503.7h0M158.8 505.8h0M154.5 503.4h0M152.3 497.0h0M153.5 501.3h0M141.0 508.1h0M154.1 502.3h0M150.7 502.0h0M139.8 509.1h0M154.5 495.8h0M154.7 494.6h0M148.1 508.5h0M156.9 498.4h0M152.0 499.6h0M149.2 503.2h0M143.8 503.5h0M158.6 508.8h0M146.4 507.1h0M149.3 504.9h0M154.2 500.7h0M149.5 494.2h0M150.7 499.0h0M157.2 502.1h0M153.7 498.3h0M146.1 502.0h0M143.1 506.2h0M152.3 497.1h0M147.6 507.1h0M143.8 502.0h0M155.8 502.1h0M152.9 506.0h0M147.2 509.3h0M148.7 504.4h0M157.4 501.4h0M146.0 509.1h0M154.1 493.7h0M153.9 499.1h0M146.2 501.9h0M149.7 504.7h0M145.2 502.5h0M151.4 505.9h0M148.0 493.5h0M158.4 506.3h0M148.9 505.2h0M151.4 502.5h0M147.5 508.5h0M147.9 501.3h0M151.4 498.2h0M150.0 497.9h0M142.1 507.6h0M157.9 507.8h0M153.8 508.7h0M143.9 504.9h0M157.9 501.6h0M149.1 502.3h0M155.0 509.5h0M155.3 498.7h0M147.3 500.1h0M157.8 507.3h0M155.9 505.6h0M148.8 503.6h0M155.0 500.0h0M146.3 507.3h0M142.4 507.4h0M158.7 509.5h0M156.7 498.8h0M147.7 507.8h0M148.5 500.5h0M156.7 506.4h0M158.5 509.1h0M149.5 501.4h0M152.4 496.3h0M154.4 498.1h0M144.6 507.3h0M151.3 498.2h0M141.9 509.0h0M149.0 507.0h0M147.2 505.1h0M148.0 500.1h0M153.7 501.8h0M148.4 493.4h0M147.9 508.1h0M150.0 507.1h0M151.9 502.0h0M158.1 503.5h0M153.9 494.1h0M155.9 503.6h0M147.3 496.3h0M155.7 499.7h0M146.4 503.3h0M155.5 507.3h0M157.7 502.4h0M151.0 506.9h0M145.5 499.0h0M153.7 495.3h0M148.6 501.6h0M152.1 496.8h0M153.2 492.7h0M148.2 501.1h0M153.4 499.4h0M155.8 506.2h0M141.5 509.3h0M150.0 504.8h0M148.6 501.0h0M154.2 498.2h0M150.3 493.4h0M147.0 498.2h0M154.0 495.9h0M152.9 499.6h0M147.8 497.6h0M148.6 502.9h0M155.3 503.5h0M157.2 508.7h0M157.3 503.0h0M146.0 508.9h0M149.6 508.7h0M145.3 498.5h0M145.7 509.1h0M145.1 504.3h0M152.4 508.9h0M140.3 507.9h0M143.2 507.0h0M155.5 505.0h0M144.2 506.8h0M147.6 496.4h0M149.2 496.4h0M154.5 503.6h0M154.9 503.1h0M151.9 508.5h0M157.3 501.2h0M148.2 496.2h0M151.4 503.3h0M151.3 508.2h0M153.6 495.7h0M156.7 507.7h0M142.4 509.6h0M157.7 503.8h0M142.3 507.8h0M146.0 504.8h0M145.5 502.6h0M142.6 506.0h0M157.0 497.7h0M149.4 502.4h0M146.2 500.0h0M158.1 507.7h0M151.5 497.4h0M149.9 499.5h0M157.1 507.8h0M164.3 498.4h0M158.6 495.5h0M167.9 501.4h0M158.9 501.4h0M163.6 504.7h0M161.9 494.6h0M167.1 504.7h0M163.5 501.1h0M162.8 508.1h0M163.1 498.7h0M162.2 493.7h0M163.0 506.0h0M169.7 507.2h0M158.3 501.8h0M163.5 501.5h0M159.8 496.4h0M166.5 503.5h0M165.8 502.2h0M159.1 503.4h0M160.5 494.4h0M158.8 501.3h0M159.7 506.9h0M159.5 500.1h0M160.8 502.8h0M157.2 494.5h0M161.7 494.5h0M164.9 498.2h0M158.3 497.5h0M162.1 504.0h0M173.6 509.3h0M165.8 497.5h0M163.3 508.6h0M173.1 509.0h0M166.6 502.3h0M162.7 502.0h0M162.1 497.4h0M170.8 505.7h0M167.1 506.6h0M165.4 494.8h0M166.4 508.1h0M164.9 502.5h0M157.3 493.1h0M160.7 501.1h0M158.9 505.4h0M231.0 499.1h0M176.0 500.0h0M179.0 508.0h0" stroke="#bebebe" stroke-width="3.0" stroke-linecap="round" fill="none"/>
<path d="M44.9 511.4h0M46.5 513.4h0M48.1 515.8h0M51.8 511.0h0M53.8 513.4h0M55.0 519.8h0M59.4 513.4h0M62.6 515.8h0M68.2 517.9h0M72.2 510.1h0M73.0 515.8h0M72.2 519.8h0M77.8 518.2h0M82.7 510.1h0M79.4 514.2h0M85.9 514.2h0M87.5 518.2h0M93.1 511.4h0M113.2 511.0h0M101.1 515.8h0M98.7 521.4h0M95.5 518.2h0M66.0 516.0h0M70.0 514.0h0M57.0 516.0h0M50.0 512.0h0M63.0 512.0h0M76.0 513.0h0M81.0 516.0h0M90.0 516.0h0M84.0 519.0h0M88.0 521.0h0M102.0 519.0h0M106.0 513.0h0M117.0 515.0h0M118.1 520.8h0M112.8 516.2h0M115.6 523.0h0M111.1 517.2h0M117.7 521.4h0M119.5 514.1h0M119.5 519.3h0M117.3 518.4h0M114.2 518.7h0M112.8 518.6h0M116.8 522.1h0M119.5 523.5h0M112.7 515.1h0M120.1 518.8h0M120.7 510.3h0M113.3 520.6h0M115.9 522.5h0M112.7 516.1h0M116.3 519.5h0M111.4 522.1h0M114.5 523.2h0M113.0 521.5h0M119.0 522.3h0M117.8 520.1h0M108.8 519.5h0M116.3 522.1h0M110.3 520.3h0M122.6 515.3h0M111.7 522.3h0M106.2 519.9h0M154.5 514.6h0M151.9 522.8h0M157.2 515.8h0M139.1 512.4h0M134.7 522.7h0M158.5 517.8h0M156.0 523.4h0M139.5 519.4h0M156.0 514.0h0M150.5 523.4h0M158.0 512.0h0M135.9 516.1h0M147.1 518.8h0M149.0 521.6h0M147.4 514.2h0M155.1 510.8h0M140.4 516.9h0M159.7 515.5h0M159.9 523.1h0M154.9 515.1h0M149.4 523.2h0M150.2 521.8h0M141.1 513.6h0M131.6 522.7h0M141.9 513.5h0M156.7 518.1h0M152.4 520.7h0M145.3 513.0h0M146.0 518.7h0M150.2 516.2h0M152.6 516.6h0M138.3 514.5h0M150.3 522.8h0M140.0 514.8h0M153.8 513.2h0M158.7 518.5h0M136.9 520.1h0M146.7 516.3h0M134.1 516.9h0M135.3 517.0h0M155.4 516.6h0M129.2 523.3h0M142.3 510.3h0M156.4 510.4h0M143.9 519.3h0M144.3 521.2h0M137.6 519.7h0M135.6 516.5h0M158.9 515.8h0M132.3 518.2h0M159.0 510.3h0M155.4 511.3h0M151.7 513.4h0M145.9 512.2h0M130.8 521.7h0M143.5 514.7h0M154.7 521.2h0M152.7 519.7h0M137.1 514.2h0M153.1 520.6h0M148.7 517.1h0M137.0 522.4h0M142.6 517.9h0M128.8 522.2h0M156.5 518.5h0M149.8 518.9h0M135.6 521.8h0M145.8 521.1h0M145.4 515.5h0M150.2 519.0h0M153.5 510.7h0M142.2 518.8h0M147.6 522.7h0M147.4 523.1h0M138.0 519.6h0M152.0 523.7h0M141.0 521.7h0M157.8 521.2h0M152.0 516.9h0M145.4 523.8h0M138.1 520.8h0M145.0 510.7h0M141.4 521.9h0M136.5 521.5h0M155.8 518.8h0M139.6 516.6h0M151.4 513.2h0M138.6 522.7h0M137.9 515.9h0M134.0 518.5h0M141.0 523.0h0M137.5 511.9h0M155.4 521.9h0M157.5 517.1h0M152.7 523.0h0M150.6 515.3h0M131.4 520.6h0M153.4 510.4h0M155.5 519.4h0M140.7 511.6h0M134.1 520.3h0M135.0 518.1h0M150.6 523.2h0M159.2 512.8h0M152.2 521.8h0M141.2 520.4h0M147.7 516.7h0M129.0 523.0h0M140.8 518.3h0M157.4 510.6h0M151.9 520.6h0M149.7 516.8h0M158.6 511.1h0M141.0 522.1h0M151.4 522.2h0M135.3 522.8h0M152.5 520.3h0M143.7 512.3h0M137.5 518.3h0M144.6 522.0h0M139.6 515.8h0M153.4 518.0h0M152.1 512.8h0M133.7 521.7h0M134.6 519.8h0M137.2 523.0h0M152.8 510.1h0M144.9 515.2h0M148.0 513.2h0M153.7 521.7h0M152.0 521.4h0M132.4 517.7h0M154.5 514.0h0M134.0 521.4h0M151.5 513.4h0M156.6 521.7h0M143.1 512.7h0M144.0 519.8h0M150.0 512.6h0M140.6 521.2h0M137.4 513.7h0M153.6 523.1h0M154.8 518.2h0M154.2 511.4h0M138.9 521.9h0M136.9 516.8h0M141.1 521.2h0M143.8 510.6h0M158.2 510.5h0M148.8 511.9h0M143.1 522.8h0M136.1 522.8h0M144.6 512.9h0M158.6 518.1h0M141.0 521.9h0M152.4 521.9h0M155.2 509.7h0M153.8 514.6h0M158.4 517.0h0M148.1 515.8h0M156.7 511.8h0M146.7 522.2h0M139.8 513.4h0M149.7 512.4h0M135.0 523.0h0M151.0 514.2h0M150.4 519.5h0M150.7 519.0h0M134.1 521.2h0M154.3 513.1h0M136.9 512.3h0M143.4 520.8h0M136.1 518.2h0M133.2 523.5h0M146.3 519.4h0M156.4 516.2h0M149.0 510.7h0M137.5 514.7h0M142.8 515.2h0M143.2 522.9h0M150.3 510.6h0M154.3 518.9h0M139.0 515.8h0M153.8 513.1h0M152.6 511.7h0M156.9 510.6h0M144.4 514.8h0M156.0 520.6h0M153.0 514.4h0M142.7 511.3h0M155.1 513.3h0M138.6 518.4h0M158.5 523.6h0M136.4 515.7h0M148.4 515.1h0M154.9 515.2h0M151.2 516.4h0M135.5 514.9h0M139.0 515.5h0M140.8 521.6h0M155.6 517.7h0M136.5 522.2h0M154.5 516.2h0M150.4 520.6h0M151.8 509.7h0M146.4 521.3h0M147.1 517.9h0M154.0 523.7h0M138.1 511.4h0M149.0 523.5h0M147.5 510.8h0M157.7 522.6h0M140.2 517.8h0M140.2 510.9h0M136.7 514.4h0M151.9 511.0h0M145.8 514.9h0M145.1 522.3h0M138.9 518.5h0M150.7 521.7h0M150.1 513.6h0M138.5 521.6h0M152.2 512.4h0M148.2 521.8h0M141.7 518.1h0M177.5 523.4h0M170.6 510.0h0M161.0 519.4h0M162.6 511.0h0M163.5 522.9h0M165.8 518.6h0M160.6 522.6h0M168.9 519.1h0M164.4 518.6h0M165.4 515.8h0M161.0 513.8h0M161.7 510.4h0M172.2 510.7h0M167.3 511.0h0M165.3 512.5h0M163.7 514.4h0M175.5 520.6h0M169.1 512.3h0M166.2 517.7h0M167.8 511.1h0M170.4 510.8h0M163.4 515.4h0M160.3 518.2h0M165.6 512.5h0M160.2 511.7h0M164.3 511.8h0M171.7 517.5h0M161.9 519.7h0M164.3 519.9h0M162.4 517.4h0M162.9 517.7h0M161.4 514.0h0M124.0 522.1h0M124.2 522.8h0M122.9 523.0h0M124.7 520.5h0M178.0 515.0h0" stroke="#bebebe" stroke-width="2.8" stroke-linecap="round" fill="none"/>
<path d="M64.7 526.2h0M95.5 527.0h0M96.3 530.2h0M80.1 534.1h0M80.3 533.7h0M83.5 532.3h0M88.5 534.1h0M94.4 532.0h0M86.9 533.7h0M85.4 532.1h0M85.5 534.3h0M82.3 532.9h0M87.2 533.1h0M79.6 534.1h0M84.8 531.7h0M89.7 531.4h0M79.8 534.2h0M114.9 525.1h0M124.4 529.0h0M115.0 529.3h0M103.7 527.3h0M101.6 534.0h0M124.0 527.1h0M105.3 525.2h0M116.2 526.3h0M123.4 531.0h0M116.7 524.8h0M122.9 526.3h0M101.0 525.1h0M104.2 534.3h0M125.8 526.7h0M121.0 528.4h0M105.2 532.5h0M113.0 532.8h0M117.6 531.5h0M108.8 534.1h0M106.5 528.1h0M102.2 524.2h0M101.7 533.9h0M105.9 528.5h0M115.9 526.8h0M123.1 525.1h0M117.5 532.5h0M103.9 533.0h0M108.7 533.2h0M105.2 529.7h0M111.1 525.9h0M105.5 534.0h0M115.2 526.6h0M103.3 525.4h0M124.2 534.1h0M115.3 524.1h0M113.5 529.9h0M114.4 526.3h0M106.1 527.0h0M116.2 524.4h0M115.8 528.0h0M108.2 524.1h0M116.4 527.7h0M107.8 531.5h0M101.6 534.0h0M117.4 524.7h0M126.0 524.3h0M125.1 531.0h0M134.5 524.7h0M128.5 526.8h0M126.5 529.2h0M130.6 532.6h0M136.7 529.7h0M159.5 523.9h0M139.0 525.3h0M148.8 532.8h0M131.9 530.6h0M158.0 527.0h0M157.5 529.1h0M147.9 534.0h0M128.5 529.6h0M125.0 529.6h0M124.6 533.0h0M124.2 533.5h0M159.6 531.3h0M125.1 528.6h0M127.2 525.3h0M133.5 534.0h0M148.9 528.8h0M124.4 529.3h0M152.1 526.0h0M149.5 527.5h0M143.9 533.7h0M134.0 526.2h0M139.4 530.4h0M145.2 529.6h0M159.8 524.1h0M140.5 534.3h0M135.8 527.5h0M157.1 530.7h0M136.1 524.6h0M144.3 529.4h0M157.9 527.9h0M126.4 526.9h0M125.0 527.1h0M142.6 530.7h0M148.2 524.8h0M126.1 527.9h0M134.2 528.1h0M140.8 533.0h0M157.7 525.5h0M146.3 527.4h0M133.5 526.3h0M140.9 531.8h0M135.9 528.8h0M127.4 526.9h0M135.5 528.2h0M132.8 527.2h0M133.2 532.8h0M138.4 530.5h0M123.8 533.0h0M148.6 528.9h0M145.2 530.7h0M144.1 524.8h0M159.8 529.0h0M143.1 529.6h0M137.1 532.0h0M128.2 532.1h0M126.3 531.7h0M156.6 526.2h0M150.6 526.0h0M159.3 526.4h0M142.4 524.8h0M133.9 528.0h0M130.4 524.6h0M139.0 527.7h0M156.5 529.6h0M139.4 529.6h0M155.4 526.8h0M132.5 530.5h0M149.5 530.5h0M126.5 528.2h0M143.6 527.0h0M129.7 532.2h0M135.4 524.2h0M136.6 528.7h0M127.6 530.7h0M151.0 533.6h0M128.1 529.6h0M131.4 527.2h0M126.2 532.6h0M146.8 526.9h0M148.1 528.1h0M132.2 526.8h0M154.2 525.1h0M142.8 533.0h0M154.2 531.9h0M144.4 525.4h0M139.8 525.8h0M127.3 533.9h0M154.8 526.5h0M127.3 529.1h0M148.5 534.3h0M149.9 531.7h0M130.6 532.6h0M156.2 534.2h0M152.0 528.3h0M142.7 525.7h0M149.5 527.1h0M126.4 531.0h0M144.9 534.3h0M141.4 530.4h0M131.9 529.4h0M130.4 526.6h0M127.2 525.9h0M132.8 533.0h0M157.0 530.4h0M157.3 528.3h0M152.0 525.3h0M129.0 532.3h0M127.5 524.4h0M133.6 530.2h0M130.9 533.2h0M136.8 530.7h0M125.2 530.6h0M146.2 526.8h0M150.3 530.6h0M140.9 534.3h0M126.3 533.1h0M133.8 525.9h0M138.4 530.5h0M134.3 530.7h0M127.4 534.3h0M156.8 528.1h0M128.0 534.2h0M137.8 530.7h0M149.3 525.8h0M128.9 528.1h0M131.4 525.2h0M139.3 532.1h0M155.2 525.1h0M149.0 532.5h0M145.3 534.2h0M137.2 532.4h0M159.2 524.5h0M136.8 533.5h0M157.0 530.7h0M138.9 526.2h0M138.4 526.7h0M133.3 533.0h0M128.5 534.2h0M128.2 527.7h0M156.2 531.1h0M135.1 529.2h0M141.6 533.6h0M134.2 533.4h0M135.6 526.8h0M155.7 534.0h0M130.6 534.1h0M151.8 524.2h0M142.1 527.6h0M148.6 525.3h0M124.9 533.3h0M145.9 526.7h0M132.6 528.8h0M147.3 531.3h0M138.5 528.1h0M130.9 524.9h0M134.9 526.9h0M153.5 533.3h0M126.4 530.3h0M134.9 526.0h0M128.9 525.3h0M144.7 530.1h0M123.4 529.5h0M131.1 527.9h0M157.2 527.9h0M151.4 530.8h0M154.3 525.0h0M133.3 533.9h0M147.4 530.3h0M128.2 525.9h0M152.4 533.7h0M159.8 533.0h0M131.5 533.4h0M141.5 530.2h0M127.9 526.9h0M150.5 525.3h0M139.7 529.5h0M156.0 526.0h0M143.3 524.4h0M153.5 534.0h0M131.9 526.9h0M145.2 533.9h0M137.7 530.9h0M146.9 525.0h0M149.7 526.9h0M142.2 528.3h0M158.2 524.0h0M145.3 527.6h0M127.2 526.5h0M150.4 529.7h0M140.9 527.2h0M148.9 524.5h0M126.4 528.2h0M149.4 528.8h0M134.4 534.2h0M134.3 526.1h0M147.1 528.8h0M135.6 533.7h0M131.5 527.8h0M142.6 526.0h0M125.7 531.4h0M139.8 525.1h0M140.8 525.0h0M154.7 529.5h0M158.9 529.7h0M134.5 528.3h0M151.5 525.0h0M127.7 524.3h0M138.2 525.6h0M143.6 532.5h0M137.0 529.9h0M133.5 528.3h0M132.2 526.5h0M152.6 529.8h0M148.5 528.1h0M157.6 533.1h0M125.7 530.4h0M124.3 531.2h0M134.8 531.9h0M141.9 523.9h0M129.7 524.1h0M144.7 525.3h0M135.1 532.0h0M154.3 527.8h0M132.6 528.0h0M128.9 533.7h0M130.8 528.1h0M155.4 526.0h0M154.2 526.7h0M140.7 524.7h0M121.7 532.8h0M127.3 526.5h0M167.6 533.3h0M161.0 533.4h0M165.8 529.5h0M161.1 525.0h0M170.8 526.9h0M161.4 528.9h0M164.7 533.5h0M161.2 532.9h0M160.7 531.5h0M170.8 528.3h0M160.1 530.2h0M178.2 534.3h0M175.3 528.8h0M167.6 529.5h0M164.7 525.7h0M167.9 532.5h0M173.2 528.1h0M161.7 534.3h0M175.5 531.5h0M161.9 525.3h0M160.2 525.3h0M161.9 524.2h0M162.6 529.8h0M162.6 529.9h0M160.5 532.9h0M167.3 531.3h0M169.7 524.0h0M163.6 529.7h0M160.9 524.1h0M166.2 528.4h0M114.8 530.5h0M120.5 529.5h0M113.7 527.1h0M123.4 533.5h0M118.3 529.3h0M113.1 527.0h0M112.1 530.1h0M124.8 532.0h0M121.4 529.6h0M120.2 530.8h0M107.6 531.7h0M112.3 527.4h0M112.4 525.4h0M108.8 531.9h0M115.9 533.1h0M120.9 531.9h0M106.5 533.5h0M117.8 526.0h0M116.3 528.6h0M110.2 529.2h0M113.7 530.1h0M118.7 533.2h0M111.6 532.9h0M112.2 533.3h0M115.2 529.8h0M115.0 525.9h0M107.7 533.3h0M119.1 525.6h0M114.8 526.1h0M111.4 532.0h0M117.4 528.0h0M117.4 531.9h0M116.5 533.4h0M114.2 533.5h0M108.3 529.8h0M110.7 529.3h0M120.3 525.6h0M114.5 533.4h0M116.2 530.0h0M109.5 529.1h0M120.0 525.7h0M117.2 525.8h0M120.2 529.8h0M114.4 528.0h0M109.1 529.0h0M121.4 525.2h0M290.1 530.4h0M241.0 533.0h0M190.0 534.0h0M175.0 533.0h0M186.0 531.0h0M180.0 527.0h0" stroke="#bebebe" stroke-width="2.6" stroke-linecap="round" fill="none"/>
<path d="M82.2 490.9h0M95.2 488.8h0M100.3 489.6h0M106.0 487.2h0M103.5 483.6h0M114.8 486.1h0M110.0 490.9h0M155.4 491.8h0M151.0 491.4h0M148.9 491.9h0M153.6 487.8h0M150.4 489.0h0M154.6 490.0h0M155.7 492.6h0M155.2 490.6h0M155.1 491.5h0M153.9 491.0h0M150.8 491.4h0M154.5 492.6h0M155.3 491.4h0M150.3 491.3h0M152.9 489.5h0M152.6 487.9h0M150.2 491.6h0M153.9 489.1h0M153.0 490.5h0M150.8 489.2h0M149.9 489.5h0M149.4 491.2h0M154.3 492.2h0M150.6 488.0h0M151.8 489.2h0M153.9 490.0h0M155.8 489.5h0M156.6 489.8h0M156.4 489.9h0M173.0 490.0h0M168.0 487.0h0M150.0 475.0h0M148.0 479.0h0M151.0 482.0h0M146.0 481.0h0" stroke="#bebebe" stroke-width="3.2" stroke-linecap="round" fill="none"/>
<path d="M93.5 534.5h0M88.0 536.6h0M87.1 534.7h0M85.0 535.4h0M120.5 536.7h0M104.2 536.3h0M98.8 535.8h0M103.9 535.2h0M123.7 536.1h0M100.0 536.3h0M107.7 535.4h0M100.1 534.9h0M116.4 537.0h0M119.2 537.0h0M120.1 536.6h0M114.6 534.9h0M113.9 536.1h0M115.6 535.1h0M123.7 535.9h0M122.6 535.9h0M149.2 536.0h0M142.0 536.4h0M155.7 536.4h0M147.7 535.7h0M144.8 536.8h0M157.0 534.4h0M124.8 536.4h0M137.5 535.6h0M145.6 535.0h0M134.5 536.2h0M153.4 535.6h0M125.7 534.4h0M143.1 536.7h0M143.5 536.3h0M151.5 534.4h0M122.3 535.2h0M141.9 534.8h0M139.7 536.0h0M132.5 536.7h0M152.7 534.6h0M127.4 535.7h0M139.5 536.6h0M151.9 536.3h0M149.3 534.8h0M143.1 535.2h0M125.9 537.1h0M154.7 534.4h0M126.8 535.5h0M132.6 534.5h0M125.8 536.8h0M148.3 535.0h0M153.5 536.9h0M134.5 535.7h0M148.5 536.7h0M156.7 536.1h0M126.5 536.6h0M139.9 535.1h0M125.0 535.1h0M159.9 535.1h0M150.1 536.6h0M131.0 536.5h0M156.3 534.8h0M150.6 534.6h0M134.0 534.7h0M144.9 536.7h0M129.4 534.8h0M155.6 535.1h0M120.4 537.0h0M131.5 534.8h0M159.0 536.0h0M136.8 536.6h0M135.4 535.5h0M143.6 535.3h0M139.1 536.1h0M138.7 535.4h0M135.0 536.6h0M123.7 536.9h0M135.6 536.9h0M134.1 535.4h0M124.5 535.7h0M143.6 535.2h0M135.2 534.4h0M157.0 534.4h0M129.9 535.7h0M149.3 536.5h0M133.2 536.5h0M151.9 535.4h0M155.5 537.1h0M122.4 534.4h0M126.8 535.8h0M152.3 536.5h0M141.0 534.8h0M149.5 535.6h0M146.1 536.5h0M142.5 536.7h0M153.0 534.9h0M146.5 534.5h0M141.3 535.8h0M148.3 534.9h0M147.5 534.4h0M171.9 535.9h0M171.0 534.7h0M176.1 534.4h0M163.1 536.6h0M178.9 534.9h0M160.9 536.3h0M169.0 537.1h0M164.0 534.6h0M178.5 535.2h0M168.3 536.3h0M166.0 534.9h0M111.5 535.4h0M112.7 534.6h0M108.1 536.6h0M122.4 536.9h0M110.7 536.4h0M114.3 535.3h0M105.4 536.6h0M115.1 536.5h0M108.6 536.0h0M124.0 534.9h0M213.7 535.0h0M222.9 535.9h0M230.3 536.3h0M233.6 535.6h0M182.0 535.0h0M184.0 536.0h0M193.0 536.0h0M178.0 536.0h0" stroke="#bebebe" stroke-width="2.4" stroke-linecap="round" fill="none"/>
<path d="M146.2 453.0h0M148.1 463.7h0M145.0 467.5h0M149.5 469.9h0" stroke="#bebebe" stroke-width="3.4" stroke-linecap="round" fill="none"/>
<path d="M101.2 473.0h0" stroke="#906be2" stroke-width="3.6" stroke-linecap="round" fill="none"/>
<path d="M115.6 421.7h0" stroke="#a78ed4" stroke-width="4.0" stroke-linecap="round" fill="none"/>
<path d="M198.4 366.2h0" stroke="#fd2e16" stroke-width="4.4" stroke-linecap="round" fill="none"/>
<path d="M171.4 421.2h0" stroke="#ef7c60" stroke-width="4.0" stroke-linecap="round" fill="none"/>
<path d="M168.5 432.1h0" stroke="#ec8268" stroke-width="3.8" stroke-linecap="round" fill="none"/>
<path d="M160.5 466.1h0" stroke="#e5927c" stroke-width="3.6" stroke-linecap="round" fill="none"/>
<path d="M153.4 467.1h0" stroke="#dc9f8f" stroke-width="3.6" stroke-linecap="round" fill="none"/>
<path d="M155.3 469.6h0" stroke="#de9b8a" stroke-width="3.6" stroke-linecap="round" fill="none"/>
<path d="M170.4 467.1h0" stroke="#ee7e63" stroke-width="3.6" stroke-linecap="round" fill="none"/>
<path d="M174.3 468.0h0" stroke="#f17559" stroke-width="3.6" stroke-linecap="round" fill="none"/>
<path d="M192.9 466.8h0" stroke="#fb4427" stroke-width="3.6" stroke-linecap="round" fill="none"/>
<path d="M196.4 476.1h0" stroke="#fd371d" stroke-width="3.4" stroke-linecap="round" fill="none"/>
<path d="M202.9 481.2h0" stroke="#ff0c03" stroke-width="3.4" stroke-linecap="round" fill="none"/>
<path d="M161.1 473.5h0" stroke="#e5907b" stroke-width="3.4" stroke-linecap="round" fill="none"/>
<path d="M161.4 477.7h0" stroke="#e6907a" stroke-width="3.4" stroke-linecap="round" fill="none"/>
<path d="M153.4 477.0h0M153.4 482.2h0" stroke="#dc9f8f" stroke-width="3.4" stroke-linecap="round" fill="none"/>
<path d="M165.9 480.6h0" stroke="#ea876e" stroke-width="3.4" stroke-linecap="round" fill="none"/>
<path d="M156.0 472.0h0" stroke="#df9a88" stroke-width="3.6" stroke-linecap="round" fill="none"/>
<path d="M152.5 473.0h0" stroke="#dba191" stroke-width="3.6" stroke-linecap="round" fill="none"/>
<path d="M158.5 481.5h0" stroke="#e29582" stroke-width="3.4" stroke-linecap="round" fill="none"/>
<path d="M157.0 476.0h0" stroke="#e19886" stroke-width="3.4" stroke-linecap="round" fill="none"/>
<path d="M163.0 483.0h0" stroke="#e78d76" stroke-width="3.4" stroke-linecap="round" fill="none"/>
<g stroke="#333" stroke-width="0.95" stroke-dasharray="1.6 1.5">
<line x1="120.3" y1="357.7" x2="120.3" y2="545.3"/><line x1="151.7" y1="357.7" x2="151.7" y2="545.3"/>
<line x1="12.4" y1="484.0192" x2="303" y2="484.0192"/>
</g>
<path d="M12.4 357.7V545.3H303" fill="none" stroke="#555" stroke-width="1.1"/>
<line x1="57.5" y1="545.3" x2="57.5" y2="546.9" stroke="#444" stroke-width="0.6"/>
<text x="57.5" y="550.5999999999999" class="ss" font-size="4" fill="#888" text-anchor="middle">-5</text>
<line x1="136.0" y1="545.3" x2="136.0" y2="546.9" stroke="#444" stroke-width="0.6"/>
<text x="136.0" y="550.5999999999999" class="ss" font-size="4" fill="#888" text-anchor="middle">0</text>
<line x1="214.5" y1="545.3" x2="214.5" y2="546.9" stroke="#444" stroke-width="0.6"/>
<text x="214.5" y="550.5999999999999" class="ss" font-size="4" fill="#888" text-anchor="middle">5</text>
<line x1="293.0" y1="545.3" x2="293.0" y2="546.9" stroke="#444" stroke-width="0.6"/>
<text x="293.0" y="550.5999999999999" class="ss" font-size="4" fill="#888" text-anchor="middle">10</text>
<line x1="10.8" y1="537.1" x2="12.4" y2="537.1" stroke="#444" stroke-width="0.6"/>
<text x="10.5" y="538.5" class="ss" font-size="4" fill="#888" text-anchor="end">0</text>
<line x1="10.8" y1="496.3" x2="12.4" y2="496.3" stroke="#444" stroke-width="0.6"/>
<text x="10.5" y="497.7" class="ss" font-size="4" fill="#888" text-anchor="end">1</text>
<line x1="10.8" y1="455.5" x2="12.4" y2="455.5" stroke="#444" stroke-width="0.6"/>
<text x="10.5" y="456.9" class="ss" font-size="4" fill="#888" text-anchor="end">2</text>
<line x1="10.8" y1="414.70000000000005" x2="12.4" y2="414.70000000000005" stroke="#444" stroke-width="0.6"/>
<text x="10.5" y="416.1" class="ss" font-size="4" fill="#888" text-anchor="end">3</text>
<line x1="10.8" y1="373.90000000000003" x2="12.4" y2="373.90000000000003" stroke="#444" stroke-width="0.6"/>
<text x="10.5" y="375.3" class="ss" font-size="4" fill="#888" text-anchor="end">4</text>
<text x="157.7" y="554.9" class="ss" font-size="4.6" fill="#333" text-anchor="middle">log2(FC)</text>
<text transform="translate(6.800000000000001,451.5) rotate(-90)" class="ss" font-size="4.45" fill="#333" text-anchor="middle">-log10(p-value)</text>
<defs><linearGradient id="gV10" x1="0" y1="0" x2="0" y2="1"><stop offset="0.000" stop-color="#ff0000"/><stop offset="0.083" stop-color="#fc3c21"/><stop offset="0.167" stop-color="#f95738"/><stop offset="0.250" stop-color="#f46d4f"/><stop offset="0.333" stop-color="#ed7f64"/><stop offset="0.417" stop-color="#e5907a"/><stop offset="0.500" stop-color="#dba091"/><stop offset="0.583" stop-color="#ceb0a7"/><stop offset="0.667" stop-color="#bebebe"/><stop offset="0.750" stop-color="#b5a9c8"/><stop offset="0.833" stop-color="#ac95d1"/><stop offset="0.917" stop-color="#a081d9"/><stop offset="1.000" stop-color="#926de1"/></linearGradient></defs>
<rect x="310" y="437.9" width="7" height="33.7" fill="url(#gV10)"/>
<text x="310" y="435.6" class="ss" font-size="4.6" fill="#222">FoldChange</text>
<text x="318.5" y="440.2" class="ss" font-size="4.5" fill="#333">4</text>
<text x="318.5" y="450.79999999999995" class="ss" font-size="4.5" fill="#333">2</text>
<text x="318.5" y="461.7" class="ss" font-size="4.5" fill="#333">0</text>
<text x="318.5" y="471.4" class="ss" font-size="4.5" fill="#333">-2</text>
<text x="532.8" y="332" class="sf" font-weight="bold" font-size="13" text-anchor="middle">C5</text>
<rect x="402.9" y="342.4" width="25.6" height="7.4" fill="#d2def8" stroke="#1a6ef0" stroke-width="1.8"/>
<text x="433.0" y="348.5" class="ss" font-size="8" fill="#666" textLength="48.6" lengthAdjust="spacingAndGlyphs">Sig.Down [83]</text>
<rect x="488.2" y="342.4" width="25.6" height="7.4" fill="#f9d2d2" stroke="#ee3a32" stroke-width="1.8"/>
<text x="517.7" y="348.5" class="ss" font-size="8" fill="#666" textLength="43.5" lengthAdjust="spacingAndGlyphs">Sig.Up [198]</text>
<rect x="568.1999999999999" y="342.4" width="25.6" height="7.4" fill="#eceeee" stroke="#c8c8c8" stroke-width="1.8"/>
<text x="597.4000000000001" y="348.5" class="ss" font-size="8" fill="#666" textLength="46.1" lengthAdjust="spacingAndGlyphs">Unsig. [2248]</text>
<path d="M418.7 486.7h0M437.0 489.0h0M475.6 488.0h0M468.8 489.7h0M476.4 490.1h0M477.4 488.8h0M477.4 488.5h0M483.0 487.5h0M497.2 490.8h0M500.9 490.9h0M495.9 489.9h0M482.0 490.5h0M491.1 488.9h0M500.4 490.8h0M483.3 488.1h0M487.0 489.2h0M483.9 489.7h0M482.2 489.3h0M494.5 490.5h0M501.3 488.8h0M499.3 489.0h0M478.1 488.4h0M481.4 490.2h0M488.4 489.3h0M483.8 487.1h0M478.7 488.0h0M491.5 490.6h0M497.8 488.5h0M488.3 490.1h0M482.6 489.5h0M501.8 490.9h0M525.8 489.7h0M526.2 488.9h0M525.8 490.5h0M506.1 475.4h0M524.0 478.0h0M522.5 483.0h0M504.0 483.0h0M559.7 487.0h0M530.1 490.1h0M549.6 490.4h0M533.2 488.7h0M562.9 487.1h0M552.0 490.4h0M544.6 488.8h0M533.9 487.4h0M541.8 488.8h0M543.4 488.9h0M556.0 489.8h0M555.9 489.8h0M543.3 489.8h0M551.2 490.6h0M544.6 489.1h0M544.8 490.1h0M546.7 488.2h0M537.2 489.0h0M556.1 488.2h0M544.5 488.1h0M556.6 489.7h0M548.4 490.8h0M562.4 489.6h0M532.3 487.9h0M557.0 487.3h0M535.8 490.0h0M546.5 487.4h0M531.4 490.2h0M563.1 487.7h0M546.5 487.1h0M541.5 490.2h0M545.0 489.3h0M552.0 487.9h0M545.6 487.9h0M534.8 489.6h0M548.1 487.5h0M554.8 489.7h0M541.6 487.1h0M530.2 487.3h0M552.7 487.2h0M554.5 487.3h0M566.8 489.6h0M567.8 490.3h0M555.9 488.9h0M558.9 490.3h0M528.1 487.8h0M561.4 488.3h0M547.1 487.7h0M531.1 487.4h0M530.6 488.3h0M547.0 490.6h0M553.7 488.0h0" stroke="#bebebe" stroke-width="3.2" stroke-linecap="round" fill="none"/>
<path d="M423.5 495.1h0M427.3 497.7h0M433.0 495.9h0M427.5 499.6h0M415.5 498.5h0M442.9 501.2h0M449.5 498.0h0M451.0 505.0h0M475.0 500.3h0M476.7 504.7h0M467.6 502.9h0M462.1 506.7h0M474.8 493.9h0M475.0 500.0h0M476.5 496.6h0M468.8 501.1h0M464.5 505.2h0M475.5 502.0h0M476.8 505.9h0M470.2 492.4h0M467.6 492.0h0M475.7 506.4h0M476.9 494.7h0M464.7 497.5h0M467.2 507.3h0M459.8 502.4h0M474.6 498.6h0M471.5 508.3h0M477.0 507.1h0M469.6 498.2h0M458.8 502.3h0M471.8 504.9h0M474.6 493.3h0M477.6 495.5h0M474.5 498.7h0M461.7 498.3h0M474.1 502.5h0M474.2 499.6h0M468.6 491.6h0M476.0 504.4h0M471.9 503.3h0M473.9 507.1h0M466.0 496.1h0M499.6 492.0h0M483.4 495.5h0M499.1 493.4h0M487.5 491.4h0M490.1 505.2h0M499.2 497.0h0M479.8 502.0h0M497.1 504.6h0M480.1 505.2h0M483.0 497.8h0M500.4 498.9h0M494.0 498.5h0M486.0 500.3h0M486.5 506.9h0M489.0 501.7h0M494.4 507.8h0M482.0 504.3h0M486.3 499.5h0M497.3 492.0h0M499.3 496.7h0M482.1 507.5h0M483.6 491.1h0M485.5 502.6h0M497.6 496.2h0M478.3 498.2h0M490.0 501.2h0M479.1 501.3h0M494.9 497.6h0M498.8 500.3h0M482.5 506.4h0M501.3 490.9h0M500.3 508.3h0M478.2 505.4h0M500.0 491.7h0M479.0 502.9h0M484.7 504.7h0M494.2 498.6h0M486.2 501.1h0M495.1 506.3h0M495.2 502.9h0M488.8 508.1h0M501.6 506.8h0M481.1 494.3h0M498.4 500.0h0M479.5 499.0h0M498.1 501.2h0M498.0 501.8h0M496.6 492.8h0M491.8 502.2h0M490.0 505.6h0M501.1 499.5h0M482.6 501.2h0M493.6 501.8h0M494.3 496.6h0M501.1 501.1h0M487.7 501.9h0M500.4 504.3h0M493.0 492.5h0M487.0 496.8h0M488.4 497.5h0M494.7 498.6h0M484.6 504.8h0M501.5 494.2h0M494.7 504.1h0M498.6 494.9h0M492.8 498.6h0M487.8 504.1h0M500.0 503.6h0M489.7 499.0h0M495.0 503.1h0M496.7 497.5h0M487.3 494.3h0M500.3 505.3h0M495.0 500.1h0M496.9 492.1h0M487.0 496.3h0M488.8 495.8h0M489.1 507.2h0M502.0 491.6h0M497.2 492.2h0M487.6 494.9h0M490.9 497.7h0M493.4 492.5h0M483.3 502.0h0M501.1 495.4h0M501.6 493.4h0M497.2 497.9h0M497.8 493.0h0M500.3 507.3h0M496.4 505.1h0M480.2 501.2h0M500.6 506.6h0M487.8 504.6h0M494.4 503.2h0M494.7 502.9h0M490.7 494.3h0M497.7 498.4h0M486.4 502.1h0M492.9 504.9h0M501.6 506.2h0M492.8 506.3h0M494.5 495.6h0M494.6 508.2h0M490.0 491.2h0M487.4 493.0h0M497.6 503.1h0M491.6 495.2h0M495.9 505.0h0M481.5 507.3h0M490.1 499.4h0M501.4 493.0h0M498.6 502.4h0M485.3 498.6h0M487.9 503.5h0M479.3 498.5h0M490.4 502.4h0M492.7 500.3h0M486.8 503.5h0M487.4 506.7h0M494.8 492.4h0M501.3 497.2h0M488.1 491.1h0M491.7 495.2h0M481.3 493.7h0M501.2 493.7h0M481.6 501.7h0M493.6 493.6h0M501.2 496.1h0M490.4 497.3h0M500.0 503.1h0M498.9 495.8h0M484.8 506.7h0M499.5 501.3h0M498.3 507.2h0M499.0 494.9h0M496.5 507.5h0M499.5 505.6h0M500.5 494.2h0M500.7 495.8h0M480.8 492.5h0M482.9 496.5h0M485.3 490.9h0M485.3 504.4h0M496.8 501.4h0M488.9 495.1h0M500.9 503.7h0M501.7 492.7h0M486.4 492.9h0M482.5 497.5h0M490.7 497.0h0M494.8 503.6h0M500.5 494.6h0M486.8 504.6h0M492.2 494.6h0M503.2 503.0h0M505.7 503.4h0M523.9 506.8h0M504.1 504.3h0M526.0 493.9h0M524.4 498.3h0M504.1 498.1h0M504.3 502.8h0M504.3 501.7h0M523.4 503.6h0M526.2 499.9h0M502.1 502.5h0M525.9 507.3h0M502.8 500.6h0M503.2 504.0h0M523.0 505.0h0M503.3 506.3h0M502.9 497.2h0M502.6 494.8h0M524.9 502.6h0M524.3 507.1h0M504.4 506.9h0M522.9 506.4h0M502.6 494.9h0M504.9 505.1h0M503.6 506.5h0M525.7 491.3h0M502.9 497.9h0M523.3 501.3h0M524.8 499.8h0M524.2 499.8h0M503.9 504.5h0M526.2 496.1h0M502.9 491.7h0M504.7 503.9h0M524.6 496.1h0M505.7 506.1h0M524.8 497.9h0M526.3 494.0h0M526.0 500.9h0M525.9 507.6h0M504.8 502.3h0M502.2 495.1h0M503.4 506.4h0M502.6 502.6h0M523.5 503.4h0M523.5 508.0h0M505.3 507.1h0M503.6 500.6h0M504.4 506.0h0M506.4 507.1h0M523.6 497.0h0M542.3 507.2h0M541.8 500.5h0M527.3 499.5h0M536.3 492.4h0M536.5 502.3h0M544.3 494.6h0M543.1 496.6h0M533.4 502.2h0M550.3 498.3h0M558.1 494.4h0M538.5 492.0h0M562.3 491.2h0M530.5 491.4h0M556.0 496.7h0M556.2 500.2h0M528.8 498.9h0M545.4 493.5h0M533.2 492.0h0M528.8 491.2h0M544.9 491.2h0M569.0 493.8h0M554.1 503.3h0M554.8 495.7h0M527.2 497.5h0M547.7 493.0h0M550.8 504.5h0M548.5 502.8h0M548.0 502.2h0M558.5 504.5h0M536.1 507.2h0M541.9 496.0h0M528.3 492.8h0M539.5 506.1h0M564.6 502.9h0M545.7 494.3h0M530.7 502.8h0M530.3 493.6h0M549.0 494.7h0M540.4 507.5h0M556.4 495.5h0M544.0 491.3h0M528.8 502.9h0M533.3 503.9h0M568.5 497.8h0M528.6 493.4h0M546.5 499.5h0M537.7 507.9h0M530.7 493.9h0M538.8 499.3h0M557.8 495.0h0M539.6 506.2h0M538.1 494.4h0M535.8 501.5h0M564.4 498.0h0M546.7 501.7h0M529.3 504.6h0M528.2 493.7h0M563.4 507.4h0M564.4 497.4h0M560.6 497.9h0M541.7 506.5h0M538.3 501.4h0M528.8 496.9h0M566.0 493.5h0M544.9 507.2h0M526.9 507.7h0M531.9 499.0h0M532.1 495.5h0M556.3 500.8h0M558.8 492.2h0M544.7 491.3h0M527.5 493.7h0M570.0 491.8h0M548.1 503.6h0M546.1 491.8h0M562.1 507.1h0M540.8 494.5h0M533.6 495.3h0M560.3 508.0h0M562.6 500.6h0M530.5 496.6h0M552.3 502.4h0M550.4 494.4h0M570.4 505.5h0M549.1 497.8h0M557.1 494.5h0M557.8 502.5h0M528.5 491.1h0M571.9 503.0h0M550.4 501.0h0M549.3 491.8h0M552.3 502.0h0M527.6 504.9h0M543.4 493.6h0M545.5 497.2h0M539.1 498.1h0M540.1 491.7h0M548.6 492.1h0M527.3 493.3h0M535.2 491.9h0M533.8 497.1h0M550.1 504.2h0M545.4 507.7h0M541.0 501.2h0M528.0 504.5h0M567.1 495.6h0M561.6 492.2h0M565.3 504.7h0M531.3 505.1h0M541.0 507.5h0M548.2 495.0h0M537.8 495.3h0M537.5 507.4h0M546.4 505.5h0M533.1 500.9h0M570.3 506.9h0M531.1 496.6h0M531.4 504.3h0M528.4 507.5h0M535.6 494.8h0M526.7 503.6h0M549.1 506.1h0M570.0 503.6h0M533.7 502.0h0M555.7 501.0h0M541.9 506.8h0M548.0 496.4h0M536.7 502.9h0M539.6 492.7h0M545.8 491.6h0M569.1 498.6h0M564.2 504.7h0M557.9 503.6h0M570.8 499.1h0M573.0 505.3h0M543.6 508.1h0M542.2 495.6h0M545.1 503.0h0M556.1 503.9h0M562.6 503.8h0M531.7 500.5h0M542.4 506.3h0M564.3 497.3h0M534.0 501.8h0M556.0 508.1h0M549.8 499.2h0M556.2 500.5h0M545.5 505.1h0M554.5 491.0h0M541.5 501.3h0M570.9 501.8h0M529.1 497.3h0M569.1 500.3h0M557.4 502.3h0M565.1 493.4h0M547.1 503.0h0M541.1 494.7h0M561.0 498.3h0M551.6 493.1h0M533.3 507.2h0M531.7 495.1h0M553.0 491.8h0M529.7 494.5h0M563.5 492.9h0M531.6 493.0h0M551.6 507.5h0M528.6 501.2h0M541.8 500.4h0M532.8 496.6h0M570.3 501.1h0M533.4 491.3h0M543.4 500.8h0M572.5 499.2h0M537.9 496.8h0M551.3 502.2h0M553.0 499.6h0M565.6 496.1h0M530.7 506.8h0M571.5 494.0h0M563.0 502.2h0M553.0 508.1h0M529.9 506.3h0M568.7 497.1h0M584.4 504.1h0M573.7 493.9h0M584.6 497.1h0M573.5 494.2h0M585.3 507.4h0M581.9 498.5h0M578.0 505.4h0M575.6 497.6h0M574.9 506.5h0M573.5 507.4h0M578.4 504.5h0M579.4 504.6h0M582.7 499.0h0M583.5 497.0h0M583.5 500.8h0M586.8 505.5h0M579.8 506.6h0M599.5 501.8h0M589.9 503.5h0M628.5 502.0h0M616.0 507.0h0" stroke="#bebebe" stroke-width="3.0" stroke-linecap="round" fill="none"/>
<path d="M403.8 508.8h0M443.0 511.6h0M453.7 516.0h0M477.6 515.4h0M471.3 517.1h0M472.8 516.4h0M474.2 508.5h0M474.9 508.7h0M475.2 514.5h0M466.0 519.4h0M472.9 516.6h0M465.9 515.7h0M470.2 511.6h0M472.2 513.1h0M476.9 511.0h0M468.0 512.5h0M466.9 517.3h0M469.6 514.6h0M475.2 520.5h0M468.6 521.5h0M465.5 511.4h0M501.6 516.0h0M478.8 521.6h0M483.4 516.6h0M499.5 512.9h0M485.0 522.8h0M491.3 513.2h0M481.9 522.7h0M500.0 517.2h0M487.4 520.8h0M480.6 522.4h0M483.9 517.4h0M479.7 514.4h0M493.9 518.4h0M485.2 511.6h0M491.0 515.0h0M496.9 514.8h0M500.6 516.9h0M486.4 518.0h0M485.6 511.0h0M486.8 520.9h0M495.4 519.4h0M484.8 522.4h0M499.5 518.5h0M486.6 513.0h0M483.0 517.2h0M490.5 510.2h0M501.6 509.0h0M491.8 517.5h0M481.2 512.6h0M492.2 522.3h0M497.7 514.6h0M489.7 521.3h0M492.5 522.2h0M497.9 509.4h0M486.8 509.6h0M484.4 509.4h0M491.8 521.1h0M498.7 519.8h0M493.2 514.5h0M485.4 513.3h0M496.4 511.4h0M498.1 519.2h0M489.0 516.9h0M499.3 513.7h0M489.9 515.2h0M484.2 517.5h0M490.9 513.1h0M480.7 517.1h0M491.3 513.7h0M487.4 514.6h0M489.6 514.5h0M490.9 508.8h0M496.5 519.8h0M484.1 512.2h0M482.3 517.6h0M488.6 516.4h0M480.2 513.8h0M490.2 515.8h0M478.1 517.9h0M481.4 511.8h0M496.6 513.5h0M501.4 511.5h0M500.0 516.1h0M494.3 511.7h0M495.2 513.4h0M499.2 514.7h0M481.8 513.6h0M490.8 522.5h0M495.0 517.6h0M480.7 515.3h0M501.4 517.9h0M494.2 514.9h0M495.8 520.4h0M497.4 520.7h0M500.6 510.0h0M495.0 515.3h0M487.8 510.4h0M489.3 517.4h0M498.6 520.6h0M499.6 511.3h0M486.6 519.2h0M493.4 513.4h0M489.9 514.9h0M486.3 515.4h0M495.8 518.2h0M490.3 521.2h0M492.8 517.3h0M489.6 519.9h0M482.5 510.1h0M482.4 513.3h0M490.5 517.7h0M480.0 518.8h0M484.1 516.6h0M489.4 517.3h0M498.3 516.7h0M491.9 516.7h0M490.6 516.7h0M487.2 510.2h0M499.5 520.2h0M494.3 509.9h0M494.8 521.7h0M479.7 514.9h0M480.1 509.9h0M484.7 511.8h0M500.1 514.0h0M498.5 512.1h0M494.5 510.4h0M481.1 513.0h0M491.7 510.5h0M494.9 520.8h0M494.9 516.9h0M479.1 509.2h0M493.2 514.3h0M489.8 509.6h0M493.1 515.5h0M485.2 513.4h0M507.9 509.9h0M514.3 517.6h0M505.3 522.9h0M508.5 514.5h0M507.7 512.4h0M508.3 512.0h0M518.7 515.8h0M504.7 510.9h0M520.7 520.3h0M519.2 521.3h0M521.1 513.3h0M518.8 521.2h0M520.4 518.3h0M508.3 519.6h0M520.4 510.4h0M524.6 519.1h0M511.2 520.5h0M525.3 517.7h0M510.1 514.5h0M512.6 518.7h0M505.1 522.1h0M519.4 512.8h0M516.1 518.0h0M504.6 510.6h0M505.6 508.9h0M513.3 521.3h0M522.1 519.4h0M503.8 513.5h0M522.0 520.3h0M520.7 520.9h0M504.7 523.0h0M521.2 518.8h0M506.5 509.3h0M522.0 517.0h0M508.0 521.7h0M523.3 517.2h0M504.9 518.4h0M521.8 517.0h0M504.4 516.1h0M508.2 517.3h0M505.6 519.2h0M504.1 511.4h0M504.4 509.3h0M515.1 515.7h0M515.3 520.4h0M526.0 519.7h0M514.0 520.1h0M502.3 508.9h0M519.4 521.7h0M525.7 513.4h0M516.2 518.1h0M521.1 513.9h0M519.9 522.8h0M515.6 521.1h0M523.4 515.7h0M512.0 521.6h0M503.0 520.8h0M506.7 519.4h0M521.8 515.5h0M522.3 510.2h0M516.6 520.4h0M522.3 518.2h0M506.2 509.7h0M509.9 520.1h0M517.2 514.9h0M524.9 510.9h0M504.8 515.3h0M525.1 519.3h0M508.8 513.4h0M508.9 518.2h0M519.9 518.0h0M515.9 519.3h0M510.8 522.8h0M525.4 522.8h0M513.5 521.5h0M511.5 520.9h0M524.2 521.2h0M503.1 516.3h0M508.9 520.7h0M519.8 510.8h0M516.5 516.7h0M504.4 514.8h0M523.4 513.8h0M518.4 520.2h0M525.5 520.5h0M525.0 514.4h0M521.3 515.9h0M506.0 516.6h0M505.3 521.6h0M510.0 518.3h0M524.4 509.3h0M518.4 520.3h0M523.2 517.2h0M523.0 517.2h0M525.2 522.7h0M510.6 514.1h0M504.7 512.0h0M506.6 520.8h0M524.2 514.0h0M509.1 512.4h0M516.5 516.1h0M507.7 510.7h0M510.3 517.6h0M525.9 511.9h0M524.6 518.6h0M511.8 522.4h0M521.6 515.3h0M503.4 517.5h0M525.3 518.6h0M516.1 522.1h0M510.4 519.1h0M525.0 513.6h0M522.1 511.3h0M525.0 509.2h0M525.7 520.4h0M502.7 516.2h0M524.9 520.0h0M525.5 515.0h0M515.6 515.3h0M524.0 522.0h0M511.8 517.3h0M522.6 522.9h0M525.2 515.4h0M504.7 516.1h0M524.6 515.8h0M521.3 520.5h0M507.0 515.0h0M502.1 519.8h0M505.0 518.0h0M503.3 511.9h0M524.5 520.9h0M515.6 522.4h0M514.2 522.8h0M531.2 522.3h0M491.7 522.6h0M555.1 522.4h0M529.2 522.9h0M512.2 522.0h0M545.5 522.7h0M531.4 522.5h0M575.4 522.5h0M554.7 522.2h0M484.5 522.5h0M491.2 522.8h0M498.6 522.4h0M554.4 522.3h0M538.1 510.2h0M535.0 520.4h0M564.8 513.1h0M550.0 515.3h0M554.8 514.9h0M560.5 521.3h0M542.7 521.2h0M551.2 513.7h0M568.5 510.1h0M553.8 517.3h0M537.0 521.7h0M533.3 510.6h0M542.2 513.9h0M531.4 512.5h0M536.3 515.1h0M572.2 519.1h0M540.9 510.8h0M549.1 509.7h0M565.2 520.8h0M528.4 520.8h0M548.3 512.7h0M552.8 517.5h0M543.4 511.9h0M531.0 512.6h0M540.1 519.6h0M536.4 513.0h0M564.6 512.8h0M572.9 520.8h0M541.0 513.1h0M542.4 515.0h0M572.3 513.1h0M533.9 520.3h0M563.7 518.2h0M566.6 522.4h0M553.8 521.2h0M536.9 520.7h0M566.4 521.4h0M545.2 521.5h0M563.1 519.9h0M566.0 516.7h0M563.7 516.0h0M570.5 510.0h0M570.1 511.1h0M545.9 511.6h0M540.3 512.3h0M539.8 515.7h0M554.9 516.8h0M528.7 508.7h0M528.5 515.3h0M553.3 517.7h0M544.8 516.5h0M562.3 512.5h0M530.2 508.9h0M563.7 513.4h0M531.8 513.0h0M543.6 519.8h0M548.7 517.7h0M569.6 511.4h0M530.6 517.4h0M537.7 517.6h0M550.8 518.6h0M564.4 518.0h0M536.6 519.3h0M534.3 508.4h0M553.1 518.3h0M559.5 508.5h0M562.8 510.3h0M543.0 514.0h0M566.7 521.8h0M571.6 514.9h0M550.5 518.9h0M572.3 511.0h0M532.3 516.6h0M563.4 522.0h0M533.6 510.1h0M543.3 513.3h0M557.4 515.8h0M530.2 518.4h0M534.2 516.5h0M547.3 520.7h0M559.4 516.3h0M558.3 519.1h0M573.0 522.9h0M545.9 521.4h0M540.5 519.4h0M533.2 512.0h0M553.9 512.8h0M573.1 516.1h0M560.1 513.6h0M537.0 522.3h0M566.9 516.2h0M552.8 515.2h0M527.4 508.5h0M533.2 509.1h0M527.9 520.6h0M571.9 521.3h0M571.9 522.0h0M567.8 511.3h0M530.1 520.1h0M568.8 514.7h0M533.1 512.4h0M535.7 509.5h0M543.5 516.1h0M560.6 516.0h0M552.9 520.1h0M541.4 512.3h0M546.1 519.1h0M562.3 512.4h0M566.8 519.5h0M537.7 513.9h0M568.5 520.6h0M532.4 515.6h0M562.0 515.4h0M569.5 508.8h0M533.2 516.8h0M532.5 514.0h0M528.2 510.9h0M539.6 512.8h0M537.6 522.1h0M560.9 510.0h0M545.9 513.6h0M554.4 516.5h0M534.1 509.7h0M573.3 511.9h0M566.6 508.8h0M545.5 512.4h0M546.8 515.9h0M544.7 514.1h0M541.9 522.4h0M543.0 517.4h0M550.2 521.6h0M543.9 513.1h0M540.4 512.0h0M552.5 514.6h0M542.7 522.9h0M555.7 514.8h0M529.7 521.4h0M527.2 516.9h0M561.8 513.5h0M557.9 518.5h0M547.3 517.8h0M531.1 509.4h0M536.4 513.7h0M544.6 508.6h0M531.0 517.3h0M555.3 517.5h0M527.9 522.5h0M558.3 515.2h0M561.6 509.7h0M528.5 521.0h0M560.5 517.8h0M552.5 519.8h0M555.4 509.5h0M530.4 512.1h0M571.2 513.4h0M549.0 516.9h0M562.6 519.8h0M529.8 515.9h0M552.6 522.0h0M528.3 510.9h0M530.3 514.4h0M560.5 521.5h0M558.0 513.5h0M542.8 510.3h0M562.2 517.2h0M527.8 517.6h0M561.2 509.9h0M561.8 522.9h0M542.8 516.3h0M562.1 522.8h0M530.3 521.9h0M539.3 516.0h0M561.7 509.2h0M549.2 516.7h0M570.9 523.0h0M573.0 511.2h0M566.6 510.7h0M550.4 517.6h0M565.7 519.2h0M582.3 514.8h0M575.0 511.8h0M577.0 513.5h0M584.5 510.1h0M581.6 521.2h0M576.5 516.9h0M584.5 511.6h0M575.9 519.3h0M575.0 521.4h0M588.8 521.6h0M577.9 510.9h0M578.0 521.0h0M576.1 518.2h0M582.9 514.7h0M587.7 513.9h0M591.9 512.6h0M611.5 510.6h0M612.3 510.5h0M603.2 516.4h0M612.1 514.2h0M618.8 509.8h0M594.5 509.1h0M598.1 516.0h0M623.0 519.0h0M610.0 520.0h0" stroke="#bebebe" stroke-width="2.8" stroke-linecap="round" fill="none"/>
<path d="M436.2 526.8h0M447.5 524.6h0M453.0 527.5h0M435.4 528.6h0M442.1 527.7h0M477.0 530.5h0M476.6 531.2h0M462.5 530.7h0M468.2 530.3h0M474.2 526.3h0M473.8 523.2h0M472.2 528.6h0M468.7 528.1h0M469.0 526.8h0M473.4 526.3h0M474.2 530.9h0M469.6 523.4h0M470.0 527.9h0M465.0 530.4h0M467.7 532.6h0M469.0 530.9h0M487.4 528.2h0M500.8 527.6h0M485.6 532.3h0M490.6 524.0h0M499.6 531.4h0M483.8 533.2h0M479.8 528.7h0M488.0 531.0h0M485.6 524.7h0M484.7 531.3h0M499.3 527.5h0M484.9 527.4h0M493.7 530.1h0M488.3 530.0h0M494.3 523.6h0M490.8 523.1h0M493.5 526.0h0M491.9 533.0h0M478.3 532.0h0M482.3 528.0h0M496.9 530.6h0M488.3 526.3h0M496.3 530.2h0M483.2 527.8h0M495.1 525.3h0M487.6 527.8h0M483.1 526.9h0M495.5 523.6h0M497.3 532.0h0M490.4 525.5h0M489.5 533.1h0M482.8 530.2h0M482.6 530.0h0M500.1 525.8h0M482.7 532.1h0M494.7 531.7h0M485.1 527.0h0M482.0 530.2h0M480.2 530.1h0M483.3 525.0h0M493.9 523.2h0M488.5 528.7h0M496.7 528.0h0M494.7 527.8h0M479.0 524.6h0M484.8 533.7h0M495.6 527.3h0M482.5 528.9h0M478.6 528.2h0M485.3 525.9h0M479.2 526.1h0M485.2 526.0h0M499.2 533.2h0M501.0 532.7h0M487.7 523.7h0M500.6 525.0h0M479.2 526.7h0M486.2 526.9h0M488.7 527.1h0M500.9 523.9h0M501.1 524.9h0M494.7 523.2h0M489.8 529.5h0M501.3 528.8h0M493.8 532.9h0M499.1 530.0h0M480.9 533.0h0M485.8 531.3h0M478.9 530.8h0M498.8 532.4h0M501.6 528.5h0M483.1 529.5h0M494.2 525.3h0M486.6 529.1h0M496.3 524.7h0M478.0 524.9h0M492.5 530.8h0M490.8 531.2h0M490.4 527.4h0M486.5 526.1h0M494.6 525.8h0M479.3 524.3h0M487.6 528.0h0M482.9 528.4h0M500.8 531.4h0M499.8 523.3h0M484.4 529.2h0M499.8 523.4h0M486.5 530.8h0M496.5 529.6h0M491.6 525.5h0M491.8 531.3h0M491.8 532.6h0M497.3 527.5h0M481.1 533.3h0M495.2 525.1h0M479.8 528.0h0M488.2 530.3h0M492.7 531.6h0M492.1 526.1h0M478.3 527.4h0M484.5 532.3h0M481.9 530.2h0M498.4 523.6h0M485.0 525.6h0M492.3 532.8h0M496.0 528.4h0M485.1 525.0h0M499.4 529.7h0M490.0 531.9h0M500.3 525.7h0M487.6 528.9h0M517.1 525.3h0M524.2 533.2h0M519.7 533.4h0M511.7 530.6h0M514.8 525.0h0M507.3 533.0h0M523.4 529.5h0M504.3 527.3h0M524.7 524.0h0M506.2 531.5h0M517.8 524.7h0M510.5 524.9h0M518.9 525.7h0M505.8 526.8h0M503.2 529.7h0M521.8 533.6h0M519.5 529.3h0M510.5 529.1h0M510.6 528.4h0M525.6 533.7h0M504.5 531.4h0M522.4 526.4h0M503.3 524.6h0M517.0 524.0h0M511.3 527.5h0M508.1 527.7h0M523.2 524.0h0M524.8 531.9h0M518.5 531.8h0M503.7 523.4h0M524.8 530.4h0M523.9 533.1h0M521.3 529.5h0M505.3 523.1h0M508.9 527.6h0M511.7 530.2h0M518.8 527.4h0M513.8 528.2h0M522.5 530.0h0M516.1 529.8h0M514.7 526.2h0M526.2 530.1h0M526.0 524.5h0M521.6 528.8h0M506.8 526.4h0M508.5 526.9h0M526.3 528.7h0M509.0 531.7h0M510.0 533.5h0M516.8 525.8h0M504.0 533.2h0M511.5 530.2h0M519.1 531.1h0M510.2 527.5h0M512.8 525.0h0M517.7 529.2h0M520.7 526.9h0M508.2 525.4h0M521.0 528.5h0M502.1 528.8h0M525.6 525.0h0M513.7 526.7h0M502.6 531.2h0M503.7 524.3h0M525.7 529.3h0M507.4 531.2h0M520.9 528.7h0M505.0 527.5h0M526.1 527.9h0M506.9 529.6h0M515.1 530.5h0M506.3 531.7h0M512.3 530.9h0M513.7 532.9h0M504.9 528.9h0M518.7 525.8h0M505.0 524.3h0M504.1 529.8h0M507.6 529.7h0M509.9 529.7h0M510.4 533.5h0M504.7 523.8h0M519.6 524.3h0M509.5 525.1h0M521.4 526.0h0M521.6 533.1h0M523.0 525.1h0M518.8 525.5h0M510.0 527.1h0M513.8 527.8h0M505.3 531.9h0M523.9 529.6h0M524.7 532.7h0M524.7 528.8h0M502.9 529.9h0M521.2 524.9h0M505.9 524.2h0M505.0 527.0h0M521.2 533.7h0M518.5 524.4h0M504.5 530.8h0M503.2 523.2h0M507.6 524.3h0M505.3 528.3h0M491.4 530.2h0M476.1 529.5h0M525.0 533.5h0M492.4 532.9h0M480.4 529.6h0M517.5 527.4h0M524.1 526.9h0M548.2 531.8h0M472.3 528.2h0M504.3 531.6h0M561.7 533.4h0M570.4 528.3h0M485.2 529.2h0M488.7 526.3h0M570.6 528.2h0M512.7 526.3h0M506.7 528.0h0M564.9 530.7h0M476.3 531.0h0M482.4 529.3h0M498.5 533.4h0M533.3 528.6h0M517.0 532.2h0M480.5 531.5h0M513.8 523.4h0M485.9 527.8h0M488.1 529.7h0M579.3 533.1h0M566.8 528.6h0M533.2 528.0h0M545.3 526.5h0M502.5 531.3h0M570.2 528.6h0M474.7 533.3h0M519.1 523.3h0M512.1 523.9h0M577.3 531.2h0M523.5 523.1h0M486.6 529.1h0M504.2 529.0h0M573.7 531.2h0M575.1 527.5h0M498.2 532.2h0M523.9 525.0h0M545.5 528.3h0M571.0 523.0h0M530.2 533.6h0M555.9 526.3h0M492.3 530.2h0M517.0 530.3h0M569.5 526.9h0M570.0 530.0h0M575.0 527.2h0M515.6 525.4h0M509.4 527.0h0M558.5 528.0h0M490.1 530.7h0M524.4 523.1h0M522.7 526.3h0M580.0 529.2h0M568.4 528.2h0M565.3 529.4h0M505.0 526.6h0M545.9 530.6h0M508.1 525.6h0M550.6 533.3h0M487.9 526.8h0M507.0 526.1h0M508.3 533.6h0M479.6 528.3h0M548.0 533.4h0M539.2 528.0h0M475.3 529.1h0M472.4 523.3h0M514.9 529.5h0M486.2 531.0h0M559.1 524.6h0M528.9 527.9h0M541.7 527.1h0M550.4 524.4h0M551.1 527.7h0M562.0 532.5h0M564.5 524.6h0M530.2 532.2h0M533.3 533.1h0M548.0 523.1h0M546.9 530.5h0M527.0 526.7h0M537.9 523.3h0M569.8 533.6h0M551.2 531.9h0M556.9 530.3h0M540.6 533.7h0M555.0 530.3h0M554.2 523.8h0M540.7 532.4h0M535.7 532.7h0M549.6 530.2h0M549.1 529.7h0M529.3 529.0h0M527.8 528.9h0M565.0 532.3h0M538.7 525.5h0M547.1 533.6h0M527.5 527.4h0M541.9 524.8h0M537.3 528.2h0M562.2 527.2h0M530.7 525.1h0M561.0 532.7h0M538.9 529.1h0M534.4 531.9h0M568.1 524.0h0M531.2 533.0h0M539.5 524.1h0M564.4 523.0h0M542.0 523.2h0M562.7 528.1h0M546.3 527.6h0M541.9 530.9h0M548.1 525.5h0M569.3 525.1h0M537.3 523.0h0M529.4 531.9h0M539.1 523.8h0M551.1 533.1h0M550.9 524.1h0M534.1 525.6h0M557.0 531.5h0M566.2 525.5h0M570.0 524.8h0M562.9 531.7h0M562.5 529.8h0M552.8 531.9h0M527.5 530.7h0M546.8 532.2h0M529.7 529.2h0M533.5 532.8h0M543.5 532.6h0M559.8 529.1h0M540.6 526.3h0M530.8 527.6h0M549.4 528.9h0M542.1 523.7h0M539.7 526.1h0M550.0 529.7h0M527.4 531.4h0M562.4 526.9h0M571.4 525.0h0M542.2 524.0h0M534.1 524.5h0M570.5 532.4h0M540.4 526.2h0M541.5 529.3h0M557.2 532.1h0M526.6 533.3h0M546.8 532.5h0M551.7 530.7h0M546.9 525.6h0M542.0 525.6h0M558.7 528.8h0M547.5 527.4h0M536.2 526.9h0M546.8 532.2h0M554.9 528.0h0M544.2 528.0h0M529.0 527.8h0M567.4 526.0h0M544.8 533.3h0M566.1 524.9h0M563.6 523.7h0M538.6 525.9h0M555.0 532.5h0M568.3 528.2h0M543.1 523.2h0M561.9 523.6h0M546.1 525.1h0M530.7 533.0h0M531.8 528.0h0M550.2 528.6h0M534.0 529.6h0M554.4 530.8h0M572.1 525.9h0M546.3 530.0h0M548.7 532.6h0M532.4 523.4h0M581.4 525.7h0M585.7 533.7h0M581.7 528.9h0M581.8 533.2h0M576.3 523.0h0M578.6 530.3h0M575.4 526.0h0M581.1 533.4h0M584.9 526.1h0M581.0 530.3h0M584.1 525.4h0M583.4 527.5h0M584.2 533.4h0M584.3 530.7h0M587.3 533.4h0M585.5 525.6h0M582.4 530.9h0M585.8 525.2h0M588.2 533.5h0M579.4 529.1h0M589.5 527.5h0M613.1 531.6h0M597.7 531.2h0M611.0 526.5h0M609.5 531.3h0M608.0 529.5h0" stroke="#bebebe" stroke-width="2.6" stroke-linecap="round" fill="none"/>
<path d="M464.8 534.3h0M467.5 536.5h0M471.5 534.9h0M470.9 533.8h0M478.0 535.3h0M473.5 535.4h0M490.2 533.9h0M481.9 536.2h0M494.3 535.7h0M486.4 535.6h0M487.4 535.0h0M496.5 534.8h0M478.9 535.0h0M486.4 535.5h0M496.9 536.1h0M499.6 534.4h0M489.5 536.6h0M485.8 536.4h0M488.3 535.5h0M501.8 534.0h0M497.6 536.3h0M497.2 534.0h0M479.9 533.8h0M495.6 536.3h0M489.6 534.4h0M479.0 534.1h0M501.0 535.0h0M479.8 535.1h0M498.5 536.4h0M493.3 534.8h0M512.9 536.0h0M526.4 535.2h0M514.7 536.6h0M507.2 535.7h0M512.5 535.2h0M515.5 536.1h0M526.3 535.4h0M517.7 535.9h0M514.3 533.8h0M511.3 536.1h0M524.3 535.0h0M514.3 535.0h0M521.8 535.7h0M510.2 534.9h0M522.2 535.6h0M512.8 536.2h0M507.8 535.5h0M502.1 536.1h0M518.7 535.5h0M507.9 534.4h0M511.4 536.0h0M525.6 533.9h0M511.0 535.7h0M502.6 533.9h0M522.3 535.8h0M526.1 534.7h0M504.8 533.9h0M508.7 534.3h0M509.8 533.9h0M506.4 535.3h0M519.4 535.4h0M525.7 535.1h0M524.4 536.4h0M504.6 535.8h0M510.3 535.9h0M515.1 535.8h0M502.2 534.4h0M521.8 535.7h0M569.2 535.5h0M548.7 534.9h0M491.5 534.3h0M576.3 534.1h0M535.5 534.9h0M492.7 533.9h0M553.9 535.2h0M488.4 535.9h0M527.0 534.7h0M541.0 536.3h0M483.0 534.8h0M559.5 536.2h0M521.1 534.6h0M479.0 535.1h0M577.8 536.1h0M483.2 535.5h0M499.6 535.1h0M569.3 534.7h0M572.4 535.5h0M576.9 536.2h0M527.6 535.1h0M570.6 535.8h0M543.5 534.9h0M566.1 536.6h0M554.1 534.2h0M538.3 534.5h0M534.2 534.7h0M562.5 534.9h0M541.2 536.5h0M540.8 534.1h0M540.2 534.5h0M535.4 535.4h0M538.9 536.4h0M547.2 534.8h0M551.1 535.7h0M532.5 535.4h0M534.9 534.1h0M537.1 534.2h0M568.1 534.1h0M573.2 535.1h0M542.2 533.9h0M532.7 535.7h0M531.5 534.5h0M555.1 535.8h0M544.9 535.8h0M528.8 534.9h0M540.0 535.2h0M563.1 535.6h0M554.7 535.5h0M554.8 534.5h0M560.7 536.0h0M560.1 536.5h0M526.7 534.4h0M572.5 534.5h0M550.7 536.5h0M557.4 534.6h0M539.3 533.8h0M575.9 536.1h0M589.9 536.3h0M583.2 536.4h0M582.8 535.8h0M578.2 534.0h0M575.6 534.8h0M585.9 536.1h0M612.1 535.1h0M623.0 534.1h0M603.5 534.9h0" stroke="#bebebe" stroke-width="2.4" stroke-linecap="round" fill="none"/>
<path d="M504.5 462.8h0M521.8 462.2h0M502.5 470.0h0" stroke="#bebebe" stroke-width="3.4" stroke-linecap="round" fill="none"/>
<path d="M371.3 479.1h0" stroke="#0000ff" stroke-width="3.4" stroke-linecap="round" fill="none"/>
<path d="M405.5 482.8h0" stroke="#6840f1" stroke-width="3.4" stroke-linecap="round" fill="none"/>
<path d="M426.3 476.6h0" stroke="#8259e8" stroke-width="3.4" stroke-linecap="round" fill="none"/>
<path d="M432.6 483.6h0" stroke="#8861e6" stroke-width="3.4" stroke-linecap="round" fill="none"/>
<path d="M453.6 477.5h0" stroke="#9b79dc" stroke-width="3.4" stroke-linecap="round" fill="none"/>
<path d="M463.7 480.7h0" stroke="#a285d8" stroke-width="3.4" stroke-linecap="round" fill="none"/>
<path d="M445.3 431.7h0" stroke="#9470e0" stroke-width="3.8" stroke-linecap="round" fill="none"/>
<path d="M448.3 427.8h0" stroke="#9673df" stroke-width="3.8" stroke-linecap="round" fill="none"/>
<path d="M488.9 366.1h0" stroke="#b2a1cb" stroke-width="4.4" stroke-linecap="round" fill="none"/>
<path d="M494.6 428.1h0M494.5 432.0h0M494.8 437.1h0" stroke="#b5a8c8" stroke-width="3.8" stroke-linecap="round" fill="none"/>
<path d="M479.0 450.0h0M479.1 464.5h0M479.2 471.1h0" stroke="#ac96d0" stroke-width="3.6" stroke-linecap="round" fill="none"/>
<path d="M470.0 446.0h0" stroke="#a68cd5" stroke-width="3.8" stroke-linecap="round" fill="none"/>
<path d="M465.0 464.0h0" stroke="#a386d7" stroke-width="3.6" stroke-linecap="round" fill="none"/>
<path d="M466.0 476.0h0" stroke="#a487d6" stroke-width="3.4" stroke-linecap="round" fill="none"/>
<path d="M460.0 478.0h0" stroke="#9f80d9" stroke-width="3.4" stroke-linecap="round" fill="none"/>
<path d="M476.0 441.0h0" stroke="#aa93d2" stroke-width="3.8" stroke-linecap="round" fill="none"/>
<path d="M490.0 437.0h0" stroke="#b2a2cb" stroke-width="3.8" stroke-linecap="round" fill="none"/>
<path d="M483.0 447.0h0" stroke="#ae9bce" stroke-width="3.8" stroke-linecap="round" fill="none"/>
<path d="M489.8 463.4h0M489.5 452.3h0" stroke="#b2a2cb" stroke-width="3.6" stroke-linecap="round" fill="none"/>
<path d="M495.5 450.0h0M496.0 458.1h0M495.7 453.3h0" stroke="#b5a9c8" stroke-width="3.6" stroke-linecap="round" fill="none"/>
<path d="M494.0 454.2h0" stroke="#b4a7c9" stroke-width="3.6" stroke-linecap="round" fill="none"/>
<path d="M492.1 484.1h0M492.1 471.8h0" stroke="#b3a5ca" stroke-width="3.4" stroke-linecap="round" fill="none"/>
<path d="M487.3 464.4h0" stroke="#b19fcc" stroke-width="3.6" stroke-linecap="round" fill="none"/>
<path d="M477.5 480.7h0" stroke="#ab94d1" stroke-width="3.4" stroke-linecap="round" fill="none"/>
<path d="M482.1 485.4h0M481.9 482.3h0" stroke="#ae99cf" stroke-width="3.4" stroke-linecap="round" fill="none"/>
<path d="M483.6 459.8h0" stroke="#af9bce" stroke-width="3.6" stroke-linecap="round" fill="none"/>
<path d="M482.8 447.6h0" stroke="#ae9ace" stroke-width="3.8" stroke-linecap="round" fill="none"/>
<path d="M480.5 457.1h0" stroke="#ad98cf" stroke-width="3.6" stroke-linecap="round" fill="none"/>
<path d="M498.4 455.6h0M498.4 466.3h0" stroke="#b7acc6" stroke-width="3.6" stroke-linecap="round" fill="none"/>
<path d="M478.4 461.3h0" stroke="#ac95d1" stroke-width="3.6" stroke-linecap="round" fill="none"/>
<path d="M485.3 462.6h0" stroke="#b09dcd" stroke-width="3.6" stroke-linecap="round" fill="none"/>
<path d="M473.7 458.6h0" stroke="#a990d3" stroke-width="3.6" stroke-linecap="round" fill="none"/>
<path d="M499.9 456.4h0" stroke="#b7aec6" stroke-width="3.6" stroke-linecap="round" fill="none"/>
<path d="M495.9 481.6h0M495.9 486.0h0" stroke="#b5a9c8" stroke-width="3.4" stroke-linecap="round" fill="none"/>
<path d="M497.1 481.1h0M496.9 479.5h0" stroke="#b6aac7" stroke-width="3.4" stroke-linecap="round" fill="none"/>
<path d="M487.7 479.7h0" stroke="#b1a0cc" stroke-width="3.4" stroke-linecap="round" fill="none"/>
<path d="M489.3 483.8h0M489.6 473.5h0M489.7 474.2h0" stroke="#b2a2cb" stroke-width="3.4" stroke-linecap="round" fill="none"/>
<path d="M501.7 463.2h0" stroke="#b8b0c5" stroke-width="3.6" stroke-linecap="round" fill="none"/>
<path d="M495.1 473.2h0M494.7 471.7h0" stroke="#b5a8c8" stroke-width="3.4" stroke-linecap="round" fill="none"/>
<path d="M482.9 455.6h0" stroke="#ae9ace" stroke-width="3.6" stroke-linecap="round" fill="none"/>
<path d="M501.4 465.9h0" stroke="#b8afc5" stroke-width="3.6" stroke-linecap="round" fill="none"/>
<path d="M469.8 475.8h0" stroke="#a68bd5" stroke-width="3.4" stroke-linecap="round" fill="none"/>
<path d="M476.0 459.4h0" stroke="#aa93d2" stroke-width="3.6" stroke-linecap="round" fill="none"/>
<path d="M485.0 472.2h0" stroke="#af9dcd" stroke-width="3.4" stroke-linecap="round" fill="none"/>
<path d="M467.4 467.2h0" stroke="#a489d6" stroke-width="3.6" stroke-linecap="round" fill="none"/>
<path d="M467.5 467.8h0" stroke="#a589d6" stroke-width="3.6" stroke-linecap="round" fill="none"/>
<path d="M498.5 475.5h0M498.8 472.4h0" stroke="#b7acc6" stroke-width="3.4" stroke-linecap="round" fill="none"/>
<path d="M484.3 477.9h0" stroke="#af9cce" stroke-width="3.4" stroke-linecap="round" fill="none"/>
<path d="M497.9 466.1h0M497.6 459.8h0" stroke="#b6abc7" stroke-width="3.6" stroke-linecap="round" fill="none"/>
<path d="M501.8 478.9h0" stroke="#b8b0c5" stroke-width="3.4" stroke-linecap="round" fill="none"/>
<path d="M485.7 477.6h0" stroke="#b09ecd" stroke-width="3.4" stroke-linecap="round" fill="none"/>
<path d="M475.5 480.9h0" stroke="#aa92d2" stroke-width="3.4" stroke-linecap="round" fill="none"/>
<path d="M465.4 474.1h0" stroke="#a387d7" stroke-width="3.4" stroke-linecap="round" fill="none"/>
<path d="M493.5 480.1h0" stroke="#b4a6c9" stroke-width="3.4" stroke-linecap="round" fill="none"/>
<path d="M492.7 470.0h0" stroke="#b4a5c9" stroke-width="3.6" stroke-linecap="round" fill="none"/>
<path d="M501.3 477.6h0M500.7 486.2h0" stroke="#b8afc5" stroke-width="3.4" stroke-linecap="round" fill="none"/>
<path d="M486.1 448.1h0" stroke="#b09ecd" stroke-width="3.8" stroke-linecap="round" fill="none"/>
<path d="M471.5 461.1h0" stroke="#a78dd4" stroke-width="3.6" stroke-linecap="round" fill="none"/>
<path d="M500.5 447.8h0" stroke="#b8aec5" stroke-width="3.8" stroke-linecap="round" fill="none"/>
<path d="M492.6 480.4h0" stroke="#b4a5c9" stroke-width="3.4" stroke-linecap="round" fill="none"/>
<path d="M488.1 456.6h0" stroke="#b1a0cc" stroke-width="3.6" stroke-linecap="round" fill="none"/>
<path d="M478.3 467.8h0" stroke="#ab95d1" stroke-width="3.6" stroke-linecap="round" fill="none"/>
<path d="M482.2 467.6h0" stroke="#ae9acf" stroke-width="3.6" stroke-linecap="round" fill="none"/>
<path d="M499.0 466.2h0" stroke="#b7adc6" stroke-width="3.6" stroke-linecap="round" fill="none"/>
<path d="M485.6 486.8h0" stroke="#b09dcd" stroke-width="3.4" stroke-linecap="round" fill="none"/>
<path d="M548.7 404.6h0M548.8 421.6h0" stroke="#dba192" stroke-width="4.0" stroke-linecap="round" fill="none"/>
<path d="M550.8 405.4h0" stroke="#dc9f8f" stroke-width="4.0" stroke-linecap="round" fill="none"/>
<path d="M555.7 410.0h0" stroke="#df9b89" stroke-width="4.0" stroke-linecap="round" fill="none"/>
<path d="M543.2 421.2h0" stroke="#d7a699" stroke-width="4.0" stroke-linecap="round" fill="none"/>
<path d="M553.0 424.3h0" stroke="#dd9d8c" stroke-width="4.0" stroke-linecap="round" fill="none"/>
<path d="M542.5 424.8h0" stroke="#d6a69a" stroke-width="4.0" stroke-linecap="round" fill="none"/>
<path d="M568.0 423.4h0" stroke="#e68f79" stroke-width="4.0" stroke-linecap="round" fill="none"/>
<path d="M570.0 423.4h0" stroke="#e78e77" stroke-width="4.0" stroke-linecap="round" fill="none"/>
<path d="M594.3 426.1h0" stroke="#f17659" stroke-width="3.8" stroke-linecap="round" fill="none"/>
<path d="M557.8 436.1h0" stroke="#e09986" stroke-width="3.8" stroke-linecap="round" fill="none"/>
<path d="M544.5 438.5h0" stroke="#d8a497" stroke-width="3.8" stroke-linecap="round" fill="none"/>
<path d="M539.0 441.0h0" stroke="#d4a99e" stroke-width="3.8" stroke-linecap="round" fill="none"/>
<path d="M549.6 441.6h0M549.2 441.2h0" stroke="#dba091" stroke-width="3.8" stroke-linecap="round" fill="none"/>
<path d="M552.0 441.4h0M551.9 445.3h0" stroke="#dd9e8e" stroke-width="3.8" stroke-linecap="round" fill="none"/>
<path d="M563.0 442.2h0M562.6 441.7h0M562.8 447.7h0" stroke="#e39480" stroke-width="3.8" stroke-linecap="round" fill="none"/>
<path d="M562.0 448.0h0" stroke="#e39581" stroke-width="3.8" stroke-linecap="round" fill="none"/>
<path d="M555.5 451.0h0" stroke="#df9b89" stroke-width="3.6" stroke-linecap="round" fill="none"/>
<path d="M600.0 453.3h0" stroke="#f37052" stroke-width="3.6" stroke-linecap="round" fill="none"/>
<path d="M629.5 455.3h0" stroke="#fb4b2d" stroke-width="3.6" stroke-linecap="round" fill="none"/>
<path d="M636.0 461.7h0" stroke="#fc4024" stroke-width="3.6" stroke-linecap="round" fill="none"/>
<path d="M591.6 461.1h0" stroke="#f0785c" stroke-width="3.6" stroke-linecap="round" fill="none"/>
<path d="M594.0 463.0h0" stroke="#f17659" stroke-width="3.6" stroke-linecap="round" fill="none"/>
<path d="M590.5 467.0h0" stroke="#f07a5e" stroke-width="3.6" stroke-linecap="round" fill="none"/>
<path d="M589.3 471.5h0" stroke="#ef7b5f" stroke-width="3.4" stroke-linecap="round" fill="none"/>
<path d="M587.5 476.0h0" stroke="#ee7d61" stroke-width="3.4" stroke-linecap="round" fill="none"/>
<path d="M583.2 471.0h0" stroke="#ed8167" stroke-width="3.6" stroke-linecap="round" fill="none"/>
<path d="M575.6 460.0h0" stroke="#e98870" stroke-width="3.6" stroke-linecap="round" fill="none"/>
<path d="M580.0 458.8h0" stroke="#eb846b" stroke-width="3.6" stroke-linecap="round" fill="none"/>
<path d="M585.0 455.0h0" stroke="#ed7f64" stroke-width="3.6" stroke-linecap="round" fill="none"/>
<path d="M576.5 463.5h0" stroke="#ea876f" stroke-width="3.6" stroke-linecap="round" fill="none"/>
<path d="M575.0 476.0h0" stroke="#e98971" stroke-width="3.4" stroke-linecap="round" fill="none"/>
<path d="M599.5 476.2h0" stroke="#f37052" stroke-width="3.4" stroke-linecap="round" fill="none"/>
<path d="M594.0 485.5h0" stroke="#f17659" stroke-width="3.4" stroke-linecap="round" fill="none"/>
<path d="M579.5 480.0h0" stroke="#eb856b" stroke-width="3.4" stroke-linecap="round" fill="none"/>
<path d="M582.0 483.0h0" stroke="#ec8268" stroke-width="3.4" stroke-linecap="round" fill="none"/>
<path d="M584.5 486.0h0" stroke="#ed8065" stroke-width="3.4" stroke-linecap="round" fill="none"/>
<path d="M532.0 460.0h0M531.8 470.9h0M531.7 469.9h0" stroke="#ceafa7" stroke-width="3.6" stroke-linecap="round" fill="none"/>
<path d="M528.0 455.0h0M528.1 469.5h0" stroke="#cbb3ac" stroke-width="3.6" stroke-linecap="round" fill="none"/>
<path d="M551.8 385.6h0" stroke="#dd9e8e" stroke-width="4.2" stroke-linecap="round" fill="none"/>
<path d="M555.6 388.7h0" stroke="#df9b89" stroke-width="4.2" stroke-linecap="round" fill="none"/>
<path d="M550.0 403.9h0" stroke="#dca090" stroke-width="4.0" stroke-linecap="round" fill="none"/>
<path d="M551.8 405.6h0" stroke="#dd9e8e" stroke-width="4.0" stroke-linecap="round" fill="none"/>
<path d="M549.2 421.1h0" stroke="#dba091" stroke-width="4.0" stroke-linecap="round" fill="none"/>
<path d="M552.7 422.6h0" stroke="#dd9d8d" stroke-width="4.0" stroke-linecap="round" fill="none"/>
<path d="M553.6 425.5h0" stroke="#de9c8b" stroke-width="4.0" stroke-linecap="round" fill="none"/>
<path d="M537.8 441.1h0" stroke="#d3aaa0" stroke-width="3.8" stroke-linecap="round" fill="none"/>
<path d="M543.6 438.3h0" stroke="#d7a598" stroke-width="3.8" stroke-linecap="round" fill="none"/>
<path d="M551.4 447.4h0" stroke="#dc9e8e" stroke-width="3.8" stroke-linecap="round" fill="none"/>
<path d="M549.9 449.6h0" stroke="#dba090" stroke-width="3.6" stroke-linecap="round" fill="none"/>
<path d="M559.1 449.6h0M559.1 471.0h0M558.5 457.7h0" stroke="#e19885" stroke-width="3.6" stroke-linecap="round" fill="none"/>
<path d="M545.5 452.9h0" stroke="#d9a496" stroke-width="3.6" stroke-linecap="round" fill="none"/>
<path d="M529.5 458.0h0" stroke="#ccb1aa" stroke-width="3.6" stroke-linecap="round" fill="none"/>
<path d="M535.0 455.4h0" stroke="#d1ada3" stroke-width="3.6" stroke-linecap="round" fill="none"/>
<path d="M537.0 486.1h0" stroke="#d2aba1" stroke-width="3.4" stroke-linecap="round" fill="none"/>
<path d="M560.0 486.4h0" stroke="#e19783" stroke-width="3.4" stroke-linecap="round" fill="none"/>
<path d="M534.0 464.6h0" stroke="#d0aea4" stroke-width="3.6" stroke-linecap="round" fill="none"/>
<path d="M550.5 478.5h0M550.6 472.4h0M550.4 483.7h0" stroke="#dc9f8f" stroke-width="3.4" stroke-linecap="round" fill="none"/>
<path d="M543.4 474.3h0" stroke="#d7a598" stroke-width="3.4" stroke-linecap="round" fill="none"/>
<path d="M557.8 476.1h0M557.7 474.5h0" stroke="#e09986" stroke-width="3.4" stroke-linecap="round" fill="none"/>
<path d="M567.1 480.1h0M567.1 484.1h0" stroke="#e5907b" stroke-width="3.4" stroke-linecap="round" fill="none"/>
<path d="M546.6 471.7h0" stroke="#d9a394" stroke-width="3.4" stroke-linecap="round" fill="none"/>
<path d="M538.2 481.5h0M538.4 482.4h0M538.1 485.9h0M538.1 481.1h0M538.2 486.2h0" stroke="#d3aa9f" stroke-width="3.4" stroke-linecap="round" fill="none"/>
<path d="M546.3 473.2h0M545.9 477.0h0M545.9 479.4h0" stroke="#d9a395" stroke-width="3.4" stroke-linecap="round" fill="none"/>
<path d="M565.4 484.6h0" stroke="#e4927d" stroke-width="3.4" stroke-linecap="round" fill="none"/>
<path d="M527.5 481.6h0" stroke="#cbb3ad" stroke-width="3.4" stroke-linecap="round" fill="none"/>
<path d="M562.5 484.0h0" stroke="#e39480" stroke-width="3.4" stroke-linecap="round" fill="none"/>
<path d="M550.2 462.3h0M550.1 466.5h0" stroke="#dca090" stroke-width="3.6" stroke-linecap="round" fill="none"/>
<path d="M528.4 472.8h0M528.1 476.1h0" stroke="#cbb2ac" stroke-width="3.4" stroke-linecap="round" fill="none"/>
<path d="M539.7 462.9h0M539.5 469.2h0" stroke="#d4a99d" stroke-width="3.6" stroke-linecap="round" fill="none"/>
<path d="M547.3 481.4h0M547.8 478.4h0M547.3 478.6h0" stroke="#daa293" stroke-width="3.4" stroke-linecap="round" fill="none"/>
<path d="M548.3 456.1h0M548.2 454.6h0" stroke="#daa192" stroke-width="3.6" stroke-linecap="round" fill="none"/>
<path d="M546.6 465.7h0" stroke="#d9a394" stroke-width="3.6" stroke-linecap="round" fill="none"/>
<path d="M527.6 463.7h0" stroke="#cbb3ad" stroke-width="3.6" stroke-linecap="round" fill="none"/>
<path d="M557.9 469.7h0M557.8 455.8h0" stroke="#e09986" stroke-width="3.6" stroke-linecap="round" fill="none"/>
<path d="M530.2 469.6h0M530.1 469.7h0" stroke="#cdb1a9" stroke-width="3.6" stroke-linecap="round" fill="none"/>
<path d="M533.7 477.3h0M533.8 486.6h0" stroke="#d0aea5" stroke-width="3.4" stroke-linecap="round" fill="none"/>
<path d="M549.4 477.9h0M549.2 484.3h0M549.5 475.2h0" stroke="#dba091" stroke-width="3.4" stroke-linecap="round" fill="none"/>
<path d="M545.3 466.5h0" stroke="#d8a496" stroke-width="3.6" stroke-linecap="round" fill="none"/>
<path d="M557.4 482.4h0M557.0 486.0h0M557.0 485.4h0" stroke="#e09987" stroke-width="3.4" stroke-linecap="round" fill="none"/>
<path d="M545.1 472.4h0M545.2 481.2h0" stroke="#d8a496" stroke-width="3.4" stroke-linecap="round" fill="none"/>
<path d="M553.4 474.2h0M553.2 479.6h0M553.2 485.7h0" stroke="#de9d8c" stroke-width="3.4" stroke-linecap="round" fill="none"/>
<path d="M530.1 483.2h0M530.2 476.3h0M530.5 479.4h0" stroke="#cdb1a9" stroke-width="3.4" stroke-linecap="round" fill="none"/>
<path d="M539.7 479.0h0" stroke="#d4a99d" stroke-width="3.4" stroke-linecap="round" fill="none"/>
<path d="M534.4 482.8h0M534.1 486.7h0" stroke="#d0ada4" stroke-width="3.4" stroke-linecap="round" fill="none"/>
<path d="M529.0 484.0h0" stroke="#ccb2ab" stroke-width="3.4" stroke-linecap="round" fill="none"/>
<path d="M537.4 484.5h0" stroke="#d3aba0" stroke-width="3.4" stroke-linecap="round" fill="none"/>
<path d="M535.1 475.4h0M535.0 474.0h0" stroke="#d1ada3" stroke-width="3.4" stroke-linecap="round" fill="none"/>
<path d="M561.2 483.3h0M561.4 472.3h0" stroke="#e29682" stroke-width="3.4" stroke-linecap="round" fill="none"/>
<path d="M543.1 473.5h0" stroke="#d7a699" stroke-width="3.4" stroke-linecap="round" fill="none"/>
<path d="M538.5 465.2h0" stroke="#d4aa9f" stroke-width="3.6" stroke-linecap="round" fill="none"/>
<path d="M542.3 470.9h0M542.4 459.3h0" stroke="#d6a69a" stroke-width="3.6" stroke-linecap="round" fill="none"/>
<path d="M554.2 480.4h0" stroke="#de9c8b" stroke-width="3.4" stroke-linecap="round" fill="none"/>
<path d="M540.3 475.2h0M540.5 480.2h0" stroke="#d5a89c" stroke-width="3.4" stroke-linecap="round" fill="none"/>
<path d="M544.5 459.8h0M544.7 460.4h0M544.8 461.5h0" stroke="#d8a497" stroke-width="3.6" stroke-linecap="round" fill="none"/>
<path d="M555.3 471.6h0M555.4 471.5h0" stroke="#df9b89" stroke-width="3.4" stroke-linecap="round" fill="none"/>
<path d="M529.2 470.1h0" stroke="#ccb2ab" stroke-width="3.6" stroke-linecap="round" fill="none"/>
<path d="M552.2 473.5h0M552.0 486.2h0" stroke="#dd9e8d" stroke-width="3.4" stroke-linecap="round" fill="none"/>
<path d="M556.4 474.8h0M556.3 473.0h0" stroke="#df9a88" stroke-width="3.4" stroke-linecap="round" fill="none"/>
<path d="M541.7 473.6h0M541.4 485.5h0M541.8 479.5h0" stroke="#d6a79b" stroke-width="3.4" stroke-linecap="round" fill="none"/>
<path d="M534.1 463.7h0M534.2 455.6h0" stroke="#d0ada4" stroke-width="3.6" stroke-linecap="round" fill="none"/>
<path d="M554.8 467.6h0" stroke="#de9b8a" stroke-width="3.6" stroke-linecap="round" fill="none"/>
<path d="M541.7 456.9h0" stroke="#d6a79b" stroke-width="3.6" stroke-linecap="round" fill="none"/>
<path d="M527.9 472.7h0" stroke="#cbb3ac" stroke-width="3.4" stroke-linecap="round" fill="none"/>
<path d="M547.5 459.4h0" stroke="#daa293" stroke-width="3.6" stroke-linecap="round" fill="none"/>
<path d="M539.0 467.4h0" stroke="#d4a99e" stroke-width="3.6" stroke-linecap="round" fill="none"/>
<path d="M536.0 464.7h0" stroke="#d2aca2" stroke-width="3.6" stroke-linecap="round" fill="none"/>
<path d="M563.2 481.0h0" stroke="#e3947f" stroke-width="3.4" stroke-linecap="round" fill="none"/>
<path d="M530.9 475.8h0" stroke="#ceb0a8" stroke-width="3.4" stroke-linecap="round" fill="none"/>
<path d="M540.2 464.0h0M540.3 454.2h0" stroke="#d5a89c" stroke-width="3.6" stroke-linecap="round" fill="none"/>
<path d="M556.8 483.9h0" stroke="#e09a87" stroke-width="3.4" stroke-linecap="round" fill="none"/>
<path d="M527.0 471.0h0" stroke="#cab3ad" stroke-width="3.6" stroke-linecap="round" fill="none"/>
<path d="M533.8 464.2h0" stroke="#d0aea5" stroke-width="3.6" stroke-linecap="round" fill="none"/>
<path d="M537.7 459.4h0M537.8 471.0h0" stroke="#d3aaa0" stroke-width="3.6" stroke-linecap="round" fill="none"/>
<path d="M564.2 474.6h0" stroke="#e4937e" stroke-width="3.4" stroke-linecap="round" fill="none"/>
<path d="M536.1 471.5h0M535.8 476.4h0" stroke="#d2aca2" stroke-width="3.4" stroke-linecap="round" fill="none"/>
<path d="M550.1 478.3h0" stroke="#dca090" stroke-width="3.4" stroke-linecap="round" fill="none"/>
<path d="M533.2 479.6h0M533.2 479.6h0" stroke="#cfaea5" stroke-width="3.4" stroke-linecap="round" fill="none"/>
<path d="M556.7 485.2h0" stroke="#e09a88" stroke-width="3.4" stroke-linecap="round" fill="none"/>
<path d="M551.5 483.3h0" stroke="#dc9e8e" stroke-width="3.4" stroke-linecap="round" fill="none"/>
<path d="M566.8 479.7h0M566.4 483.0h0" stroke="#e5917b" stroke-width="3.4" stroke-linecap="round" fill="none"/>
<path d="M530.7 467.9h0" stroke="#cdb0a9" stroke-width="3.6" stroke-linecap="round" fill="none"/>
<path d="M529.4 477.0h0" stroke="#ccb1aa" stroke-width="3.4" stroke-linecap="round" fill="none"/>
<path d="M562.4 479.9h0" stroke="#e39580" stroke-width="3.4" stroke-linecap="round" fill="none"/>
<path d="M554.8 477.6h0" stroke="#de9b8a" stroke-width="3.4" stroke-linecap="round" fill="none"/>
<path d="M533.0 457.9h0" stroke="#cfaea6" stroke-width="3.6" stroke-linecap="round" fill="none"/>
<path d="M556.8 464.4h0" stroke="#e09a87" stroke-width="3.6" stroke-linecap="round" fill="none"/>
<path d="M535.5 461.7h0" stroke="#d1aca2" stroke-width="3.6" stroke-linecap="round" fill="none"/>
<path d="M531.6 483.4h0" stroke="#ceb0a7" stroke-width="3.4" stroke-linecap="round" fill="none"/>
<path d="M549.1 459.6h0" stroke="#dba091" stroke-width="3.6" stroke-linecap="round" fill="none"/>
<path d="M559.5 485.9h0" stroke="#e19784" stroke-width="3.4" stroke-linecap="round" fill="none"/>
<path d="M554.1 444.2h0M553.8 448.7h0" stroke="#de9c8b" stroke-width="3.8" stroke-linecap="round" fill="none"/>
<path d="M573.7 466.6h0" stroke="#e98a72" stroke-width="3.6" stroke-linecap="round" fill="none"/>
<path d="M545.7 446.6h0M546.3 443.8h0" stroke="#d9a395" stroke-width="3.8" stroke-linecap="round" fill="none"/>
<path d="M551.0 429.4h0" stroke="#dc9f8f" stroke-width="3.8" stroke-linecap="round" fill="none"/>
<path d="M558.3 452.6h0" stroke="#e19886" stroke-width="3.6" stroke-linecap="round" fill="none"/>
<path d="M555.0 457.7h0" stroke="#df9b8a" stroke-width="3.6" stroke-linecap="round" fill="none"/>
<path d="M542.4 447.5h0" stroke="#d6a69a" stroke-width="3.8" stroke-linecap="round" fill="none"/>
<path d="M556.5 433.2h0" stroke="#e09a88" stroke-width="3.8" stroke-linecap="round" fill="none"/>
<path d="M571.9 478.0h0" stroke="#e88c75" stroke-width="3.4" stroke-linecap="round" fill="none"/>
<path d="M556.9 434.7h0" stroke="#e09a87" stroke-width="3.8" stroke-linecap="round" fill="none"/>
<path d="M556.2 461.1h0" stroke="#df9a88" stroke-width="3.6" stroke-linecap="round" fill="none"/>
<path d="M568.6 462.5h0M568.7 468.9h0" stroke="#e68f79" stroke-width="3.6" stroke-linecap="round" fill="none"/>
<path d="M550.3 451.2h0" stroke="#dc9f90" stroke-width="3.6" stroke-linecap="round" fill="none"/>
<path d="M557.5 436.0h0" stroke="#e09987" stroke-width="3.8" stroke-linecap="round" fill="none"/>
<path d="M552.9 445.1h0" stroke="#dd9d8c" stroke-width="3.8" stroke-linecap="round" fill="none"/>
<g stroke="#333" stroke-width="0.95" stroke-dasharray="1.6 1.5">
<line x1="502.09999999999997" y1="357.6" x2="502.09999999999997" y2="544.8"/><line x1="526.5" y1="357.6" x2="526.5" y2="544.8"/>
<line x1="358.1" y1="486.7717" x2="648.9" y2="486.7717"/>
</g>
<path d="M358.1 357.6V544.8H648.9" fill="none" stroke="#555" stroke-width="1.1"/>
<line x1="392.29999999999995" y1="544.8" x2="392.29999999999995" y2="546.4" stroke="#444" stroke-width="0.6"/>
<text x="392.29999999999995" y="550.0999999999999" class="ss" font-size="4" fill="#888" text-anchor="middle">-10</text>
<line x1="453.29999999999995" y1="544.8" x2="453.29999999999995" y2="546.4" stroke="#444" stroke-width="0.6"/>
<text x="453.29999999999995" y="550.0999999999999" class="ss" font-size="4" fill="#888" text-anchor="middle">-5</text>
<line x1="514.3" y1="544.8" x2="514.3" y2="546.4" stroke="#444" stroke-width="0.6"/>
<text x="514.3" y="550.0999999999999" class="ss" font-size="4" fill="#888" text-anchor="middle">0</text>
<line x1="575.3" y1="544.8" x2="575.3" y2="546.4" stroke="#444" stroke-width="0.6"/>
<text x="575.3" y="550.0999999999999" class="ss" font-size="4" fill="#888" text-anchor="middle">5</text>
<line x1="636.3" y1="544.8" x2="636.3" y2="546.4" stroke="#444" stroke-width="0.6"/>
<text x="636.3" y="550.0999999999999" class="ss" font-size="4" fill="#888" text-anchor="middle">10</text>
<line x1="356.5" y1="536.6" x2="358.1" y2="536.6" stroke="#444" stroke-width="0.6"/>
<text x="356.20000000000005" y="538.0" class="ss" font-size="4" fill="#888" text-anchor="end">0</text>
<line x1="356.5" y1="498.3" x2="358.1" y2="498.3" stroke="#444" stroke-width="0.6"/>
<text x="356.20000000000005" y="499.7" class="ss" font-size="4" fill="#888" text-anchor="end">1</text>
<line x1="356.5" y1="460.0" x2="358.1" y2="460.0" stroke="#444" stroke-width="0.6"/>
<text x="356.20000000000005" y="461.4" class="ss" font-size="4" fill="#888" text-anchor="end">2</text>
<line x1="356.5" y1="421.70000000000005" x2="358.1" y2="421.70000000000005" stroke="#444" stroke-width="0.6"/>
<text x="356.20000000000005" y="423.1" class="ss" font-size="4" fill="#888" text-anchor="end">3</text>
<line x1="356.5" y1="383.40000000000003" x2="358.1" y2="383.40000000000003" stroke="#444" stroke-width="0.6"/>
<text x="356.20000000000005" y="384.8" class="ss" font-size="4" fill="#888" text-anchor="end">4</text>
<text x="503.5" y="554.4" class="ss" font-size="4.6" fill="#333" text-anchor="middle">log2(FC)</text>
<text transform="translate(352.5,451.2) rotate(-90)" class="ss" font-size="4.45" fill="#333" text-anchor="middle">-log10(p-value)</text>
<defs><linearGradient id="gC5" x1="0" y1="0" x2="0" y2="1"><stop offset="0.000" stop-color="#fd391e"/><stop offset="0.083" stop-color="#f85b3c"/><stop offset="0.167" stop-color="#f17457"/><stop offset="0.250" stop-color="#e88a73"/><stop offset="0.333" stop-color="#dc9f8f"/><stop offset="0.417" stop-color="#ccb2ab"/><stop offset="0.500" stop-color="#bab5c2"/><stop offset="0.583" stop-color="#af9cce"/><stop offset="0.667" stop-color="#a182d8"/><stop offset="0.750" stop-color="#8f69e3"/><stop offset="0.833" stop-color="#784eec"/><stop offset="0.917" stop-color="#5731f6"/><stop offset="1.000" stop-color="#0000ff"/></linearGradient></defs>
<rect x="655.8" y="437.7" width="7" height="33.9" fill="url(#gC5)"/>
<text x="655.8" y="435.20000000000005" class="ss" font-size="4.6" fill="#222">FoldChange</text>
<text x="664.3" y="439.59999999999997" class="ss" font-size="4.5" fill="#333">10</text>
<text x="664.3" y="447.4" class="ss" font-size="4.5" fill="#333">5</text>
<text x="664.3" y="455.04999999999995" class="ss" font-size="4.5" fill="#333">0</text>
<text x="664.3" y="462.79999999999995" class="ss" font-size="4.5" fill="#333">-5</text>
<text x="664.3" y="470.5" class="ss" font-size="4.5" fill="#333">-10</text>
<text x="338.9" y="604.5" class="sf" font-weight="bold" font-size="13" text-anchor="middle">H6</text>
<rect x="238.6" y="618.9" width="25.6" height="7.4" fill="#d2def8" stroke="#1a6ef0" stroke-width="1.8"/>
<text x="267.9" y="625" class="ss" font-size="8" fill="#666" textLength="44.3" lengthAdjust="spacingAndGlyphs">Sig.Down [8]</text>
<rect x="319.09999999999997" y="618.9" width="25.6" height="7.4" fill="#f9d2d2" stroke="#ee3a32" stroke-width="1.8"/>
<text x="348.3" y="625" class="ss" font-size="8" fill="#666" textLength="39.1" lengthAdjust="spacingAndGlyphs">Sig.Up [10]</text>
<rect x="394.2" y="618.9" width="25.6" height="7.4" fill="#eceeee" stroke="#c8c8c8" stroke-width="1.8"/>
<text x="423.7" y="625" class="ss" font-size="8" fill="#666" textLength="46.7" lengthAdjust="spacingAndGlyphs">Unsig. [2679]</text>
<path d="M332.2 795.3h0M332.7 791.1h0M341.5 786.5h0M319.7 792.9h0M341.1 784.7h0M343.1 795.8h0M326.9 790.8h0M327.4 795.1h0M330.5 791.0h0M322.1 797.7h0M325.1 791.0h0M320.6 787.7h0M320.4 790.1h0M334.0 795.5h0M322.0 792.4h0M333.1 787.6h0M340.8 785.4h0M326.5 796.2h0M329.3 785.3h0M329.1 785.4h0M333.7 788.8h0M322.5 786.8h0M327.9 784.6h0M330.6 790.8h0M342.1 793.9h0M324.4 791.7h0M342.7 793.7h0M329.8 786.9h0M339.2 793.5h0M328.2 792.0h0M323.2 785.1h0M332.4 796.0h0M337.1 795.1h0M319.9 796.7h0M339.8 788.4h0M330.3 784.0h0M337.8 784.4h0M340.6 784.6h0M324.4 797.6h0M333.3 787.7h0M335.8 786.4h0M341.1 796.1h0M337.7 790.4h0M339.3 787.3h0M321.7 789.2h0M330.1 788.2h0M340.0 787.0h0M321.6 786.0h0M324.2 797.0h0M326.3 790.7h0M322.3 787.6h0M325.8 789.8h0M334.4 791.9h0M322.2 787.9h0M332.9 790.3h0M320.1 796.9h0M338.6 797.4h0M334.5 789.8h0M320.2 790.6h0M323.4 796.9h0M339.7 789.8h0M333.9 793.7h0M327.3 793.5h0M339.6 795.0h0M320.6 785.9h0M326.5 785.3h0M328.5 787.1h0M323.0 790.7h0M340.9 793.1h0M336.3 785.1h0M326.5 794.2h0M335.7 797.0h0M323.9 790.2h0M327.2 794.1h0M327.9 796.6h0M334.3 786.0h0M321.7 789.5h0M340.0 794.0h0M320.9 785.7h0M341.1 795.2h0M323.3 789.4h0M342.8 784.7h0M339.1 790.1h0M334.3 788.1h0M341.3 790.6h0M332.2 793.9h0M325.8 797.0h0M331.6 795.0h0M321.1 784.7h0M343.2 786.6h0M327.0 788.9h0M339.8 789.3h0M322.5 785.8h0M341.9 787.4h0M323.7 787.1h0M340.4 790.9h0M321.7 795.1h0M341.9 784.3h0M342.7 787.3h0M342.3 784.1h0M327.9 787.0h0M325.7 789.8h0M323.6 790.3h0M319.7 786.2h0M319.8 794.3h0M324.3 796.1h0M324.4 792.0h0M325.5 789.3h0M338.4 784.1h0M332.1 789.7h0M322.2 790.8h0M331.0 790.5h0M331.2 794.3h0M340.0 790.9h0M322.7 795.2h0M337.0 796.6h0M330.9 784.9h0M319.5 787.2h0M320.3 796.3h0M324.6 794.2h0M326.7 793.2h0M336.5 787.6h0M328.5 788.3h0M331.5 785.1h0M336.4 789.4h0M323.1 789.5h0M331.6 791.4h0M331.8 795.5h0M342.5 786.4h0M338.7 796.1h0M343.3 784.1h0M341.6 790.6h0M331.1 791.2h0M321.8 787.2h0M325.9 791.4h0M325.4 784.8h0M331.9 786.0h0M331.2 795.4h0M325.3 791.6h0M324.6 797.1h0M321.7 794.0h0M327.1 796.4h0M340.0 785.0h0M321.8 783.7h0M338.4 790.1h0M342.9 789.7h0M329.2 785.5h0M320.3 787.7h0M335.5 792.6h0M330.5 794.1h0M341.5 789.9h0M341.6 790.2h0M342.1 785.2h0M319.9 796.9h0M323.9 790.0h0M331.8 796.5h0M326.1 783.7h0M340.4 795.4h0M323.2 792.1h0M335.7 794.0h0M322.2 791.3h0M329.4 797.4h0M327.4 785.4h0M332.4 796.3h0M327.4 791.2h0M336.7 792.2h0M324.7 784.5h0M333.5 796.3h0M338.8 792.7h0M331.2 789.2h0M342.4 789.2h0M342.1 785.5h0M322.2 784.5h0M320.9 793.4h0M334.6 794.9h0M334.9 791.7h0M334.0 784.0h0M343.2 787.0h0M331.2 790.4h0M340.2 789.0h0M325.4 783.9h0M332.5 790.6h0M337.5 787.5h0M343.3 785.7h0M340.0 794.2h0M331.9 785.0h0M337.2 796.4h0M338.6 795.0h0M329.4 789.9h0M337.6 795.7h0M325.4 797.6h0M322.0 791.7h0M338.2 787.3h0M325.5 796.5h0M335.6 792.3h0M326.4 784.8h0M339.7 788.0h0M339.6 789.3h0M342.5 795.9h0M331.3 786.4h0M321.9 795.9h0M341.8 796.1h0M332.3 796.6h0M332.2 786.2h0M334.9 795.5h0M323.8 795.6h0M338.3 794.4h0M329.9 792.3h0M324.1 786.1h0M333.7 795.4h0M322.6 784.6h0M336.1 790.1h0M333.8 790.1h0M329.4 789.4h0M321.5 795.2h0M326.0 795.9h0M335.9 792.7h0M333.9 792.1h0M333.1 787.2h0M341.5 795.2h0M335.9 784.7h0M321.2 792.2h0M330.9 787.8h0M340.6 796.0h0M325.9 794.0h0M339.2 785.1h0M338.0 784.5h0M337.6 786.7h0M340.8 790.2h0M333.7 790.1h0M341.9 789.9h0M335.0 788.5h0M336.8 796.3h0M338.4 786.3h0M331.4 784.7h0M338.4 790.9h0M337.2 789.2h0M335.2 796.2h0M342.8 784.0h0M327.4 795.6h0M336.6 786.7h0M323.2 795.3h0M320.4 795.7h0M321.8 787.2h0M324.9 797.5h0M338.1 788.4h0M323.9 784.2h0M323.5 795.1h0M333.4 787.4h0M340.8 787.7h0M342.0 796.2h0M319.9 787.9h0M330.0 787.8h0M328.0 794.3h0M329.0 790.3h0M334.0 794.1h0M332.5 796.6h0M339.7 793.9h0M321.1 793.0h0M292.2 783.8h0M284.4 787.5h0M295.3 794.0h0M297.9 793.0h0M286.7 797.3h0M306.5 793.0h0M313.6 796.1h0M316.7 794.0h0M317.0 785.0h0M310.0 788.0h0M308.4 794.6h0M300.8 784.8h0M302.9 790.0h0M309.5 785.3h0M300.7 785.1h0M315.1 791.7h0M312.9 784.6h0M313.4 785.4h0M302.0 791.9h0M318.4 790.1h0M299.3 792.7h0M304.7 784.6h0M344.5 789.7h0M366.4 791.4h0M345.8 789.3h0M349.0 792.7h0M347.0 793.9h0M347.9 788.5h0M367.2 790.2h0M365.2 783.9h0M356.3 785.8h0M352.2 793.9h0M349.9 795.7h0M348.5 795.4h0M365.6 796.5h0M355.3 796.4h0M369.2 791.0h0M358.1 795.6h0M355.5 788.8h0M355.2 788.7h0M346.4 786.7h0M350.6 796.8h0M357.5 794.8h0M348.5 785.9h0M357.8 792.5h0M350.0 797.6h0M360.2 793.4h0M344.5 783.7h0M349.4 784.3h0M359.1 790.6h0M353.1 790.2h0M356.7 788.2h0M351.4 787.9h0M344.7 791.7h0M350.5 794.8h0M346.0 792.3h0M345.2 795.4h0M347.9 793.9h0M349.9 788.7h0M349.7 795.2h0M363.9 785.0h0M354.7 788.3h0M350.6 793.9h0M367.8 786.0h0M357.7 795.0h0M346.7 793.4h0M373.0 784.8h0M378.3 797.7h0" stroke="#bebebe" stroke-width="2.8" stroke-linecap="round" fill="none"/>
<path d="M321.5 744.2h0M324.3 728.2h0M324.9 728.6h0M319.6 741.3h0M320.5 732.2h0M328.0 738.1h0M328.4 731.7h0M324.0 728.1h0M325.6 740.4h0M330.4 731.7h0M325.0 727.4h0M326.8 743.5h0M322.6 736.4h0M323.7 727.4h0M326.7 739.4h0M320.1 728.7h0M320.1 746.7h0M325.0 734.9h0M328.7 729.1h0M326.0 735.1h0M327.4 728.5h0M324.1 732.8h0M320.1 727.2h0M325.0 732.4h0M325.0 738.7h0M322.1 745.7h0M321.5 740.4h0M330.5 733.8h0M327.7 747.2h0M320.7 745.1h0M326.4 738.0h0M322.4 744.9h0M323.2 727.0h0M324.5 743.8h0M328.2 746.1h0M321.9 728.0h0M327.9 744.9h0M327.3 744.5h0M322.2 737.2h0M330.6 743.1h0M320.7 729.4h0M324.7 728.9h0M320.6 739.5h0M319.8 734.1h0M328.7 738.3h0M327.9 736.6h0M324.2 747.2h0M323.0 735.3h0M323.2 747.2h0M323.2 732.7h0M324.8 734.9h0M322.1 736.8h0M327.7 735.6h0M321.4 739.3h0M320.3 737.6h0M329.4 727.0h0M325.8 734.2h0M323.8 729.2h0M325.7 742.4h0M327.0 736.7h0M322.3 740.9h0M330.4 731.4h0M320.3 735.0h0M329.5 746.6h0M327.9 734.7h0M329.1 735.1h0M322.1 730.8h0M328.0 745.8h0M326.6 727.5h0M330.2 731.0h0M320.6 739.3h0M326.2 733.8h0M322.9 737.4h0M329.9 731.0h0M324.6 743.2h0M328.8 744.9h0M330.0 738.4h0M328.3 744.8h0M324.0 746.2h0M330.0 734.5h0M321.0 745.3h0M329.4 747.2h0M327.4 736.2h0M329.3 733.4h0M323.9 744.2h0M330.6 736.4h0M329.1 737.8h0M326.5 730.9h0M326.8 746.9h0M324.5 731.4h0M324.7 738.2h0M321.3 745.6h0M324.8 747.5h0M329.0 729.3h0M328.2 747.3h0M325.0 746.1h0M328.4 745.8h0M324.4 746.8h0M328.1 745.6h0M320.5 746.9h0M322.9 745.9h0M201.2 737.4h0M212.9 736.8h0M214.5 731.3h0M220.0 727.2h0M219.2 736.4h0M228.8 738.2h0M231.9 738.8h0M233.5 741.5h0M233.9 733.7h0M239.0 732.7h0M242.5 741.5h0M245.2 743.9h0M244.2 734.1h0M243.5 737.4h0M248.7 740.3h0M251.7 730.7h0M252.7 734.7h0M253.4 740.5h0M255.0 746.0h0M261.1 747.0h0M266.0 747.0h0M270.7 745.0h0M271.7 746.6h0M256.4 727.6h0M260.5 731.7h0M263.2 735.2h0M267.7 729.6h0M268.7 736.8h0M273.4 735.4h0M274.8 728.6h0M284.4 729.2h0M288.5 731.7h0M284.0 742.3h0M289.5 738.8h0M291.6 737.8h0M295.9 737.4h0M298.3 736.4h0M292.2 743.3h0M303.0 739.4h0M306.1 743.5h0M310.6 738.8h0M313.6 736.8h0M315.1 738.8h0M316.7 735.8h0M309.1 746.0h0M316.0 730.0h0M317.5 742.0h0M318.0 728.0h0M311.9 738.6h0M318.9 733.3h0M308.2 737.0h0M307.0 739.6h0M319.1 741.5h0M315.4 733.1h0M309.9 742.5h0M307.6 732.7h0M318.4 742.2h0M397.6 734.0h0M395.5 744.7h0M395.7 740.9h0M422.5 731.7h0M366.8 741.7h0M367.8 744.4h0M419.6 736.4h0M385.7 743.3h0M409.7 735.7h0M436.1 740.1h0M425.9 732.0h0M418.7 728.4h0M366.3 738.6h0M407.1 736.6h0M421.9 729.4h0M410.4 735.0h0M415.3 743.4h0M405.7 735.9h0M388.2 742.6h0M415.3 735.6h0M391.3 737.2h0M428.9 742.9h0M414.0 745.1h0M403.0 735.3h0M370.1 742.3h0M419.3 733.9h0M425.5 730.5h0M396.7 735.7h0M382.1 747.5h0M368.2 743.6h0M369.4 740.0h0M420.4 735.5h0M392.2 736.9h0M412.4 741.9h0M362.6 746.8h0M433.0 742.2h0M420.7 746.8h0M385.2 740.4h0M438.7 733.7h0M407.6 744.8h0M367.9 742.2h0M409.3 729.5h0M420.7 741.1h0M370.3 745.7h0M438.9 739.4h0M394.1 731.9h0M370.6 745.0h0M396.7 742.5h0M382.5 735.5h0M432.7 742.6h0M398.5 734.2h0M399.3 746.8h0M419.8 736.3h0M379.1 737.2h0M436.8 736.2h0M406.3 732.7h0M415.4 732.1h0M347.7 745.4h0M355.6 743.4h0M427.2 735.9h0M381.8 747.4h0M379.6 740.5h0M439.2 735.1h0M366.4 743.3h0M429.5 742.9h0M424.4 737.2h0M391.2 738.1h0M393.4 739.0h0M384.7 738.4h0M411.0 740.9h0M388.0 741.1h0M431.5 746.1h0M402.2 736.5h0M428.6 736.1h0M393.7 737.0h0M433.1 745.6h0M436.4 728.9h0M407.9 734.7h0M436.9 730.0h0M438.3 740.1h0M434.1 736.1h0M398.7 741.1h0M419.0 734.3h0M377.6 736.6h0M414.6 733.6h0M393.4 736.4h0M416.8 731.3h0M428.9 730.3h0M380.8 738.7h0M436.7 734.8h0M435.7 740.7h0M414.8 727.5h0M372.7 735.5h0M432.2 735.4h0M435.9 744.5h0M409.1 727.0h0M404.0 742.5h0M425.0 741.6h0M382.2 745.0h0M429.9 739.3h0M427.5 735.8h0M413.7 738.5h0M383.5 739.8h0M404.5 738.8h0M401.5 736.5h0M397.6 736.7h0M400.5 738.0h0M357.6 746.4h0M430.2 731.8h0M392.5 733.2h0M433.1 733.2h0M390.0 739.2h0M413.2 729.4h0M375.0 745.4h0M371.4 741.9h0M410.9 738.7h0M400.9 742.5h0M412.9 734.2h0M406.9 746.4h0M408.0 737.2h0M415.0 728.2h0M419.3 743.2h0M425.1 739.8h0M369.5 737.8h0M433.3 744.7h0M367.5 740.0h0M400.1 737.6h0M364.4 739.4h0M426.6 738.6h0M431.6 736.5h0M439.9 742.1h0M393.5 728.2h0M345.4 739.5h0M357.3 736.6h0M357.5 728.1h0M347.6 734.2h0M446.8 733.8h0M453.3 734.2h0M455.4 738.5h0M460.9 739.3h0M433.5 730.9h0M428.2 730.4h0M435.3 737.4h0M431.1 740.8h0" stroke="#bebebe" stroke-width="3.4" stroke-linecap="round" fill="none"/>
<path d="M330.2 809.9h0M332.5 810.2h0M325.7 810.0h0M341.1 808.8h0M338.6 808.7h0M328.1 810.0h0M341.7 809.2h0M334.5 809.5h0M338.7 810.1h0M322.9 808.5h0M334.3 810.7h0M330.4 809.2h0M339.0 810.1h0M339.6 808.7h0M330.0 809.2h0M319.6 809.1h0M331.2 808.3h0M326.6 810.1h0M329.1 808.4h0M343.0 808.7h0M330.1 810.8h0M329.4 810.7h0M336.2 810.4h0M329.0 808.9h0M323.4 809.1h0M324.5 808.9h0M342.6 809.2h0M339.4 809.1h0M342.3 809.8h0M324.0 808.9h0M330.8 809.7h0M320.0 810.3h0M337.1 810.8h0M314.7 808.3h0M312.8 808.2h0M310.6 808.6h0M385.2 810.4h0" stroke="#bebebe" stroke-width="2.4" stroke-linecap="round" fill="none"/>
<path d="M325.9 780.1h0M324.4 772.5h0M321.7 780.9h0M333.6 778.3h0M339.4 767.5h0M342.6 774.6h0M324.3 768.7h0M320.1 782.3h0M323.9 778.6h0M324.7 783.0h0M325.1 779.1h0M341.1 773.8h0M338.4 778.6h0M323.5 771.1h0M330.1 781.2h0M339.8 767.1h0M327.8 770.9h0M339.1 782.3h0M327.4 783.3h0M342.4 775.9h0M336.3 781.4h0M330.2 781.0h0M330.9 776.9h0M326.4 778.1h0M342.0 780.0h0M324.8 774.9h0M327.7 773.7h0M340.7 776.1h0M342.0 768.1h0M333.3 780.5h0M323.3 782.5h0M343.3 772.6h0M325.3 772.0h0M325.8 779.4h0M336.0 780.7h0M328.1 769.2h0M330.8 779.4h0M335.1 780.5h0M327.4 766.9h0M328.6 776.0h0M325.9 781.7h0M330.7 777.0h0M325.9 769.1h0M321.9 776.8h0M339.9 781.9h0M335.8 775.5h0M330.1 767.4h0M332.8 779.8h0M334.0 778.5h0M334.9 772.9h0M339.4 781.4h0M335.1 782.7h0M337.7 769.9h0M326.3 783.3h0M340.5 779.5h0M328.8 768.8h0M339.7 770.2h0M338.8 778.3h0M324.3 783.1h0M330.2 777.5h0M319.7 771.3h0M319.8 778.5h0M327.1 782.2h0M330.0 768.4h0M333.8 778.2h0M334.0 777.6h0M323.9 775.2h0M330.4 775.3h0M326.8 783.2h0M325.5 770.1h0M339.7 779.8h0M332.9 783.2h0M342.0 781.4h0M339.5 769.6h0M329.1 769.0h0M328.1 771.1h0M334.0 780.1h0M320.7 783.4h0M326.5 776.0h0M325.5 779.6h0M319.6 775.1h0M320.2 774.6h0M320.0 782.2h0M322.0 779.9h0M330.1 773.9h0M334.3 780.0h0M330.0 774.7h0M336.9 768.6h0M342.5 780.8h0M341.5 766.9h0M320.1 769.6h0M339.4 773.1h0M323.0 771.1h0M331.0 779.9h0M325.7 781.9h0M327.7 771.0h0M340.2 774.1h0M322.7 783.1h0M320.1 772.6h0M326.9 767.4h0M320.8 769.4h0M326.5 776.1h0M322.9 780.5h0M323.8 775.8h0M341.7 768.9h0M340.8 768.6h0M340.2 782.5h0M329.0 767.9h0M340.0 774.2h0M342.3 767.5h0M323.8 767.9h0M337.5 778.9h0M323.7 777.0h0M324.3 767.4h0M327.1 773.1h0M338.6 769.0h0M325.6 782.0h0M336.4 770.3h0M333.6 781.5h0M328.6 776.0h0M330.0 776.4h0M325.4 768.7h0M319.9 767.9h0M325.0 770.5h0M337.5 777.9h0M342.2 776.4h0M343.2 775.0h0M322.8 767.7h0M342.1 766.8h0M343.4 778.9h0M341.2 777.9h0M335.6 780.3h0M341.3 781.9h0M332.6 780.0h0M326.7 783.3h0M334.2 776.3h0M330.5 783.5h0M329.4 771.2h0M326.8 776.6h0M328.6 766.9h0M324.8 772.3h0M324.5 781.7h0M320.4 777.2h0M330.5 766.8h0M330.6 772.6h0M333.8 778.4h0M340.3 771.2h0M328.2 779.2h0M340.5 783.2h0M325.3 782.8h0M329.5 776.0h0M337.7 776.9h0M334.7 777.0h0M323.4 766.8h0M328.2 768.9h0M330.3 769.3h0M322.5 783.5h0M330.4 781.7h0M325.7 781.7h0M337.2 780.4h0M325.9 783.3h0M319.7 782.9h0M336.0 780.2h0M342.9 783.4h0M324.5 781.8h0M335.3 782.0h0M334.3 781.7h0M343.1 780.7h0M336.4 781.1h0M331.1 780.6h0M337.0 781.8h0M321.7 783.0h0M325.9 781.4h0M327.6 781.0h0M328.1 782.9h0M341.9 782.7h0M336.7 780.8h0M339.8 781.9h0M326.6 781.2h0M324.5 781.7h0M336.2 780.7h0M333.4 781.2h0M324.9 782.4h0M330.3 781.5h0M324.0 781.1h0M320.9 780.7h0M323.0 783.5h0M319.9 772.1h0M320.3 775.4h0M330.5 775.5h0M326.5 770.8h0M326.7 767.1h0M328.4 777.3h0M319.8 778.2h0M325.2 774.0h0M324.2 775.5h0M320.4 771.4h0M330.2 769.6h0M321.1 779.8h0M325.6 771.1h0M329.0 768.5h0M320.4 766.8h0M329.3 769.1h0M328.0 774.4h0M325.7 777.7h0M321.1 777.7h0M330.6 777.6h0M330.3 771.6h0M326.6 770.6h0M328.2 775.8h0M328.9 769.8h0M320.7 768.4h0M320.6 767.8h0M325.5 779.2h0M321.4 777.2h0M324.7 772.5h0M319.8 775.7h0M325.3 779.0h0M325.8 770.2h0M326.7 773.4h0M321.5 775.0h0M322.2 770.0h0M320.9 779.9h0M324.2 774.6h0M319.5 767.0h0M322.6 772.1h0M321.4 775.4h0M328.6 777.1h0M321.7 773.9h0M323.7 768.6h0M322.8 768.4h0M327.0 777.7h0M258.7 776.6h0M265.0 774.2h0M305.5 768.1h0M307.9 773.0h0M309.6 777.7h0M314.7 769.5h0M315.1 777.7h0M306.5 775.6h0M307.5 779.7h0M312.2 780.7h0M303.0 782.4h0M296.3 779.7h0M298.3 778.3h0M287.1 781.7h0M282.6 771.5h0M288.1 771.5h0M317.5 770.0h0M310.0 775.0h0M309.6 771.8h0M311.5 779.6h0M314.0 779.8h0M308.9 778.5h0M304.9 769.3h0M306.2 774.3h0M319.4 776.0h0M312.2 767.8h0M352.3 774.0h0M358.9 769.4h0M349.1 774.9h0M352.8 770.9h0M347.6 768.5h0M349.2 782.9h0M362.4 768.8h0M371.4 782.3h0M371.8 769.8h0M343.8 775.9h0M344.8 780.7h0M348.4 776.3h0M358.4 783.4h0M358.3 772.3h0M364.8 771.6h0M346.1 770.0h0M352.6 778.1h0M360.8 774.4h0M358.3 774.2h0M347.6 777.2h0M346.3 770.4h0M364.9 776.3h0M369.6 768.2h0M362.2 779.6h0M352.8 777.7h0M344.1 774.7h0M370.1 773.1h0M358.6 778.1h0M357.2 781.6h0M348.8 781.0h0M347.9 776.3h0M365.7 768.2h0M349.4 766.7h0M366.4 770.7h0M344.4 777.2h0M352.8 775.1h0M359.9 778.3h0M367.1 781.2h0M364.1 777.6h0M358.1 773.0h0M373.5 777.7h0M352.7 781.3h0M347.1 774.8h0M354.6 776.9h0M352.8 771.8h0M384.0 772.7h0" stroke="#bebebe" stroke-width="3.0" stroke-linecap="round" fill="none"/>
<path d="M327.4 748.2h0M323.0 758.0h0M341.6 764.7h0M339.7 766.5h0M322.6 755.6h0M339.1 761.1h0M328.9 761.7h0M322.3 751.5h0M339.4 766.5h0M329.3 750.7h0M320.1 759.6h0M327.3 766.7h0M322.2 753.2h0M325.8 749.0h0M337.6 765.1h0M321.5 763.7h0M328.6 756.3h0M330.6 755.1h0M325.6 766.3h0M330.4 748.2h0M328.6 750.8h0M328.1 750.8h0M330.4 750.7h0M320.5 766.2h0M329.6 759.9h0M338.7 761.6h0M323.7 747.7h0M322.0 750.2h0M325.2 765.6h0M327.6 765.6h0M320.3 756.8h0M326.2 754.3h0M329.7 751.6h0M321.1 760.7h0M321.7 764.5h0M340.4 763.7h0M328.4 748.7h0M321.2 761.4h0M320.2 762.5h0M330.2 759.1h0M325.6 754.2h0M343.1 766.5h0M326.2 751.0h0M328.4 757.0h0M327.8 748.2h0M330.1 749.0h0M328.1 757.9h0M320.5 758.4h0M320.9 755.6h0M325.4 758.9h0M324.4 757.6h0M330.5 755.7h0M329.0 763.3h0M321.7 761.9h0M324.4 751.7h0M329.6 747.8h0M322.5 753.5h0M329.0 748.9h0M322.8 764.1h0M322.3 765.9h0M337.3 765.7h0M329.8 754.6h0M339.5 764.7h0M328.6 752.7h0M327.5 758.6h0M322.2 762.0h0M320.1 762.5h0M326.9 762.2h0M325.6 751.5h0M324.2 754.1h0M328.3 756.6h0M325.0 766.1h0M327.6 748.1h0M341.0 764.5h0M325.5 748.6h0M339.8 761.6h0M322.4 756.6h0M328.0 751.5h0M326.5 763.0h0M340.3 762.9h0M323.2 764.7h0M328.1 762.0h0M329.4 758.4h0M330.5 761.1h0M327.3 752.1h0M338.9 764.9h0M338.8 763.7h0M328.3 759.8h0M328.4 755.1h0M326.5 766.5h0M321.7 755.4h0M321.4 763.3h0M326.0 758.4h0M330.0 754.1h0M322.4 765.1h0M322.5 765.5h0M328.1 752.9h0M330.5 764.0h0M325.8 762.3h0M325.0 759.7h0M323.0 751.2h0M323.4 754.4h0M321.4 764.0h0M326.8 763.6h0M328.1 754.3h0M320.1 764.0h0M328.8 762.0h0M321.1 749.8h0M326.4 765.7h0M329.1 760.4h0M324.9 757.3h0M329.9 751.8h0M320.0 754.3h0M325.8 763.4h0M325.3 760.8h0M327.0 751.6h0M328.9 751.1h0M329.5 758.3h0M325.1 761.9h0M322.1 763.0h0M324.8 755.0h0M325.2 763.0h0M327.3 751.2h0M327.5 760.5h0M328.0 751.6h0M323.3 764.0h0M329.1 755.2h0M328.3 751.2h0M319.6 749.6h0M319.9 766.6h0M319.9 754.7h0M330.2 753.8h0M324.6 756.9h0M329.5 760.7h0M321.5 759.8h0M325.3 750.1h0M320.4 765.8h0M326.9 757.8h0M321.6 757.9h0M322.6 756.4h0M329.0 762.9h0M322.3 765.5h0M330.8 751.5h0M321.0 760.8h0M322.8 754.1h0M321.5 752.3h0M320.4 766.6h0M330.4 751.6h0M323.2 762.9h0M324.0 761.2h0M324.2 764.6h0M322.8 763.4h0M326.0 749.1h0M324.1 766.0h0M320.3 757.6h0M330.3 761.5h0M324.6 759.7h0M322.2 754.4h0M321.0 762.9h0M324.3 762.4h0M323.9 766.0h0M323.0 751.1h0M325.5 755.9h0M319.9 765.0h0M324.6 758.5h0M330.5 749.9h0M327.7 761.8h0M326.6 757.7h0M329.5 755.5h0M321.4 762.2h0M327.3 752.8h0M321.7 750.1h0M327.2 766.4h0M325.8 763.3h0M325.1 755.6h0M257.0 748.4h0M258.9 753.1h0M252.1 760.9h0M302.0 747.6h0M310.6 749.5h0M313.6 752.7h0M315.7 754.6h0M283.6 752.7h0M285.2 755.6h0M289.5 750.5h0M293.8 748.4h0M298.7 750.1h0M302.8 754.2h0M294.8 760.9h0M297.9 757.6h0M300.8 760.3h0M300.4 766.4h0M296.7 759.3h0M302.0 763.0h0M313.6 761.3h0M281.4 764.4h0M286.1 766.4h0M316.5 760.0h0M318.5 750.0h0M315.6 753.3h0M318.9 758.5h0M303.6 751.6h0M306.4 750.3h0M307.7 764.6h0M358.6 755.4h0M353.9 749.7h0M357.9 748.9h0M365.3 748.1h0M373.0 748.7h0M434.9 748.2h0M347.2 753.2h0M352.1 761.6h0M359.8 755.4h0M358.4 760.4h0M348.9 751.1h0M404.5 749.4h0M382.2 751.5h0M364.1 749.7h0M367.4 748.1h0M397.0 748.3h0M358.8 754.2h0M355.1 750.8h0M354.1 748.2h0M349.0 763.9h0M348.8 753.1h0M367.2 750.5h0M379.8 748.5h0M352.2 761.4h0M349.8 760.7h0M355.8 750.0h0M352.6 750.7h0M368.7 754.4h0M367.0 748.4h0M358.8 754.3h0M354.9 754.9h0M358.9 762.6h0M352.9 753.2h0M345.0 760.2h0M367.6 753.5h0M370.2 750.1h0M348.5 765.0h0M353.0 756.5h0M346.9 763.8h0M348.9 765.5h0M346.0 766.0h0M345.8 758.5h0M360.2 765.3h0M347.1 759.7h0M345.7 760.0h0M354.0 763.7h0M347.9 759.6h0M360.0 760.6h0M355.5 755.5h0M345.2 764.2h0M352.0 757.3h0M351.5 765.1h0M355.3 763.5h0M358.6 757.0h0M355.2 761.9h0M364.5 765.2h0M415.9 756.5h0M383.3 757.3h0M380.0 765.0h0M377.0 760.0h0" stroke="#bebebe" stroke-width="3.2" stroke-linecap="round" fill="none"/>
<path d="M319.7 800.2h0M339.4 799.3h0M334.8 800.4h0M334.6 797.9h0M337.3 803.4h0M323.9 803.2h0M343.1 807.1h0M327.8 808.0h0M343.3 806.5h0M321.6 805.9h0M324.8 804.9h0M333.2 807.8h0M329.8 799.2h0M340.6 802.6h0M330.9 803.0h0M341.7 800.1h0M327.8 799.5h0M332.7 803.8h0M341.9 805.6h0M333.6 808.0h0M331.9 807.1h0M323.6 797.8h0M343.1 805.6h0M336.3 801.7h0M338.8 798.3h0M327.6 805.9h0M340.9 804.4h0M336.0 804.2h0M329.5 804.2h0M323.0 805.0h0M324.5 808.1h0M324.5 799.9h0M330.9 802.3h0M334.6 801.9h0M332.5 804.5h0M324.4 803.3h0M321.1 800.0h0M323.5 804.6h0M327.1 801.4h0M341.6 804.1h0M336.7 805.6h0M326.5 803.7h0M321.3 801.1h0M324.1 805.7h0M326.6 804.7h0M324.8 801.9h0M335.5 799.0h0M343.3 799.0h0M336.9 805.1h0M342.0 799.1h0M324.4 805.1h0M325.7 802.4h0M342.5 798.0h0M336.3 807.5h0M325.9 798.0h0M336.0 801.9h0M336.6 807.4h0M342.3 805.6h0M320.3 802.3h0M329.0 798.0h0M330.7 803.9h0M324.8 799.7h0M333.9 808.1h0M334.0 803.9h0M338.5 803.5h0M320.0 802.6h0M322.6 804.1h0M336.9 804.2h0M332.0 800.7h0M334.3 798.7h0M336.1 798.2h0M323.1 801.3h0M341.4 803.1h0M328.1 803.0h0M340.6 806.6h0M320.6 806.6h0M333.8 800.1h0M331.4 799.0h0M325.1 799.7h0M335.1 800.2h0M320.9 807.0h0M334.8 801.0h0M325.8 801.6h0M320.9 804.1h0M323.3 800.3h0M325.6 800.3h0M323.3 807.8h0M320.4 802.0h0M341.5 798.7h0M333.2 800.2h0M335.1 807.4h0M331.4 801.3h0M328.2 800.5h0M342.3 808.1h0M326.5 805.6h0M341.9 808.0h0M330.4 804.6h0M334.0 802.8h0M333.2 806.5h0M332.2 804.8h0M326.1 804.2h0M325.3 805.0h0M338.8 804.3h0M325.9 802.9h0M328.5 803.4h0M335.9 802.3h0M341.4 807.6h0M337.1 805.7h0M328.3 800.6h0M343.1 807.3h0M327.4 799.9h0M324.6 799.6h0M323.7 797.8h0M327.9 803.9h0M326.5 797.7h0M322.1 800.1h0M328.2 799.1h0M324.7 798.2h0M327.4 802.4h0M333.2 798.4h0M330.4 803.6h0M331.6 804.7h0M339.2 806.3h0M325.2 799.7h0M331.7 802.2h0M340.3 801.4h0M320.9 808.0h0M327.8 799.8h0M340.5 806.3h0M337.9 798.4h0M339.5 799.6h0M327.7 805.3h0M319.6 803.0h0M322.0 798.2h0M341.0 804.7h0M333.2 802.1h0M334.3 799.9h0M321.3 804.5h0M325.6 800.3h0M342.5 799.1h0M326.2 804.5h0M325.1 800.6h0M320.3 807.4h0M342.6 802.3h0M328.1 802.8h0M330.6 800.3h0M334.9 801.9h0M340.1 801.6h0M326.9 800.1h0M342.9 799.5h0M323.4 798.2h0M340.5 801.9h0M321.0 806.0h0M333.9 803.3h0M337.8 807.2h0M334.8 805.0h0M334.2 805.3h0M331.3 798.5h0M326.9 801.6h0M322.8 797.9h0M337.5 800.0h0M334.3 806.1h0M338.9 808.1h0M331.0 805.2h0M330.5 806.7h0M339.3 803.7h0M343.1 807.7h0M319.9 805.8h0M322.1 798.9h0M334.3 808.1h0M321.1 799.5h0M324.0 802.0h0M330.4 803.9h0M332.1 807.9h0M325.4 800.0h0M336.4 798.3h0M340.9 802.6h0M333.8 799.0h0M321.1 801.5h0M320.1 797.8h0M335.2 806.1h0M299.7 799.5h0M293.2 799.1h0M297.3 804.2h0M308.5 798.1h0M307.5 803.2h0M312.6 800.1h0M311.6 806.3h0M318.0 800.0h0M316.5 805.0h0M305.0 808.0h0M309.9 803.2h0M308.7 806.2h0M302.6 798.5h0M356.0 798.1h0M347.2 802.3h0M352.4 804.3h0M362.0 798.3h0M348.5 803.2h0M352.9 798.7h0M362.4 801.1h0M357.1 804.1h0M351.9 802.7h0M345.1 801.2h0M345.9 799.2h0M349.1 805.1h0M347.9 803.3h0M348.0 804.7h0M353.1 799.8h0M347.3 801.0h0M355.5 803.8h0M355.8 800.7h0M348.7 798.8h0M359.8 799.3h0" stroke="#bebebe" stroke-width="2.6" stroke-linecap="round" fill="none"/>
<path d="M329.1 718.1h0M324.4 716.5h0M328.6 720.4h0M330.1 723.6h0M327.2 724.5h0M322.8 720.5h0M322.2 724.4h0M329.4 715.3h0M329.7 719.2h0M326.1 718.0h0M322.9 722.8h0M327.0 714.3h0M324.2 722.0h0M329.4 710.5h0M327.8 721.5h0M324.3 719.5h0M320.6 725.9h0M328.5 722.7h0M328.3 721.8h0M324.9 717.9h0M329.9 713.2h0M326.8 717.7h0M324.8 715.9h0M321.8 723.9h0M326.9 710.7h0M328.6 719.9h0M327.6 722.6h0M326.8 715.7h0M322.9 722.5h0M328.9 714.8h0M329.0 710.7h0M329.3 717.5h0M330.3 719.5h0M324.6 722.8h0M323.4 722.4h0M329.6 719.5h0M328.4 717.9h0M327.3 711.6h0M324.5 718.2h0M217.2 726.0h0M257.4 720.4h0M261.5 721.0h0M264.6 718.4h0M268.7 716.8h0M270.1 710.6h0M264.6 710.2h0M264.2 706.5h0M257.4 726.0h0M267.3 724.1h0M271.3 722.5h0M281.4 722.1h0M283.0 721.9h0M288.7 722.5h0M291.8 719.4h0M303.8 708.6h0M291.6 705.1h0M420.5 724.0h0M422.8 723.7h0M408.8 724.4h0M389.0 718.0h0M379.1 712.4h0M344.9 718.5h0M390.1 712.7h0M354.7 714.4h0M373.4 724.9h0M380.2 709.5h0M361.1 717.4h0M364.6 710.8h0M402.3 711.5h0M350.8 720.8h0M371.1 720.1h0M350.8 716.6h0M390.7 717.6h0M397.3 720.5h0M358.4 710.0h0M352.3 716.1h0M373.2 710.8h0M379.8 708.5h0M371.3 716.1h0M368.1 719.5h0M362.8 723.7h0M360.5 724.7h0M370.4 725.2h0M398.8 716.5h0M417.4 713.9h0M415.5 721.8h0M408.3 722.2h0M463.3 719.9h0M342.3 720.9h0" stroke="#bebebe" stroke-width="3.6" stroke-linecap="round" fill="none"/>
<path d="M251.8 700.1h0" stroke="#2811fd" stroke-width="4.0" stroke-linecap="round" fill="none"/>
<path d="M255.3 703.7h0" stroke="#3d1efb" stroke-width="4.0" stroke-linecap="round" fill="none"/>
<path d="M272.6 684.7h0" stroke="#7349ee" stroke-width="4.0" stroke-linecap="round" fill="none"/>
<path d="M277.5 683.3h0" stroke="#7d54ea" stroke-width="4.0" stroke-linecap="round" fill="none"/>
<path d="M292.9 680.8h0" stroke="#9673df" stroke-width="4.0" stroke-linecap="round" fill="none"/>
<path d="M282.9 701.4h0" stroke="#875fe6" stroke-width="4.0" stroke-linecap="round" fill="none"/>
<path d="M296.8 701.5h0" stroke="#9b7adc" stroke-width="4.0" stroke-linecap="round" fill="none"/>
<path d="M309.3 699.8h0" stroke="#aa93d2" stroke-width="4.0" stroke-linecap="round" fill="none"/>
<path d="M373.7 639.8h0" stroke="#ee7d62" stroke-width="4.4" stroke-linecap="round" fill="none"/>
<path d="M363.9 660.1h0" stroke="#e78d77" stroke-width="4.2" stroke-linecap="round" fill="none"/>
<path d="M347.8 674.2h0" stroke="#d6a69a" stroke-width="4.2" stroke-linecap="round" fill="none"/>
<path d="M385.1 676.9h0" stroke="#f5684a" stroke-width="4.2" stroke-linecap="round" fill="none"/>
<path d="M386.3 678.8h0" stroke="#f66647" stroke-width="4.2" stroke-linecap="round" fill="none"/>
<path d="M411.1 690.4h0" stroke="#fe1c0a" stroke-width="4.0" stroke-linecap="round" fill="none"/>
<path d="M367.6 694.1h0" stroke="#ea876f" stroke-width="4.0" stroke-linecap="round" fill="none"/>
<path d="M357.3 696.6h0" stroke="#e19885" stroke-width="4.0" stroke-linecap="round" fill="none"/>
<path d="M348.4 699.6h0" stroke="#d7a598" stroke-width="4.0" stroke-linecap="round" fill="none"/>
<path d="M349.1 703.6h0" stroke="#d8a497" stroke-width="4.0" stroke-linecap="round" fill="none"/>
<g stroke="#333" stroke-width="0.95" stroke-dasharray="1.6 1.5">
<line x1="319.15999999999997" y1="631.6" x2="319.15999999999997" y2="819.3"/><line x1="343.64" y1="631.6" x2="343.64" y2="819.3"/>
<line x1="188.6" y1="705.2588" x2="475.7" y2="705.2588"/>
</g>
<path d="M188.6 631.6V819.3H475.7" fill="none" stroke="#555" stroke-width="1.1"/>
<line x1="208.99999999999997" y1="819.3" x2="208.99999999999997" y2="820.9" stroke="#444" stroke-width="0.6"/>
<text x="208.99999999999997" y="824.5999999999999" class="ss" font-size="4" fill="#888" text-anchor="middle">-10</text>
<line x1="270.2" y1="819.3" x2="270.2" y2="820.9" stroke="#444" stroke-width="0.6"/>
<text x="270.2" y="824.5999999999999" class="ss" font-size="4" fill="#888" text-anchor="middle">-5</text>
<line x1="331.4" y1="819.3" x2="331.4" y2="820.9" stroke="#444" stroke-width="0.6"/>
<text x="331.4" y="824.5999999999999" class="ss" font-size="4" fill="#888" text-anchor="middle">0</text>
<line x1="392.59999999999997" y1="819.3" x2="392.59999999999997" y2="820.9" stroke="#444" stroke-width="0.6"/>
<text x="392.59999999999997" y="824.5999999999999" class="ss" font-size="4" fill="#888" text-anchor="middle">5</text>
<line x1="453.79999999999995" y1="819.3" x2="453.79999999999995" y2="820.9" stroke="#444" stroke-width="0.6"/>
<text x="453.79999999999995" y="824.5999999999999" class="ss" font-size="4" fill="#888" text-anchor="middle">10</text>
<line x1="187.0" y1="810.9" x2="188.6" y2="810.9" stroke="#444" stroke-width="0.6"/>
<text x="186.7" y="812.3" class="ss" font-size="4" fill="#888" text-anchor="end">0.0</text>
<line x1="187.0" y1="770.3" x2="188.6" y2="770.3" stroke="#444" stroke-width="0.6"/>
<text x="186.7" y="771.6999999999999" class="ss" font-size="4" fill="#888" text-anchor="end">0.5</text>
<line x1="187.0" y1="729.6999999999999" x2="188.6" y2="729.6999999999999" stroke="#444" stroke-width="0.6"/>
<text x="186.7" y="731.0999999999999" class="ss" font-size="4" fill="#888" text-anchor="end">1.0</text>
<line x1="187.0" y1="689.0999999999999" x2="188.6" y2="689.0999999999999" stroke="#444" stroke-width="0.6"/>
<text x="186.7" y="690.4999999999999" class="ss" font-size="4" fill="#888" text-anchor="end">1.5</text>
<line x1="187.0" y1="648.5" x2="188.6" y2="648.5" stroke="#444" stroke-width="0.6"/>
<text x="186.7" y="649.9" class="ss" font-size="4" fill="#888" text-anchor="end">2.0</text>
<text x="332.15" y="828.9" class="ss" font-size="4.6" fill="#333" text-anchor="middle">log2(FC)</text>
<text transform="translate(183.0,725.45) rotate(-90)" class="ss" font-size="4.45" fill="#333" text-anchor="middle">-log10(p-value)</text>
<defs><linearGradient id="gH6" x1="0" y1="0" x2="0" y2="1"><stop offset="0.000" stop-color="#fe1a09"/><stop offset="0.083" stop-color="#fa4c2e"/><stop offset="0.167" stop-color="#f56a4b"/><stop offset="0.250" stop-color="#ec8268"/><stop offset="0.333" stop-color="#e19885"/><stop offset="0.417" stop-color="#d1aca2"/><stop offset="0.500" stop-color="#bdbcbf"/><stop offset="0.583" stop-color="#b2a1cb"/><stop offset="0.667" stop-color="#a387d7"/><stop offset="0.750" stop-color="#916ce1"/><stop offset="0.833" stop-color="#7a51ec"/><stop offset="0.917" stop-color="#5932f5"/><stop offset="1.000" stop-color="#0000ff"/></linearGradient></defs>
<rect x="483" y="711.7" width="7" height="34.3" fill="url(#gH6)"/>
<text x="483" y="709.1" class="ss" font-size="4.6" fill="#222">FoldChange</text>
<text x="491.5" y="714.6999999999999" class="ss" font-size="4.5" fill="#333">6</text>
<text x="491.5" y="722.4" class="ss" font-size="4.5" fill="#333">3</text>
<text x="491.5" y="730.0" class="ss" font-size="4.5" fill="#333">0</text>
<text x="491.5" y="737.9" class="ss" font-size="4.5" fill="#333">-3</text>
<text x="491.5" y="745.6999999999999" class="ss" font-size="4.5" fill="#333">-6</text>
</svg>
</body></html>
